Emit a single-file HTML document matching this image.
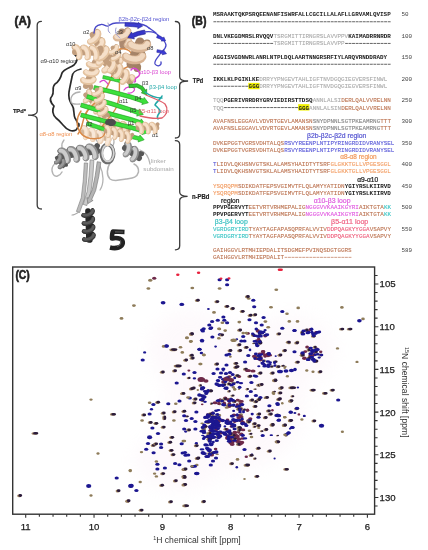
<!DOCTYPE html><html><head><meta charset="utf-8"><style>html,body{margin:0;padding:0;background:#fff;width:428px;height:550px;overflow:hidden}body{position:relative;font-family:"Liberation Sans",sans-serif}</style></head><body><svg width="428" height="550" viewBox="0 0 428 550" style="position:absolute;left:0;top:0;filter:blur(0.3px)"><defs><filter id="bt" x="-2%" y="-10%" width="104%" height="120%"><feGaussianBlur stdDeviation="0.3"/></filter></defs><g font-family="Liberation Mono" font-size="5.933" font-weight="normal" stroke-width="0.1" filter="url(#bt)"><text x="213.00" y="16.40" fill="#222222" stroke="#222222" font-weight="bold" stroke-width="0">MSRAAKTQKPSRQEENANFISWRFALLCGCILLALAFLLGRVAMLQVISP</text><line x1="213.45" y1="21.75" x2="391.00" y2="21.75" stroke="#222222" stroke-width="0.7" stroke-dasharray="2.9 0.66" stroke-dashoffset="0.2"/><text x="401.5" y="16.40" fill="#444">50</text><text x="213.00" y="38.10" fill="#222222" stroke="#222222" font-weight="bold" stroke-width="0">DNLVKEGDMRSLRVQQV</text><text x="273.52" y="38.10" fill="#ababab" stroke="#ababab">TSRGMITTIRNGRSLAVVPPV</text><text x="348.28" y="38.10" fill="#222222" stroke="#222222" font-weight="bold" stroke-width="0">KAIMADRRNRDR</text><line x1="213.45" y1="43.45" x2="273.52" y2="43.45" stroke="#222222" stroke-width="0.7" stroke-dasharray="2.9 0.66" stroke-dashoffset="0.2"/><text x="273.52" y="45.45" fill="#ababab" stroke="#ababab">TSRGMITTIRNGRSLAVVPP</text><line x1="345.17" y1="43.45" x2="391.00" y2="43.45" stroke="#222222" stroke-width="0.7" stroke-dasharray="2.9 0.66" stroke-dashoffset="0.2"/><text x="401.5" y="38.10" fill="#444">100</text><text x="213.00" y="58.90" fill="#222222" stroke="#222222" font-weight="bold" stroke-width="0">AGGISVGDNWRLANRLNTPLDQLAARTNNGRSRFIYLARQVRNDDRADY</text><line x1="213.45" y1="64.25" x2="391.00" y2="64.25" stroke="#222222" stroke-width="0.7" stroke-dasharray="2.9 0.66" stroke-dashoffset="0.2"/><text x="401.5" y="58.90" fill="#444">150</text><text x="213.00" y="80.90" fill="#222222" stroke="#222222" font-weight="bold" stroke-width="0">IKKLKLPGIKLKE</text><text x="259.28" y="80.90" fill="#ababab" stroke="#ababab">DRRYYPNGEVTAHLIGFTNVDGQGIEGVERSFINWL</text><line x1="213.45" y1="86.25" x2="248.60" y2="86.25" stroke="#222222" stroke-width="0.7" stroke-dasharray="2.9 0.66" stroke-dashoffset="0.2"/><rect x="248.30" y="82.85" width="11.28" height="6.4" fill="#f2f200"/><text x="248.60" y="88.25" fill="#222222" stroke="#222222" font-weight="bold" stroke-width="0">GGG</text><text x="259.28" y="88.25" fill="#ababab" stroke="#ababab">DRRYYPNGEVTAHLIGFTNVDGQGIEGVERSFINWL</text><text x="401.5" y="80.90" fill="#444">200</text><text x="213.00" y="102.20" fill="#ababab" stroke="#ababab">TQQ</text><text x="223.68" y="102.20" fill="#222222" stroke="#222222" font-weight="bold" stroke-width="0">PGERIVRRDRYGRVIEDIRSTTDSQ</text><text x="312.68" y="102.20" fill="#ababab" stroke="#ababab">ANNLALSI</text><text x="341.16" y="102.20" fill="#bc7452" stroke="#bc7452">DERLQALVVRELNN</text><text x="213.00" y="109.55" fill="#ababab" stroke="#ababab">TQQ</text><line x1="224.13" y1="107.55" x2="298.44" y2="107.55" stroke="#222222" stroke-width="0.7" stroke-dasharray="2.9 0.66" stroke-dashoffset="0.2"/><rect x="298.14" y="104.15" width="11.28" height="6.4" fill="#f2f200"/><text x="298.44" y="109.55" fill="#222222" stroke="#222222" font-weight="bold" stroke-width="0">GGG</text><text x="309.12" y="109.55" fill="#ababab" stroke="#ababab">ANNLALSIN</text><text x="341.16" y="109.55" fill="#bc7452" stroke="#bc7452">DERLQALVVRELNN</text><text x="401.5" y="102.20" fill="#444">250</text><text x="213.00" y="122.80" fill="#bc7452" stroke="#bc7452">AVAFNSLEGGAVLVDVRTGEVLAMANSN</text><text x="312.68" y="122.80" fill="#858585" stroke="#858585">SNYDPNNLSGTPKEAMRNG</text><text x="380.32" y="122.80" fill="#bc7452" stroke="#bc7452">TTT</text><text x="213.00" y="130.15" fill="#bc7452" stroke="#bc7452">AVAFNSLEGGAVLVDVRTGEVLAMANSN</text><text x="312.68" y="130.15" fill="#858585" stroke="#858585">SNYDPNNLSGTPKEAMRNG</text><text x="380.32" y="130.15" fill="#bc7452" stroke="#bc7452">TTT</text><text x="401.5" y="122.80" fill="#444">300</text><text x="213.00" y="144.80" fill="#bc7452" stroke="#bc7452">DVKEPGGTVGRSVDHTALQS</text><text x="284.20" y="144.80" fill="#5a5ad8" stroke="#5a5ad8">RSVYREENPLNTIPYRINGRDIDVRANYSEL</text><text x="213.00" y="152.15" fill="#bc7452" stroke="#bc7452">DVKEPGGTVGRSVDHTALQS</text><text x="284.20" y="152.15" fill="#5a5ad8" stroke="#5a5ad8">RSVYREENPLNTIPYRINGRDIDVRANYSEL</text><text x="401.5" y="144.80" fill="#444">350</text><text x="213.00" y="165.60" fill="#5a5ad8" stroke="#5a5ad8">T</text><text x="216.56" y="165.60" fill="#bc7452" stroke="#bc7452">LIDVLQKHSNVGTSKLALAMSYHAIDTYTSRF</text><text x="330.48" y="165.60" fill="#f29c62" stroke="#f29c62">GLGKKTGLLVPGESGGL</text><text x="213.00" y="172.95" fill="#5a5ad8" stroke="#5a5ad8">T</text><text x="216.56" y="172.95" fill="#bc7452" stroke="#bc7452">LIDVLQKHSNVGTSKLALAMSYHAIDTYTSRF</text><text x="330.48" y="172.95" fill="#f29c62" stroke="#f29c62">GLGKKTGLLVPGESGGL</text><text x="401.5" y="165.60" fill="#444">400</text><text x="213.00" y="187.80" fill="#f29c62" stroke="#f29c62">YSQRQPM</text><text x="237.92" y="187.80" fill="#bc7452" stroke="#bc7452">SDIKDATFEPSVGIMVTFLQLAMYYATIDN</text><text x="344.72" y="187.80" fill="#222222" stroke="#222222" font-weight="bold" stroke-width="0">YGIYRSLKIIRVD</text><text x="213.00" y="195.15" fill="#f29c62" stroke="#f29c62">YSQRQPM</text><text x="237.92" y="195.15" fill="#bc7452" stroke="#bc7452">SDIKDATFEPSVGIMVTFLQLAMYYATIDN</text><text x="344.72" y="195.15" fill="#222222" stroke="#222222" font-weight="bold" stroke-width="0">YGIYRSLKIIRVD</text><text x="401.5" y="187.80" fill="#444">450</text><text x="213.00" y="208.90" fill="#222222" stroke="#222222" font-weight="bold" stroke-width="0">PPVPGERVYT</text><text x="248.60" y="208.90" fill="#bc7452" stroke="#bc7452">EETVRTVRHMEPALIG</text><text x="305.56" y="208.90" fill="#e058e0" stroke="#e058e0">NGGGVVKAAIKGYRI</text><text x="358.96" y="208.90" fill="#bc7452" stroke="#bc7452">AIKTGTA</text><text x="383.88" y="208.90" fill="#38c4c4" stroke="#38c4c4">KK</text><text x="213.00" y="216.25" fill="#222222" stroke="#222222" font-weight="bold" stroke-width="0">PPVPGERVYT</text><text x="248.60" y="216.25" fill="#bc7452" stroke="#bc7452">EETVRTVRHMEPALIG</text><text x="305.56" y="216.25" fill="#e058e0" stroke="#e058e0">NGGGVVKAAIKGYRI</text><text x="358.96" y="216.25" fill="#bc7452" stroke="#bc7452">AIKTGTA</text><text x="383.88" y="216.25" fill="#38c4c4" stroke="#38c4c4">KK</text><text x="401.5" y="208.90" fill="#444">500</text><text x="213.00" y="230.50" fill="#38c4c4" stroke="#38c4c4">VGRDGRYIRD</text><text x="248.60" y="230.50" fill="#bc7452" stroke="#bc7452">TYAYTAGFAPASQPRFALVVIV</text><text x="326.92" y="230.50" fill="#ee5c7a" stroke="#ee5c7a">DDPQAGKYYGGA</text><text x="369.64" y="230.50" fill="#bc7452" stroke="#bc7452">VSAPVY</text><text x="213.00" y="237.85" fill="#38c4c4" stroke="#38c4c4">VGRDGRYIRD</text><text x="248.60" y="237.85" fill="#bc7452" stroke="#bc7452">TYAYTAGFAPASQPRFALVVIV</text><text x="326.92" y="237.85" fill="#ee5c7a" stroke="#ee5c7a">DDPQAGKYYGGA</text><text x="369.64" y="237.85" fill="#bc7452" stroke="#bc7452">VSAPVY</text><text x="401.5" y="230.50" fill="#444">550</text><text x="213.00" y="252.00" fill="#bc7452" stroke="#bc7452">GAIHGGVLRTMHIEPDALITSDGMEFPVINQSDGTGGRS</text><text x="213.00" y="259.35" fill="#bc7452" stroke="#bc7452">GAIHGGVLRTMHIEPDALIT</text><line x1="284.65" y1="257.35" x2="351.84" y2="257.35" stroke="#bc7452" stroke-width="0.7" stroke-dasharray="2.9 0.66" stroke-dashoffset="0.2"/><text x="401.5" y="252.00" fill="#444">589</text></g><g font-family="Liberation Sans"><text x="307.1" y="137.9" fill="#5a5ad2" stroke="#5a5ad2" stroke-width="0.22" font-size="6.8" textLength="59.3" lengthAdjust="spacingAndGlyphs">β2b-β2c-β2d region</text><text x="340.2" y="159.0" fill="#f29a5c" stroke="#f29a5c" stroke-width="0.22" font-size="7.0" textLength="36.4" lengthAdjust="spacingAndGlyphs">α8-α8 region</text><text x="357.2" y="181.8" fill="#222" stroke="#222" stroke-width="0.22" font-size="6.6" textLength="21.0" lengthAdjust="spacingAndGlyphs">α9-α10</text><text x="221.1" y="203.0" fill="#222" stroke="#222" stroke-width="0.22" font-size="6.8" textLength="18.4" lengthAdjust="spacingAndGlyphs">region</text><text x="313.7" y="203.4" fill="#e060e0" stroke="#e060e0" stroke-width="0.22" font-size="6.8" textLength="36.8" lengthAdjust="spacingAndGlyphs">α10-β3 loop</text><text x="214.8" y="223.9" fill="#40c4c4" stroke="#40c4c4" stroke-width="0.22" font-size="6.8" textLength="33.0" lengthAdjust="spacingAndGlyphs">β3-β4 loop</text><text x="331.1" y="223.8" fill="#f06888" stroke="#f06888" stroke-width="0.22" font-size="6.8" textLength="37.2" lengthAdjust="spacingAndGlyphs">β5-α11 loop</text></g><g fill="none" stroke="#3a3a3a" stroke-width="1.3" stroke-linecap="round"><path d="M 41.4 21.3 Q 37.2 21.3 37.2 25.3 L 37.2 111.2 Q 37.2 115.2 28 115.2 Q 37.2 115.2 37.2 119.2 L 37.2 205 Q 37.2 209 41.4 209"/><path d="M 175.4 21.5 Q 179.7 21.5 179.7 25.5 L 179.7 77 Q 179.7 81 188.1 81 Q 179.7 81 179.7 85 L 179.7 134 Q 179.7 138 175.4 138"/><path d="M 175.4 140.7 Q 179.7 140.7 179.7 144.7 L 179.7 192.3 Q 179.7 196.3 187.6 196.3 Q 179.7 196.3 179.7 200.3 L 179.7 245.8 Q 179.7 249.8 175.4 249.8"/></g><g font-family="Liberation Sans" font-weight="bold" fill="#222"><text x="14.6" y="24.6" font-size="12" textLength="16.2" lengthAdjust="spacingAndGlyphs" stroke="#222" stroke-width="0.55">(A)</text><text x="191.8" y="25.3" font-size="12" textLength="14.6" lengthAdjust="spacingAndGlyphs" stroke="#222" stroke-width="0.55">(B)</text><text x="15.4" y="279.4" font-size="12" textLength="14.4" lengthAdjust="spacingAndGlyphs" stroke="#222" stroke-width="0.55">(C)</text><text x="12.9" y="112.6" font-size="6.2" textLength="13.0" lengthAdjust="spacingAndGlyphs" stroke="#222" stroke-width="0.2">TPd*</text><text x="192.8" y="83.4" font-size="6.4" textLength="10.4" lengthAdjust="spacingAndGlyphs" stroke="#222" stroke-width="0.2">TPd</text><text x="192.0" y="198.6" font-size="6.4" textLength="17.4" lengthAdjust="spacingAndGlyphs" stroke="#222" stroke-width="0.2">n-PBd</text></g><defs><filter id="ba" x="-5%" y="-5%" width="110%" height="110%"><feGaussianBlur stdDeviation="0.45"/></filter></defs><g filter="url(#ba)"><path d="M64 140 C 60 145, 62 150, 66 153 M96 139 C 100 145, 98 150, 94 153" fill="none" stroke="#b4b4b4" stroke-width="1.3" stroke-linecap="round" stroke-linejoin="round"/><path d="M113 138 C 116 143, 112 146, 112 148" fill="none" stroke="#b4b4b4" stroke-width="1.3" stroke-linecap="round" stroke-linejoin="round"/><path d="M110 163 C 107 168, 106 175, 110 179 C 114 182, 120 180, 126 179 C 132 178, 137 178, 138.5 172 C 139 167, 136 165, 134 164" fill="none" stroke="#b4b4b4" stroke-width="1.5" stroke-linecap="round" stroke-linejoin="round"/><path d="M60 160 C 54 163, 50 168, 53 174 C 55 178, 60 176, 62 172" fill="none" stroke="#b4b4b4" stroke-width="1.4" stroke-linecap="round" stroke-linejoin="round"/><path d="M100 166 C 104 174, 104 184, 100 190" fill="none" stroke="#b4b4b4" stroke-width="1.3" stroke-linecap="round" stroke-linejoin="round"/><path d="M140 150 C 146 152, 149 158, 150 164" fill="none" stroke="#b4b4b4" stroke-width="1.3" stroke-linecap="round" stroke-linejoin="round"/><path d="M84.3 162.9 L83.3 179.9 L81.3 197.6 L76.4 211.4 L79.6 212.6 L84.7 198.4 L86.7 180.1 L87.7 163.1Z" fill="#bdbdbd" stroke="#7a7a7a" stroke-width="0.6" stroke-linejoin="round"/><path d="M90.1 159.9 L89.1 175.8 L87.1 191.6 L83.2 204.4 L86.8 205.6 L90.9 192.4 L92.9 176.2 L93.9 160.1Z" fill="#cacaca" stroke="#7a7a7a" stroke-width="0.6" stroke-linejoin="round"/><path d="M97.2 161.7 L95.2 175.7 L92.3 189.5 L88.4 198.3 L86.9 197.6 L88.0 203.6 L93.1 200.4 L91.6 199.7 L95.7 190.5 L98.8 176.3 L100.8 162.3Z" fill="#b4b4b4" stroke="#707070" stroke-width="0.6" stroke-linejoin="round"/><path d="M79 212 C 76 214, 74 215, 72 215" fill="none" stroke="#aaaaaa" stroke-width="1.2" stroke-linecap="round" stroke-linejoin="round"/><g><line x1="62.0" y1="156.0" x2="97.0" y2="151.0" stroke="#5a5a5a" stroke-width="6.6" stroke-linecap="round"/><path d="M60.1 151.1 L61.2 150.6" fill="none" stroke="#565656" stroke-width="5.40" stroke-linecap="round"/><path d="M67.4 160.8 L67.4 160.4 L67.3 159.2 L67.3 157.4 L67.5 155.2 L67.9 153.0 L68.5 151.1 L69.4 149.8 L70.5 149.2" fill="none" stroke="#565656" stroke-width="5.40" stroke-linecap="round"/><path d="M76.7 159.5 L76.6 159.0 L76.6 157.8 L76.6 156.0 L76.7 153.9 L77.1 151.7 L77.8 149.8 L78.7 148.5 L79.7 147.9" fill="none" stroke="#565656" stroke-width="5.40" stroke-linecap="round"/><path d="M85.9 158.1 L85.9 157.7 L85.8 156.5 L85.8 154.7 L86.0 152.6 L86.4 150.4 L87.0 148.5 L87.9 147.2 L89.0 146.6" fill="none" stroke="#565656" stroke-width="5.40" stroke-linecap="round"/><path d="M95.2 156.8 L95.1 156.4 L95.1 155.2 L95.1 153.4 L95.2 151.3 L95.6 149.1 L96.3 147.2 L97.2 145.8" fill="none" stroke="#565656" stroke-width="5.40" stroke-linecap="round"/><path d="M61.2 150.6 L62.8 150.8 L64.3 151.7 L65.7 153.3 L66.8 155.3 L67.5 157.3 L67.8 159.1 L67.7 160.3 L67.4 160.8" fill="none" stroke="#8e8e8e" stroke-width="6.36" stroke-linecap="round"/><path d="M61.2 150.6 L62.8 150.8 L64.3 151.7 L65.7 153.3 L66.8 155.3 L67.5 157.3 L67.8 159.1 L67.7 160.3 L67.4 160.8" fill="none" stroke="#cccccc" stroke-width="3.81" stroke-linecap="round" transform="translate(-0.76 0.11)"/><path d="M70.5 149.2 L72.1 149.4 L73.6 150.4 L75.0 152.0 L76.0 154.0 L76.7 156.0 L77.0 157.8 L77.0 159.0 L76.7 159.5" fill="none" stroke="#8e8e8e" stroke-width="6.36" stroke-linecap="round"/><path d="M70.5 149.2 L72.1 149.4 L73.6 150.4 L75.0 152.0 L76.0 154.0 L76.7 156.0 L77.0 157.8 L77.0 159.0 L76.7 159.5" fill="none" stroke="#cccccc" stroke-width="3.81" stroke-linecap="round" transform="translate(-0.76 0.11)"/><path d="M79.7 147.9 L81.3 148.1 L82.9 149.1 L84.2 150.7 L85.3 152.7 L86.0 154.7 L86.3 156.5 L86.2 157.7 L85.9 158.1" fill="none" stroke="#8e8e8e" stroke-width="6.36" stroke-linecap="round"/><path d="M79.7 147.9 L81.3 148.1 L82.9 149.1 L84.2 150.7 L85.3 152.7 L86.0 154.7 L86.3 156.5 L86.2 157.7 L85.9 158.1" fill="none" stroke="#cccccc" stroke-width="3.81" stroke-linecap="round" transform="translate(-0.76 0.11)"/><path d="M89.0 146.6 L90.6 146.8 L92.1 147.8 L93.5 149.4 L94.5 151.4 L95.2 153.4 L95.5 155.1 L95.5 156.4 L95.2 156.8" fill="none" stroke="#8e8e8e" stroke-width="6.36" stroke-linecap="round"/><path d="M89.0 146.6 L90.6 146.8 L92.1 147.8 L93.5 149.4 L94.5 151.4 L95.2 153.4 L95.5 155.1 L95.5 156.4 L95.2 156.8" fill="none" stroke="#cccccc" stroke-width="3.81" stroke-linecap="round" transform="translate(-0.76 0.11)"/></g><g><line x1="125.0" y1="148.0" x2="139.0" y2="158.0" stroke="#5a5a5a" stroke-width="6.0" stroke-linecap="round"/><path d="M126.8 143.6 L127.9 143.9" fill="none" stroke="#565656" stroke-width="4.91" stroke-linecap="round"/><path d="M125.6 154.5 L125.8 154.2 L126.5 153.4 L127.6 152.2 L129.1 150.9 L130.7 149.7 L132.3 148.9 L133.7 148.6 L134.8 148.9" fill="none" stroke="#565656" stroke-width="4.91" stroke-linecap="round"/><path d="M132.5 159.5 L132.7 159.2 L133.4 158.4 L134.5 157.2 L136.0 155.9 L137.6 154.7 L139.2 153.8 L140.7 153.5 L141.7 153.8" fill="none" stroke="#565656" stroke-width="4.91" stroke-linecap="round"/><path d="M127.9 143.9 L128.8 145.1 L129.2 146.7 L129.1 148.6 L128.6 150.5 L127.7 152.3 L126.8 153.7 L126.0 154.4 L125.6 154.5" fill="none" stroke="#8e8e8e" stroke-width="5.78" stroke-linecap="round"/><path d="M127.9 143.9 L128.8 145.1 L129.2 146.7 L129.1 148.6 L128.6 150.5 L127.7 152.3 L126.8 153.7 L126.0 154.4 L125.6 154.5" fill="none" stroke="#cccccc" stroke-width="3.47" stroke-linecap="round" transform="translate(-0.56 -0.40)"/><path d="M134.8 148.9 L135.7 150.0 L136.1 151.6 L136.0 153.5 L135.5 155.5 L134.7 157.2 L133.8 158.6 L133.0 159.4 L132.5 159.5" fill="none" stroke="#8e8e8e" stroke-width="5.78" stroke-linecap="round"/><path d="M134.8 148.9 L135.7 150.0 L136.1 151.6 L136.0 153.5 L135.5 155.5 L134.7 157.2 L133.8 158.6 L133.0 159.4 L132.5 159.5" fill="none" stroke="#cccccc" stroke-width="3.47" stroke-linecap="round" transform="translate(-0.56 -0.40)"/></g><ellipse cx="107.5" cy="153.5" rx="6.2" ry="9" fill="none" stroke="#6e6e6e" stroke-width="3.6"/><ellipse cx="108" cy="153" rx="5.8" ry="8.4" fill="none" stroke="#d4d4d4" stroke-width="1.8"/><g><line x1="57.0" y1="158.0" x2="63.0" y2="166.0" stroke="#555555" stroke-width="4.2" stroke-linecap="round"/><path d="M59.1 155.5 L59.8 155.9" fill="none" stroke="#535353" stroke-width="3.44" stroke-linecap="round"/><path d="M56.0 162.5 L56.2 162.3 L56.9 161.9 L57.9 161.4 L59.1 160.8 L60.4 160.4 L61.7 160.1 L62.7 160.2 L63.4 160.7" fill="none" stroke="#535353" stroke-width="3.44" stroke-linecap="round"/><path d="M59.6 167.2 L59.8 167.1 L60.4 166.7 L61.4 166.1 L62.7 165.6 L64.0 165.1 L65.3 164.9 L66.3 165.0" fill="none" stroke="#535353" stroke-width="3.44" stroke-linecap="round"/><path d="M59.8 155.9 L60.2 156.8 L60.1 158.0 L59.6 159.3 L58.8 160.4 L57.9 161.5 L57.0 162.2 L56.3 162.5 L56.0 162.5" fill="none" stroke="#777777" stroke-width="4.05" stroke-linecap="round"/><path d="M59.8 155.9 L60.2 156.8 L60.1 158.0 L59.6 159.3 L58.8 160.4 L57.9 161.5 L57.0 162.2 L56.3 162.5 L56.0 162.5" fill="none" stroke="#9a9a9a" stroke-width="2.43" stroke-linecap="round" transform="translate(-0.29 -0.39)"/><path d="M63.4 160.7 L63.7 161.6 L63.7 162.8 L63.2 164.0 L62.4 165.2 L61.5 166.2 L60.6 166.9 L59.9 167.3 L59.6 167.2" fill="none" stroke="#777777" stroke-width="4.05" stroke-linecap="round"/><path d="M63.4 160.7 L63.7 161.6 L63.7 162.8 L63.2 164.0 L62.4 165.2 L61.5 166.2 L60.6 166.9 L59.9 167.3 L59.6 167.2" fill="none" stroke="#9a9a9a" stroke-width="2.43" stroke-linecap="round" transform="translate(-0.29 -0.39)"/></g><path d="M75 55 C 79 57, 77 62, 74 65 C 70 68, 64 69, 62 73 C 61 77, 60 81, 55 84 C 51 88, 55 92, 52 96 C 48 100, 52 104, 54 106 C 52 110, 52 114, 56 118 C 60 121, 62 124, 64 126 C 67 130, 72 132, 76 130 C 78 128, 78 126, 79 124" fill="none" stroke="#2c2c2c" stroke-width="1.7" stroke-linecap="round" stroke-linejoin="round"/><path d="M81 69 C 76 70, 72 73, 72 77 C 71 82, 70 86, 69 92 C 68 98, 70 102, 72 105 C 75 109, 73 114, 75 118 C 77 121, 78 124, 79 126" fill="none" stroke="#2c2c2c" stroke-width="1.7" stroke-linecap="round" stroke-linejoin="round"/><path d="M80 92 C 74 92, 70 96, 71 102 C 72 105, 77 104, 80 104" fill="none" stroke="#b0b0b0" stroke-width="1.3" stroke-linecap="round" stroke-linejoin="round"/><g><line x1="86.0" y1="95.0" x2="104.0" y2="114.0" stroke="#c29e7e" stroke-width="5.4" stroke-linecap="round"/><path d="M88.4 91.5 L89.3 91.9" fill="none" stroke="#bf9b7b" stroke-width="4.42" stroke-linecap="round"/><path d="M85.4 100.9 L85.6 100.6 L86.4 100.0 L87.6 99.2 L89.1 98.3 L90.8 97.5 L92.3 97.0 L93.6 97.0 L94.5 97.5" fill="none" stroke="#bf9b7b" stroke-width="4.42" stroke-linecap="round"/><path d="M90.6 106.4 L90.9 106.2 L91.6 105.6 L92.9 104.7 L94.4 103.8 L96.0 103.1 L97.6 102.6 L98.9 102.6 L99.8 103.0" fill="none" stroke="#bf9b7b" stroke-width="4.42" stroke-linecap="round"/><path d="M95.9 112.0 L96.1 111.8 L96.9 111.1 L98.1 110.3 L99.6 109.4 L101.3 108.6 L102.8 108.2 L104.2 108.1 L105.1 108.6" fill="none" stroke="#bf9b7b" stroke-width="4.42" stroke-linecap="round"/><path d="M101.1 117.5 L101.4 117.3 L102.2 116.7 L103.4 115.8 L104.9 114.9" fill="none" stroke="#bf9b7b" stroke-width="4.42" stroke-linecap="round"/><path d="M89.3 91.9 L89.9 93.1 L90.0 94.5 L89.5 96.2 L88.7 97.9 L87.7 99.3 L86.6 100.3 L85.8 100.9 L85.4 100.9" fill="none" stroke="#e4c3a0" stroke-width="5.20" stroke-linecap="round"/><path d="M89.3 91.9 L89.9 93.1 L90.0 94.5 L89.5 96.2 L88.7 97.9 L87.7 99.3 L86.6 100.3 L85.8 100.9 L85.4 100.9" fill="none" stroke="#f6e0ca" stroke-width="3.12" stroke-linecap="round" transform="translate(-0.43 -0.45)"/><path d="M94.5 97.5 L95.1 98.6 L95.2 100.1 L94.8 101.8 L94.0 103.4 L92.9 104.8 L91.9 105.9 L91.1 106.4 L90.6 106.4" fill="none" stroke="#e4c3a0" stroke-width="5.20" stroke-linecap="round"/><path d="M94.5 97.5 L95.1 98.6 L95.2 100.1 L94.8 101.8 L94.0 103.4 L92.9 104.8 L91.9 105.9 L91.1 106.4 L90.6 106.4" fill="none" stroke="#f6e0ca" stroke-width="3.12" stroke-linecap="round" transform="translate(-0.43 -0.45)"/><path d="M99.8 103.0 L100.4 104.2 L100.5 105.7 L100.0 107.3 L99.2 109.0 L98.2 110.4 L97.2 111.4 L96.3 112.0 L95.9 112.0" fill="none" stroke="#e4c3a0" stroke-width="5.20" stroke-linecap="round"/><path d="M99.8 103.0 L100.4 104.2 L100.5 105.7 L100.0 107.3 L99.2 109.0 L98.2 110.4 L97.2 111.4 L96.3 112.0 L95.9 112.0" fill="none" stroke="#f6e0ca" stroke-width="3.12" stroke-linecap="round" transform="translate(-0.43 -0.45)"/><path d="M105.1 108.6 L105.7 109.7 L105.7 111.2 L105.3 112.9 L104.5 114.5 L103.5 115.9 L101.6 117.5 L101.1 117.5" fill="none" stroke="#e4c3a0" stroke-width="5.20" stroke-linecap="round"/><path d="M105.1 108.6 L105.7 109.7 L105.7 111.2 L105.3 112.9 L104.5 114.5 L103.5 115.9 L101.6 117.5 L101.1 117.5" fill="none" stroke="#f6e0ca" stroke-width="3.12" stroke-linecap="round" transform="translate(-0.43 -0.45)"/></g><g><line x1="83.0" y1="132.0" x2="108.0" y2="139.0" stroke="#d4b69a" stroke-width="5.4" stroke-linecap="round"/><path d="M83.2 127.7 L84.2 127.7" fill="none" stroke="#d2b497" stroke-width="4.42" stroke-linecap="round"/><path d="M85.5 137.4 L85.6 137.0 L85.9 136.1 L86.5 134.8 L87.4 133.2 L88.4 131.7 L89.5 130.5 L90.6 129.8 L91.6 129.7" fill="none" stroke="#d2b497" stroke-width="4.42" stroke-linecap="round"/><path d="M92.8 139.4 L92.9 139.1 L93.3 138.2 L93.9 136.8 L94.7 135.3 L95.7 133.8 L96.8 132.6 L97.9 131.9 L98.9 131.8" fill="none" stroke="#d2b497" stroke-width="4.42" stroke-linecap="round"/><path d="M100.2 141.5 L100.3 141.2 L100.7 140.2 L101.3 138.9 L102.1 137.3 L103.1 135.8 L104.2 134.6 L105.3 133.9 L106.3 133.9" fill="none" stroke="#d2b497" stroke-width="4.42" stroke-linecap="round"/><path d="M107.6 143.6 L107.7 143.2 L108.0 142.3 L108.6 141.0 L109.5 139.4" fill="none" stroke="#d2b497" stroke-width="4.42" stroke-linecap="round"/><path d="M84.2 127.7 L85.3 128.3 L86.2 129.6 L86.6 131.2 L86.8 133.1 L86.6 134.8 L86.3 136.2 L85.8 137.1 L85.5 137.4" fill="none" stroke="#ecd2b8" stroke-width="5.20" stroke-linecap="round"/><path d="M84.2 127.7 L85.3 128.3 L86.2 129.6 L86.6 131.2 L86.8 133.1 L86.6 134.8 L86.3 136.2 L85.8 137.1 L85.5 137.4" fill="none" stroke="#f8e8d8" stroke-width="3.12" stroke-linecap="round" transform="translate(-0.60 -0.17)"/><path d="M91.6 129.7 L92.7 130.4 L93.5 131.6 L94.0 133.3 L94.2 135.1 L94.0 136.9 L93.7 138.3 L93.2 139.2 L92.8 139.4" fill="none" stroke="#ecd2b8" stroke-width="5.20" stroke-linecap="round"/><path d="M91.6 129.7 L92.7 130.4 L93.5 131.6 L94.0 133.3 L94.2 135.1 L94.0 136.9 L93.7 138.3 L93.2 139.2 L92.8 139.4" fill="none" stroke="#f8e8d8" stroke-width="3.12" stroke-linecap="round" transform="translate(-0.60 -0.17)"/><path d="M98.9 131.8 L100.1 132.5 L100.9 133.7 L101.4 135.4 L101.5 137.2 L101.4 138.9 L101.0 140.3 L100.6 141.2 L100.2 141.5" fill="none" stroke="#ecd2b8" stroke-width="5.20" stroke-linecap="round"/><path d="M98.9 131.8 L100.1 132.5 L100.9 133.7 L101.4 135.4 L101.5 137.2 L101.4 138.9 L101.0 140.3 L100.6 141.2 L100.2 141.5" fill="none" stroke="#f8e8d8" stroke-width="3.12" stroke-linecap="round" transform="translate(-0.60 -0.17)"/><path d="M106.3 133.9 L107.4 134.5 L108.3 135.8 L108.7 137.4 L108.9 139.2 L107.6 143.6" fill="none" stroke="#ecd2b8" stroke-width="5.20" stroke-linecap="round"/><path d="M106.3 133.9 L107.4 134.5 L108.3 135.8 L108.7 137.4 L108.9 139.2 L107.6 143.6" fill="none" stroke="#f8e8d8" stroke-width="3.12" stroke-linecap="round" transform="translate(-0.60 -0.17)"/></g><g><line x1="100.0" y1="120.0" x2="128.0" y2="130.0" stroke="#c29e7e" stroke-width="5.4" stroke-linecap="round"/><path d="M100.5 115.8 L101.5 115.8" fill="none" stroke="#bf9b7b" stroke-width="4.42" stroke-linecap="round"/><path d="M102.1 125.5 L102.2 125.2 L102.6 124.3 L103.3 123.0 L104.3 121.5 L105.4 120.1 L106.6 119.0 L107.7 118.3 L108.7 118.3" fill="none" stroke="#bf9b7b" stroke-width="4.42" stroke-linecap="round"/><path d="M109.3 128.1 L109.4 127.8 L109.8 126.9 L110.5 125.6 L111.5 124.1 L112.6 122.7 L113.8 121.5 L114.9 120.9 L115.9 120.9" fill="none" stroke="#bf9b7b" stroke-width="4.42" stroke-linecap="round"/><path d="M116.5 130.7 L116.6 130.4 L117.0 129.5 L117.7 128.2 L118.7 126.7 L119.8 125.2 L121.0 124.1 L122.1 123.5 L123.1 123.5" fill="none" stroke="#bf9b7b" stroke-width="4.42" stroke-linecap="round"/><path d="M123.7 133.2 L123.8 132.9 L124.2 132.0 L124.9 130.7 L125.9 129.2 L127.0 127.8 L128.2 126.7 L129.3 126.1 L130.3 126.1" fill="none" stroke="#bf9b7b" stroke-width="4.42" stroke-linecap="round"/><path d="M101.5 115.8 L102.6 116.5 L103.3 117.8 L103.7 119.5 L103.7 121.3 L103.4 123.1 L103.0 124.4 L102.5 125.3 L102.1 125.5" fill="none" stroke="#e4c3a0" stroke-width="5.20" stroke-linecap="round"/><path d="M101.5 115.8 L102.6 116.5 L103.3 117.8 L103.7 119.5 L103.7 121.3 L103.4 123.1 L103.0 124.4 L102.5 125.3 L102.1 125.5" fill="none" stroke="#f6e0ca" stroke-width="3.12" stroke-linecap="round" transform="translate(-0.59 -0.21)"/><path d="M108.7 118.3 L109.8 119.1 L110.5 120.4 L110.9 122.1 L110.9 123.9 L110.6 125.6 L110.2 127.0 L109.7 127.9 L109.3 128.1" fill="none" stroke="#e4c3a0" stroke-width="5.20" stroke-linecap="round"/><path d="M108.7 118.3 L109.8 119.1 L110.5 120.4 L110.9 122.1 L110.9 123.9 L110.6 125.6 L110.2 127.0 L109.7 127.9 L109.3 128.1" fill="none" stroke="#f6e0ca" stroke-width="3.12" stroke-linecap="round" transform="translate(-0.59 -0.21)"/><path d="M115.9 120.9 L117.0 121.7 L117.7 123.0 L118.1 124.6 L118.1 126.5 L117.8 128.2 L117.4 129.6 L116.9 130.4 L116.5 130.7" fill="none" stroke="#e4c3a0" stroke-width="5.20" stroke-linecap="round"/><path d="M115.9 120.9 L117.0 121.7 L117.7 123.0 L118.1 124.6 L118.1 126.5 L117.8 128.2 L117.4 129.6 L116.9 130.4 L116.5 130.7" fill="none" stroke="#f6e0ca" stroke-width="3.12" stroke-linecap="round" transform="translate(-0.59 -0.21)"/><path d="M123.1 123.5 L124.2 124.2 L124.9 125.5 L125.3 127.2 L125.3 129.0 L125.0 130.8 L124.6 132.2 L124.1 133.0 L123.7 133.2" fill="none" stroke="#e4c3a0" stroke-width="5.20" stroke-linecap="round"/><path d="M123.1 123.5 L124.2 124.2 L124.9 125.5 L125.3 127.2 L125.3 129.0 L125.0 130.8 L124.6 132.2 L124.1 133.0 L123.7 133.2" fill="none" stroke="#f6e0ca" stroke-width="3.12" stroke-linecap="round" transform="translate(-0.59 -0.21)"/></g><path d="M118 50 C 126 46, 134 52, 132 60 C 130 68, 120 72, 116 66 C 112 60, 114 54, 118 50 M116 66 C 112 74, 110 84, 104 92 C 100 98, 94 104, 88 110 C 82 116, 84 126, 78 134" fill="none" stroke="#d98a48" stroke-width="1.5" stroke-linecap="round" stroke-linejoin="round"/><path d="M120 72 C 118 84, 122 96, 116 108 C 112 116, 104 122, 100 130" fill="none" stroke="#d98a48" stroke-width="1.4" stroke-linecap="round" stroke-linejoin="round"/><path d="M81 111 C 76 118, 76 126, 80 132 C 84 138, 92 140, 100 138 C 106 136, 106 130, 103 126 M88 110 C 84 116, 86 122, 92 124" fill="none" stroke="#d98a48" stroke-width="1.4" stroke-linecap="round" stroke-linejoin="round"/><path d="M102.7 78.5 L113.7 81.0 L123.6 83.5 L124.4 80.5 L114.3 78.0 L103.3 75.5Z" fill="#3ce03c" stroke="#1c9a1c" stroke-width="0.6" stroke-linejoin="round"/><path d="M93.5 89.4 L111.9 93.9 L130.4 98.9 L142.4 102.9 L141.8 104.6 L148.3 102.8 L144.2 97.4 L143.6 99.1 L131.6 95.1 L112.9 90.1 L94.5 85.6Z" fill="#3ce03c" stroke="#1c9a1c" stroke-width="0.6" stroke-linejoin="round"/><path d="M86.4 98.4 L111.8 105.9 L130.4 111.9 L137.3 114.4 L136.7 116.1 L143.3 114.4 L139.3 108.9 L138.7 110.6 L131.6 108.1 L113.0 102.1 L87.6 94.6Z" fill="#3ce03c" stroke="#1c9a1c" stroke-width="0.6" stroke-linejoin="round"/><path d="M80.4 106.9 L111.8 116.4 L130.4 121.4 L139.4 124.4 L138.8 126.1 L145.3 124.3 L141.2 118.9 L140.6 120.6 L131.6 117.6 L113.0 112.6 L81.6 103.1Z" fill="#3ce03c" stroke="#1c9a1c" stroke-width="0.6" stroke-linejoin="round"/><path d="M80.5 116.9 L111.9 124.9 L130.5 129.4 L142.4 132.9 L141.9 134.6 L148.4 132.6 L144.1 127.4 L143.6 129.1 L131.5 125.6 L112.9 121.1 L81.5 113.1Z" fill="#3ce03c" stroke="#1c9a1c" stroke-width="0.6" stroke-linejoin="round"/><path d="M86.4 125.3 L111.9 133.8 L130.5 138.3 L138.5 140.3 L138.1 142.0 L144.2 139.8 L139.9 135.0 L139.5 136.7 L131.5 134.7 L112.9 130.2 L87.6 121.7Z" fill="#3ce03c" stroke="#1c9a1c" stroke-width="0.6" stroke-linejoin="round"/><ellipse cx="110.5" cy="122.5" rx="5.5" ry="3.8" fill="#4e4e4e"/><g><line x1="95.0" y1="62.0" x2="86.0" y2="86.0" stroke="#c29e7e" stroke-width="6.0" stroke-linecap="round"/><path d="M99.7 62.6 L99.7 63.8" fill="none" stroke="#bf9b7b" stroke-width="4.91" stroke-linecap="round"/><path d="M88.8 64.2 L89.2 64.4 L90.2 64.8 L91.6 65.6 L93.2 66.7 L94.8 68.0 L96.0 69.3 L96.7 70.6 L96.7 71.7" fill="none" stroke="#bf9b7b" stroke-width="4.91" stroke-linecap="round"/><path d="M85.8 72.2 L86.2 72.3 L87.2 72.8 L88.6 73.6 L90.3 74.7 L91.8 75.9 L93.0 77.3 L93.7 78.6 L93.7 79.7" fill="none" stroke="#bf9b7b" stroke-width="4.91" stroke-linecap="round"/><path d="M82.9 80.1 L83.2 80.3 L84.2 80.8 L85.6 81.5 L87.3 82.6 L88.8 83.9 L90.1 85.2 L90.7 86.5 L90.7 87.6" fill="none" stroke="#bf9b7b" stroke-width="4.91" stroke-linecap="round"/><path d="M99.7 63.8 L98.8 64.9 L97.4 65.7 L95.5 66.1 L93.5 66.1 L91.5 65.8 L90.0 65.2 L89.1 64.7 L88.8 64.2" fill="none" stroke="#e4c3a0" stroke-width="5.78" stroke-linecap="round"/><path d="M99.7 63.8 L98.8 64.9 L97.4 65.7 L95.5 66.1 L93.5 66.1 L91.5 65.8 L90.0 65.2 L89.1 64.7 L88.8 64.2" fill="none" stroke="#f6e0ca" stroke-width="3.47" stroke-linecap="round" transform="translate(0.24 -0.65)"/><path d="M96.7 71.7 L95.9 72.9 L94.4 73.7 L92.5 74.1 L90.5 74.1 L88.6 73.7 L87.0 73.2 L86.1 72.6 L85.8 72.2" fill="none" stroke="#e4c3a0" stroke-width="5.78" stroke-linecap="round"/><path d="M96.7 71.7 L95.9 72.9 L94.4 73.7 L92.5 74.1 L90.5 74.1 L88.6 73.7 L87.0 73.2 L86.1 72.6 L85.8 72.2" fill="none" stroke="#f6e0ca" stroke-width="3.47" stroke-linecap="round" transform="translate(0.24 -0.65)"/><path d="M93.7 79.7 L92.9 80.8 L91.4 81.6 L89.5 82.0 L87.5 82.0 L85.6 81.7 L84.0 81.2 L83.1 80.6 L82.9 80.1" fill="none" stroke="#e4c3a0" stroke-width="5.78" stroke-linecap="round"/><path d="M93.7 79.7 L92.9 80.8 L91.4 81.6 L89.5 82.0 L87.5 82.0 L85.6 81.7 L84.0 81.2 L83.1 80.6 L82.9 80.1" fill="none" stroke="#f6e0ca" stroke-width="3.47" stroke-linecap="round" transform="translate(0.24 -0.65)"/></g><g><line x1="100.0" y1="56.0" x2="113.0" y2="72.0" stroke="#c29e7e" stroke-width="6.6" stroke-linecap="round"/><path d="M103.2 51.9 L104.3 52.5" fill="none" stroke="#bf9b7b" stroke-width="5.40" stroke-linecap="round"/><path d="M98.7 63.1 L99.0 62.8 L100.0 62.2 L101.6 61.3 L103.5 60.3 L105.6 59.5 L107.5 59.1 L109.1 59.2 L110.2 59.8" fill="none" stroke="#bf9b7b" stroke-width="5.40" stroke-linecap="round"/><path d="M104.6 70.4 L104.9 70.1 L105.9 69.4 L107.5 68.5 L109.4 67.5 L111.5 66.8 L113.4 66.3 L115.0 66.4 L116.1 67.0" fill="none" stroke="#bf9b7b" stroke-width="5.40" stroke-linecap="round"/><path d="M104.3 52.5 L104.9 54.0 L104.9 55.8 L104.2 57.8 L103.0 59.7 L101.7 61.4 L100.3 62.5 L99.2 63.1 L98.7 63.1" fill="none" stroke="#e4c3a0" stroke-width="6.36" stroke-linecap="round"/><path d="M104.3 52.5 L104.9 54.0 L104.9 55.8 L104.2 57.8 L103.0 59.7 L101.7 61.4 L100.3 62.5 L99.2 63.1 L98.7 63.1" fill="none" stroke="#f6e0ca" stroke-width="3.81" stroke-linecap="round" transform="translate(-0.48 -0.59)"/><path d="M110.2 59.8 L110.8 61.2 L110.8 63.1 L110.1 65.1 L108.9 67.0 L107.5 68.6 L106.2 69.8 L105.1 70.4 L104.6 70.4" fill="none" stroke="#e4c3a0" stroke-width="6.36" stroke-linecap="round"/><path d="M110.2 59.8 L110.8 61.2 L110.8 63.1 L110.1 65.1 L108.9 67.0 L107.5 68.6 L106.2 69.8 L105.1 70.4 L104.6 70.4" fill="none" stroke="#f6e0ca" stroke-width="3.81" stroke-linecap="round" transform="translate(-0.48 -0.59)"/><path d="M116.1 67.0 L116.7 68.5 L116.7 70.3" fill="none" stroke="#e4c3a0" stroke-width="6.36" stroke-linecap="round"/><path d="M116.1 67.0 L116.7 68.5 L116.7 70.3" fill="none" stroke="#f6e0ca" stroke-width="3.81" stroke-linecap="round" transform="translate(-0.48 -0.59)"/></g><g><line x1="110.0" y1="64.0" x2="130.0" y2="82.0" stroke="#c29e7e" stroke-width="6.0" stroke-linecap="round"/><path d="M112.3 59.9 L113.3 60.3" fill="none" stroke="#bf9b7b" stroke-width="4.91" stroke-linecap="round"/><path d="M109.8 70.6 L110.1 70.3 L110.9 69.5 L112.1 68.5 L113.7 67.4 L115.5 66.4 L117.2 65.7 L118.6 65.6 L119.7 66.0" fill="none" stroke="#bf9b7b" stroke-width="4.91" stroke-linecap="round"/><path d="M116.1 76.2 L116.4 76.0 L117.2 75.2 L118.5 74.2 L120.1 73.0 L121.8 72.0 L123.5 71.4 L124.9 71.2 L126.0 71.7" fill="none" stroke="#bf9b7b" stroke-width="4.91" stroke-linecap="round"/><path d="M122.5 81.9 L122.7 81.7 L123.5 80.9 L124.8 79.9 L126.4 78.7 L128.1 77.7 L129.8 77.1 L131.3 76.9 L132.3 77.3" fill="none" stroke="#bf9b7b" stroke-width="4.91" stroke-linecap="round"/><path d="M113.3 60.3 L114.1 61.5 L114.3 63.1 L114.0 65.0 L113.3 66.9 L112.2 68.6 L111.2 69.8 L110.3 70.5 L109.8 70.6" fill="none" stroke="#e4c3a0" stroke-width="5.78" stroke-linecap="round"/><path d="M113.3 60.3 L114.1 61.5 L114.3 63.1 L114.0 65.0 L113.3 66.9 L112.2 68.6 L111.2 69.8 L110.3 70.5 L109.8 70.6" fill="none" stroke="#f6e0ca" stroke-width="3.47" stroke-linecap="round" transform="translate(-0.52 -0.46)"/><path d="M119.7 66.0 L120.4 67.2 L120.7 68.8 L120.3 70.7 L119.6 72.6 L118.6 74.3 L117.5 75.5 L116.6 76.2 L116.1 76.2" fill="none" stroke="#e4c3a0" stroke-width="5.78" stroke-linecap="round"/><path d="M119.7 66.0 L120.4 67.2 L120.7 68.8 L120.3 70.7 L119.6 72.6 L118.6 74.3 L117.5 75.5 L116.6 76.2 L116.1 76.2" fill="none" stroke="#f6e0ca" stroke-width="3.47" stroke-linecap="round" transform="translate(-0.52 -0.46)"/><path d="M126.0 71.7 L126.8 72.9 L127.0 74.5 L126.6 76.4 L125.9 78.3 L124.9 80.0 L123.8 81.2 L122.9 81.9 L122.5 81.9" fill="none" stroke="#e4c3a0" stroke-width="5.78" stroke-linecap="round"/><path d="M126.0 71.7 L126.8 72.9 L127.0 74.5 L126.6 76.4 L125.9 78.3 L124.9 80.0 L123.8 81.2 L122.9 81.9 L122.5 81.9" fill="none" stroke="#f6e0ca" stroke-width="3.47" stroke-linecap="round" transform="translate(-0.52 -0.46)"/><path d="M132.3 77.3 L133.1 78.6" fill="none" stroke="#e4c3a0" stroke-width="5.78" stroke-linecap="round"/><path d="M132.3 77.3 L133.1 78.6" fill="none" stroke="#f6e0ca" stroke-width="3.47" stroke-linecap="round" transform="translate(-0.52 -0.46)"/></g><g><line x1="93.0" y1="35.0" x2="106.0" y2="60.0" stroke="#c29e7e" stroke-width="6.6" stroke-linecap="round"/><path d="M97.0 31.6 L97.9 32.5" fill="none" stroke="#bf9b7b" stroke-width="5.40" stroke-linecap="round"/><path d="M90.3 41.7 L90.7 41.5 L91.8 41.0 L93.5 40.5 L95.6 39.9 L97.7 39.6 L99.7 39.5 L101.3 39.9 L102.2 40.8" fill="none" stroke="#bf9b7b" stroke-width="5.40" stroke-linecap="round"/><path d="M94.6 50.0 L95.0 49.8 L96.1 49.3 L97.8 48.8 L99.9 48.2 L102.1 47.8 L104.1 47.8 L105.6 48.2 L106.5 49.1" fill="none" stroke="#bf9b7b" stroke-width="5.40" stroke-linecap="round"/><path d="M98.9 58.3 L99.3 58.1 L100.4 57.6 L102.1 57.0 L104.2 56.5 L106.4 56.1 L108.4 56.1 L109.9 56.5 L110.8 57.3" fill="none" stroke="#bf9b7b" stroke-width="5.40" stroke-linecap="round"/><path d="M97.9 32.5 L98.2 34.0 L97.8 35.8 L96.7 37.6 L95.2 39.3 L93.5 40.6 L92.0 41.5 L90.8 41.8 L90.3 41.7" fill="none" stroke="#e4c3a0" stroke-width="6.36" stroke-linecap="round"/><path d="M97.9 32.5 L98.2 34.0 L97.8 35.8 L96.7 37.6 L95.2 39.3 L93.5 40.6 L92.0 41.5 L90.8 41.8 L90.3 41.7" fill="none" stroke="#f6e0ca" stroke-width="3.81" stroke-linecap="round" transform="translate(-0.35 -0.68)"/><path d="M102.2 40.8 L102.5 42.3 L102.1 44.1 L101.0 45.9 L99.5 47.6 L97.8 48.9 L96.3 49.8 L95.1 50.1 L94.6 50.0" fill="none" stroke="#e4c3a0" stroke-width="6.36" stroke-linecap="round"/><path d="M102.2 40.8 L102.5 42.3 L102.1 44.1 L101.0 45.9 L99.5 47.6 L97.8 48.9 L96.3 49.8 L95.1 50.1 L94.6 50.0" fill="none" stroke="#f6e0ca" stroke-width="3.81" stroke-linecap="round" transform="translate(-0.35 -0.68)"/><path d="M106.5 49.1 L106.8 50.6 L106.4 52.4 L105.4 54.2 L103.8 55.9 L102.2 57.2 L100.6 58.0 L99.4 58.4 L98.9 58.3" fill="none" stroke="#e4c3a0" stroke-width="6.36" stroke-linecap="round"/><path d="M106.5 49.1 L106.8 50.6 L106.4 52.4 L105.4 54.2 L103.8 55.9 L102.2 57.2 L100.6 58.0 L99.4 58.4 L98.9 58.3" fill="none" stroke="#f6e0ca" stroke-width="3.81" stroke-linecap="round" transform="translate(-0.35 -0.68)"/></g><g><line x1="75.0" y1="52.0" x2="99.0" y2="53.0" stroke="#c29e7e" stroke-width="6.0" stroke-linecap="round"/><path d="M74.1 47.3 L75.2 47.0" fill="none" stroke="#bf9b7b" stroke-width="4.91" stroke-linecap="round"/><path d="M79.0 57.2 L79.1 56.8 L79.2 55.7 L79.5 54.1 L80.0 52.2 L80.7 50.3 L81.6 48.7 L82.6 47.7 L83.7 47.4" fill="none" stroke="#bf9b7b" stroke-width="4.91" stroke-linecap="round"/><path d="M87.5 57.5 L87.6 57.1 L87.7 56.1 L88.0 54.5 L88.5 52.6 L89.2 50.7 L90.1 49.1 L91.1 48.0 L92.2 47.7" fill="none" stroke="#bf9b7b" stroke-width="4.91" stroke-linecap="round"/><path d="M96.0 57.9 L96.1 57.5 L96.2 56.4 L96.5 54.8 L97.0 52.9 L97.7 51.0 L98.6 49.4 L99.6 48.4 L100.7 48.1" fill="none" stroke="#bf9b7b" stroke-width="4.91" stroke-linecap="round"/><path d="M75.2 47.0 L76.6 47.4 L77.8 48.6 L78.7 50.2 L79.4 52.2 L79.7 54.1 L79.6 55.7 L79.4 56.8 L79.0 57.2" fill="none" stroke="#e4c3a0" stroke-width="5.78" stroke-linecap="round"/><path d="M75.2 47.0 L76.6 47.4 L77.8 48.6 L78.7 50.2 L79.4 52.2 L79.7 54.1 L79.6 55.7 L79.4 56.8 L79.0 57.2" fill="none" stroke="#f6e0ca" stroke-width="3.47" stroke-linecap="round" transform="translate(-0.69 -0.03)"/><path d="M83.7 47.4 L85.1 47.8 L86.3 48.9 L87.2 50.6 L87.9 52.5 L88.1 54.5 L88.1 56.1 L87.9 57.2 L87.5 57.5" fill="none" stroke="#e4c3a0" stroke-width="5.78" stroke-linecap="round"/><path d="M83.7 47.4 L85.1 47.8 L86.3 48.9 L87.2 50.6 L87.9 52.5 L88.1 54.5 L88.1 56.1 L87.9 57.2 L87.5 57.5" fill="none" stroke="#f6e0ca" stroke-width="3.47" stroke-linecap="round" transform="translate(-0.69 -0.03)"/><path d="M92.2 47.7 L93.6 48.2 L94.8 49.3 L95.7 50.9 L96.4 52.9 L96.6 54.8 L96.6 56.4 L96.4 57.5 L96.0 57.9" fill="none" stroke="#e4c3a0" stroke-width="5.78" stroke-linecap="round"/><path d="M92.2 47.7 L93.6 48.2 L94.8 49.3 L95.7 50.9 L96.4 52.9 L96.6 54.8 L96.6 56.4 L96.4 57.5 L96.0 57.9" fill="none" stroke="#f6e0ca" stroke-width="3.47" stroke-linecap="round" transform="translate(-0.69 -0.03)"/></g><g><line x1="113.0" y1="48.0" x2="118.0" y2="62.0" stroke="#c29e7e" stroke-width="4.8" stroke-linecap="round"/><path d="M116.2 46.0 L116.8 46.7" fill="none" stroke="#bf9b7b" stroke-width="3.93" stroke-linecap="round"/><path d="M110.4 52.5 L110.7 52.5 L111.5 52.2 L112.8 52.0 L114.4 51.8 L116.0 51.7 L117.4 51.9 L118.5 52.4 L119.1 53.1" fill="none" stroke="#bf9b7b" stroke-width="3.93" stroke-linecap="round"/><path d="M112.7 59.0 L113.0 58.9 L113.8 58.6 L115.1 58.4 L116.6 58.2 L118.3 58.2 L119.7 58.3 L120.8 58.8 L121.3 59.5" fill="none" stroke="#bf9b7b" stroke-width="3.93" stroke-linecap="round"/><path d="M116.8 46.7 L116.9 47.8 L116.4 49.0 L115.4 50.3 L114.2 51.3 L112.8 52.1 L111.6 52.6 L110.8 52.7 L110.4 52.5" fill="none" stroke="#e4c3a0" stroke-width="4.62" stroke-linecap="round"/><path d="M116.8 46.7 L116.9 47.8 L116.4 49.0 L115.4 50.3 L114.2 51.3 L112.8 52.1 L111.6 52.6 L110.8 52.7 L110.4 52.5" fill="none" stroke="#f6e0ca" stroke-width="2.77" stroke-linecap="round" transform="translate(-0.19 -0.52)"/><path d="M119.1 53.1 L119.1 54.2 L118.7 55.5 L117.7 56.7 L116.5 57.7 L115.1 58.5 L113.9 59.0 L113.0 59.1 L112.7 59.0" fill="none" stroke="#e4c3a0" stroke-width="4.62" stroke-linecap="round"/><path d="M119.1 53.1 L119.1 54.2 L118.7 55.5 L117.7 56.7 L116.5 57.7 L115.1 58.5 L113.9 59.0 L113.0 59.1 L112.7 59.0" fill="none" stroke="#f6e0ca" stroke-width="2.77" stroke-linecap="round" transform="translate(-0.19 -0.52)"/><path d="M121.3 59.5 L121.4 60.6 L121.0 61.9" fill="none" stroke="#e4c3a0" stroke-width="4.62" stroke-linecap="round"/><path d="M121.3 59.5 L121.4 60.6 L121.0 61.9" fill="none" stroke="#f6e0ca" stroke-width="2.77" stroke-linecap="round" transform="translate(-0.19 -0.52)"/></g><g><line x1="122.0" y1="32.0" x2="123.0" y2="45.0" stroke="#ad8a6f" stroke-width="7.2" stroke-linecap="round"/><path d="M127.4 30.3 L128.0 31.5" fill="none" stroke="#a9876c" stroke-width="5.90" stroke-linecap="round"/><path d="M116.4 37.5 L116.9 37.5 L118.2 37.5 L120.1 37.7 L122.5 38.0 L124.8 38.6 L126.8 39.4 L128.2 40.5 L128.8 41.7" fill="none" stroke="#a9876c" stroke-width="5.90" stroke-linecap="round"/><path d="M128.0 31.5 L127.7 33.2 L126.5 34.8 L124.6 36.2 L122.4 37.2 L120.1 37.8 L118.2 38.0 L116.9 37.9 L116.4 37.5" fill="none" stroke="#dcb898" stroke-width="6.94" stroke-linecap="round"/><path d="M128.0 31.5 L127.7 33.2 L126.5 34.8 L124.6 36.2 L122.4 37.2 L120.1 37.8 L118.2 38.0 L116.9 37.9 L116.4 37.5" fill="none" stroke="#f2dcc6" stroke-width="4.16" stroke-linecap="round" transform="translate(-0.06 -0.83)"/><path d="M128.8 41.7 L128.4 43.4 L127.3 45.0" fill="none" stroke="#dcb898" stroke-width="6.94" stroke-linecap="round"/><path d="M128.8 41.7 L128.4 43.4 L127.3 45.0" fill="none" stroke="#f2dcc6" stroke-width="4.16" stroke-linecap="round" transform="translate(-0.06 -0.83)"/></g><g><line x1="140.0" y1="42.0" x2="131.0" y2="64.0" stroke="#a58367" stroke-width="9.0" stroke-linecap="round"/><path d="M147.0 43.2 L146.9 44.8" fill="none" stroke="#a18064" stroke-width="7.37" stroke-linecap="round"/><path d="M130.6 45.1 L131.2 45.3 L132.6 46.0 L134.7 47.3 L137.1 49.0 L139.4 50.9 L141.2 53.0 L142.2 55.0 L142.1 56.6" fill="none" stroke="#a18064" stroke-width="7.37" stroke-linecap="round"/><path d="M125.8 56.9 L126.3 57.1 L127.8 57.8 L129.9 59.1 L132.3 60.8 L134.6 62.7 L136.4 64.8 L137.4 66.8 L137.3 68.4" fill="none" stroke="#a18064" stroke-width="7.37" stroke-linecap="round"/><path d="M146.9 44.8 L145.6 46.6 L143.4 47.7 L140.6 48.2 L137.5 48.1 L134.7 47.5 L132.4 46.6 L131.0 45.7 L130.6 45.1" fill="none" stroke="#d8b494" stroke-width="8.67" stroke-linecap="round"/><path d="M146.9 44.8 L145.6 46.6 L143.4 47.7 L140.6 48.2 L137.5 48.1 L134.7 47.5 L132.4 46.6 L131.0 45.7 L130.6 45.1" fill="none" stroke="#f0d8c0" stroke-width="5.20" stroke-linecap="round" transform="translate(0.39 -0.96)"/><path d="M142.1 56.6 L140.8 58.4 L138.6 59.5 L135.7 60.0 L132.7 59.9 L129.8 59.3 L127.6 58.4 L126.2 57.5 L125.8 56.9" fill="none" stroke="#d8b494" stroke-width="8.67" stroke-linecap="round"/><path d="M142.1 56.6 L140.8 58.4 L138.6 59.5 L135.7 60.0 L132.7 59.9 L129.8 59.3 L127.6 58.4 L126.2 57.5 L125.8 56.9" fill="none" stroke="#f0d8c0" stroke-width="5.20" stroke-linecap="round" transform="translate(0.39 -0.96)"/></g><g><line x1="138.0" y1="128.0" x2="157.0" y2="128.0" stroke="#c29e7e" stroke-width="4.8" stroke-linecap="round"/><path d="M137.2 124.3 L138.0 124.0" fill="none" stroke="#bf9b7b" stroke-width="3.93" stroke-linecap="round"/><path d="M141.4 132.0 L141.4 131.7 L141.5 130.8 L141.7 129.5 L142.0 128.0 L142.5 126.5 L143.2 125.2 L144.0 124.3 L144.8 124.0" fill="none" stroke="#bf9b7b" stroke-width="3.93" stroke-linecap="round"/><path d="M148.2 132.0 L148.2 131.7 L148.3 130.8 L148.5 129.5 L148.8 128.0 L149.3 126.5 L150.0 125.2 L150.8 124.3 L151.6 124.0" fill="none" stroke="#bf9b7b" stroke-width="3.93" stroke-linecap="round"/><path d="M155.0 132.0 L155.0 131.7 L155.1 130.8 L155.3 129.5 L155.6 128.0 L156.1 126.5 L156.8 125.2 L157.6 124.3" fill="none" stroke="#bf9b7b" stroke-width="3.93" stroke-linecap="round"/><path d="M138.0 124.0 L139.1 124.3 L140.1 125.2 L140.9 126.5 L141.5 128.0 L141.8 129.5 L141.8 130.8 L141.7 131.7 L141.4 132.0" fill="none" stroke="#e4c3a0" stroke-width="4.62" stroke-linecap="round"/><path d="M138.0 124.0 L139.1 124.3 L140.1 125.2 L140.9 126.5 L141.5 128.0 L141.8 129.5 L141.8 130.8 L141.7 131.7 L141.4 132.0" fill="none" stroke="#f6e0ca" stroke-width="2.77" stroke-linecap="round" transform="translate(-0.55 -0.00)"/><path d="M144.8 124.0 L145.9 124.3 L146.9 125.2 L147.7 126.5 L148.3 128.0 L148.6 129.5 L148.6 130.8 L148.5 131.7 L148.2 132.0" fill="none" stroke="#e4c3a0" stroke-width="4.62" stroke-linecap="round"/><path d="M144.8 124.0 L145.9 124.3 L146.9 125.2 L147.7 126.5 L148.3 128.0 L148.6 129.5 L148.6 130.8 L148.5 131.7 L148.2 132.0" fill="none" stroke="#f6e0ca" stroke-width="2.77" stroke-linecap="round" transform="translate(-0.55 -0.00)"/><path d="M151.6 124.0 L152.7 124.3 L153.7 125.2 L154.5 126.5 L155.1 128.0 L155.4 129.5 L155.4 130.8 L155.3 131.7 L155.0 132.0" fill="none" stroke="#e4c3a0" stroke-width="4.62" stroke-linecap="round"/><path d="M151.6 124.0 L152.7 124.3 L153.7 125.2 L154.5 126.5 L155.1 128.0 L155.4 129.5 L155.4 130.8 L155.3 131.7 L155.0 132.0" fill="none" stroke="#f6e0ca" stroke-width="2.77" stroke-linecap="round" transform="translate(-0.55 -0.00)"/></g><g><line x1="97.0" y1="90.0" x2="104.0" y2="116.0" stroke="#c29e7e" stroke-width="4.8" stroke-linecap="round"/><path d="M100.4 88.2 L100.9 89.0" fill="none" stroke="#bf9b7b" stroke-width="3.93" stroke-linecap="round"/><path d="M94.0 94.3 L94.3 94.3 L95.2 94.1 L96.5 93.9 L98.0 93.9 L99.7 94.0 L101.1 94.3 L102.1 94.8 L102.6 95.5" fill="none" stroke="#bf9b7b" stroke-width="3.93" stroke-linecap="round"/><path d="M95.8 100.9 L96.1 100.8 L96.9 100.7 L98.2 100.5 L99.8 100.4 L101.4 100.5 L102.8 100.8 L103.9 101.4 L104.4 102.1" fill="none" stroke="#bf9b7b" stroke-width="3.93" stroke-linecap="round"/><path d="M97.6 107.5 L97.9 107.4 L98.7 107.2 L100.0 107.1 L101.6 107.0 L103.2 107.1 L104.6 107.4 L105.7 107.9 L106.2 108.7" fill="none" stroke="#bf9b7b" stroke-width="3.93" stroke-linecap="round"/><path d="M99.3 114.0 L99.6 114.0 L100.5 113.8 L101.8 113.6 L103.3 113.6 L105.0 113.7 L106.4 114.0 L107.4 114.5 L107.9 115.2" fill="none" stroke="#bf9b7b" stroke-width="3.93" stroke-linecap="round"/><path d="M100.9 89.0 L100.9 90.1 L100.3 91.3 L99.2 92.4 L97.9 93.4 L96.5 94.1 L95.3 94.4 L94.4 94.5 L94.0 94.3" fill="none" stroke="#e4c3a0" stroke-width="4.62" stroke-linecap="round"/><path d="M100.9 89.0 L100.9 90.1 L100.3 91.3 L99.2 92.4 L97.9 93.4 L96.5 94.1 L95.3 94.4 L94.4 94.5 L94.0 94.3" fill="none" stroke="#f6e0ca" stroke-width="2.77" stroke-linecap="round" transform="translate(-0.14 -0.54)"/><path d="M102.6 95.5 L102.6 96.7 L102.1 97.9 L101.0 99.0 L99.7 99.9 L98.3 100.6 L97.0 101.0 L96.2 101.1 L95.8 100.9" fill="none" stroke="#e4c3a0" stroke-width="4.62" stroke-linecap="round"/><path d="M102.6 95.5 L102.6 96.7 L102.1 97.9 L101.0 99.0 L99.7 99.9 L98.3 100.6 L97.0 101.0 L96.2 101.1 L95.8 100.9" fill="none" stroke="#f6e0ca" stroke-width="2.77" stroke-linecap="round" transform="translate(-0.14 -0.54)"/><path d="M104.4 102.1 L104.4 103.2 L103.8 104.4 L102.8 105.6 L101.4 106.5 L100.0 107.2 L98.8 107.6 L97.9 107.6 L97.6 107.5" fill="none" stroke="#e4c3a0" stroke-width="4.62" stroke-linecap="round"/><path d="M104.4 102.1 L104.4 103.2 L103.8 104.4 L102.8 105.6 L101.4 106.5 L100.0 107.2 L98.8 107.6 L97.9 107.6 L97.6 107.5" fill="none" stroke="#f6e0ca" stroke-width="2.77" stroke-linecap="round" transform="translate(-0.14 -0.54)"/><path d="M106.2 108.7 L106.2 109.8 L105.6 111.0 L104.5 112.1 L103.2 113.1 L101.8 113.8 L100.6 114.1 L99.7 114.2 L99.3 114.0" fill="none" stroke="#e4c3a0" stroke-width="4.62" stroke-linecap="round"/><path d="M106.2 108.7 L106.2 109.8 L105.6 111.0 L104.5 112.1 L103.2 113.1 L101.8 113.8 L100.6 114.1 L99.7 114.2 L99.3 114.0" fill="none" stroke="#f6e0ca" stroke-width="2.77" stroke-linecap="round" transform="translate(-0.14 -0.54)"/></g><g><line x1="106.0" y1="131.0" x2="130.0" y2="138.0" stroke="#c29e7e" stroke-width="4.8" stroke-linecap="round"/><path d="M106.2 127.2 L107.1 127.2" fill="none" stroke="#bf9b7b" stroke-width="3.93" stroke-linecap="round"/><path d="M108.1 135.8 L108.2 135.5 L108.6 134.7 L109.1 133.5 L109.9 132.1 L110.8 130.8 L111.8 129.7 L112.8 129.1 L113.6 129.1" fill="none" stroke="#bf9b7b" stroke-width="3.93" stroke-linecap="round"/><path d="M114.7 137.7 L114.8 137.4 L115.1 136.6 L115.6 135.4 L116.4 134.0 L117.3 132.7 L118.3 131.6 L119.3 131.0 L120.2 131.0" fill="none" stroke="#bf9b7b" stroke-width="3.93" stroke-linecap="round"/><path d="M121.2 139.6 L121.3 139.3 L121.6 138.5 L122.2 137.3 L122.9 135.9 L123.8 134.6 L124.8 133.5 L125.8 132.9 L126.7 132.9" fill="none" stroke="#bf9b7b" stroke-width="3.93" stroke-linecap="round"/><path d="M127.7 141.5 L127.8 141.2 L128.1 140.4 L128.7 139.2 L129.4 137.8 L130.4 136.5 L131.4 135.4 L132.3 134.8" fill="none" stroke="#bf9b7b" stroke-width="3.93" stroke-linecap="round"/><path d="M107.1 127.2 L108.1 127.8 L108.8 128.9 L109.2 130.4 L109.4 132.0 L109.2 133.5 L108.9 134.8 L108.5 135.6 L108.1 135.8" fill="none" stroke="#e4c3a0" stroke-width="4.62" stroke-linecap="round"/><path d="M107.1 127.2 L108.1 127.8 L108.8 128.9 L109.2 130.4 L109.4 132.0 L109.2 133.5 L108.9 134.8 L108.5 135.6 L108.1 135.8" fill="none" stroke="#f6e0ca" stroke-width="2.77" stroke-linecap="round" transform="translate(-0.53 -0.16)"/><path d="M113.6 129.1 L114.6 129.7 L115.4 130.8 L115.8 132.3 L115.9 133.9 L115.7 135.4 L115.4 136.7 L115.0 137.5 L114.7 137.7" fill="none" stroke="#e4c3a0" stroke-width="4.62" stroke-linecap="round"/><path d="M113.6 129.1 L114.6 129.7 L115.4 130.8 L115.8 132.3 L115.9 133.9 L115.7 135.4 L115.4 136.7 L115.0 137.5 L114.7 137.7" fill="none" stroke="#f6e0ca" stroke-width="2.77" stroke-linecap="round" transform="translate(-0.53 -0.16)"/><path d="M120.2 131.0 L121.2 131.6 L121.9 132.7 L122.3 134.2 L122.4 135.8 L122.3 137.3 L121.9 138.6 L121.5 139.4 L121.2 139.6" fill="none" stroke="#e4c3a0" stroke-width="4.62" stroke-linecap="round"/><path d="M120.2 131.0 L121.2 131.6 L121.9 132.7 L122.3 134.2 L122.4 135.8 L122.3 137.3 L121.9 138.6 L121.5 139.4 L121.2 139.6" fill="none" stroke="#f6e0ca" stroke-width="2.77" stroke-linecap="round" transform="translate(-0.53 -0.16)"/><path d="M126.7 132.9 L127.7 133.5 L128.4 134.6 L128.8 136.1 L128.9 137.7 L128.8 139.2 L128.5 140.5 L128.1 141.3 L127.7 141.5" fill="none" stroke="#e4c3a0" stroke-width="4.62" stroke-linecap="round"/><path d="M126.7 132.9 L127.7 133.5 L128.4 134.6 L128.8 136.1 L128.9 137.7 L128.8 139.2 L128.5 140.5 L128.1 141.3 L127.7 141.5" fill="none" stroke="#f6e0ca" stroke-width="2.77" stroke-linecap="round" transform="translate(-0.53 -0.16)"/></g><path d="M94 33 C 94 28, 97 25, 101 24.5 C 104 24, 106 27, 108 26 C 110 25, 112 23, 116 23 C 122 23, 128 22.5, 134 23 C 140 23.5, 146 25, 149 28" fill="none" stroke="#4848c8" stroke-width="1.3" stroke-linecap="round" stroke-linejoin="round"/><path d="M108 23 C 110 28, 106 30, 110 33 M 116 28 C 114 34, 118 36, 120 38" fill="none" stroke="#9a9ad0" stroke-width="1.0" stroke-linecap="round" stroke-linejoin="round"/><path d="M124.9 26.2 L132.9 26.7 L137.8 27.2 L137.7 28.7 L142.7 26.0 L138.3 22.3 L138.2 23.8 L133.1 23.3 L125.1 22.8Z" fill="#3c3cd0" stroke="#2a2a9a" stroke-width="0.6" stroke-linejoin="round"/><path d="M144.6 30.0 L137.4 31.6 L132.3 33.6 L131.6 32.0 L127.8 37.6 L134.4 39.0 L133.7 37.4 L138.6 35.4 L145.4 34.0Z" fill="#3434c8" stroke="#24248a" stroke-width="0.6" stroke-linejoin="round"/><path d="M144 32 C 150 31, 155 32, 158 35 C 161 38, 165 40, 166 45 C 166 50, 161 51, 160 54 C 158 58, 154 60, 155 64 C 157 67, 162 66, 161 62 M149 28 C 152 30, 154 31, 156 33" fill="none" stroke="#4848c8" stroke-width="1.3" stroke-linecap="round" stroke-linejoin="round"/><path d="M156.6 37.7 L159.5 38.7 L161.8 40.1 L161.2 41.1 L165.6 40.9 L163.8 36.9 L163.2 37.9 L160.5 36.3 L157.4 35.3Z" fill="#3a3ad8" stroke="#2a2a9a" stroke-width="0.6" stroke-linejoin="round"/><path d="M156.8 52.3 L159.7 52.8 L162.6 53.7 L162.2 54.8 L166.5 53.7 L163.8 50.2 L163.4 51.3 L160.3 50.2 L157.2 49.7Z" fill="#3a3ad8" stroke="#2a2a9a" stroke-width="0.6" stroke-linejoin="round"/><path d="M131 70 C 134 66, 138 70, 139 72 C 141 75, 138 77, 136 78 C 134 80, 137 82, 134 82" fill="none" stroke="#d844d0" stroke-width="1.4" stroke-linecap="round" stroke-linejoin="round"/><path d="M124 90 C 126 87, 130 86, 134 88 C 136 90, 132 94, 128 93" fill="none" stroke="#d844d0" stroke-width="1.2" stroke-linecap="round" stroke-linejoin="round"/><path d="M100 82 C 104 78, 106 82, 108 84" fill="none" stroke="#d844d0" stroke-width="1.3" stroke-linecap="round" stroke-linejoin="round"/><path d="M129.1 87.7 L136.7 87.2 L140.9 89.3 L142.6 91.9 L141.3 92.8 L146.6 95.0 L146.7 89.2 L145.4 90.1 L143.1 86.7 L137.3 83.8 L128.9 84.3Z" fill="#30c830" stroke="#187a18" stroke-width="0.6" stroke-linejoin="round"/><path d="M145 92 C 150 96, 156 98, 162 98 M162 96 C 160 100, 156 102, 155 105 C 158 108, 161 110, 160 112 C 158 115, 156 117, 158 119" fill="none" stroke="#22a8a8" stroke-width="1.6" stroke-linecap="round" stroke-linejoin="round"/><path d="M146 95 C 152 98, 160 100, 165 104 C 168 108, 168 114, 162 118 C 156 119, 148 118, 140 116" fill="none" stroke="#e0606c" stroke-width="1.3" stroke-linecap="round" stroke-linejoin="round"/><g><line x1="88.0" y1="211.0" x2="89.0" y2="240.0" stroke="#252525" stroke-width="5.7" stroke-linecap="round"/><path d="M92.4 209.9 L92.7 210.8" fill="none" stroke="#232323" stroke-width="3.73" stroke-linecap="round"/><path d="M83.4 215.2 L83.8 215.2 L84.8 215.3 L86.3 215.4 L88.2 215.8 L90.0 216.3 L91.6 217.0 L92.6 217.9 L93.0 218.9" fill="none" stroke="#232323" stroke-width="3.73" stroke-linecap="round"/><path d="M83.7 223.3 L84.0 223.3 L85.1 223.3 L86.6 223.5 L88.4 223.8 L90.3 224.4 L91.8 225.1 L92.9 226.0 L93.3 227.0" fill="none" stroke="#232323" stroke-width="3.73" stroke-linecap="round"/><path d="M83.9 231.3 L84.3 231.3 L85.3 231.4 L86.9 231.6 L88.7 231.9 L90.6 232.5 L92.1 233.2 L93.2 234.1 L93.6 235.0" fill="none" stroke="#232323" stroke-width="3.73" stroke-linecap="round"/><path d="M84.2 239.4 L84.6 239.4 L85.6 239.5 L87.2 239.6 L89.0 240.0 L90.8 240.5" fill="none" stroke="#232323" stroke-width="3.73" stroke-linecap="round"/><path d="M92.7 210.8 L92.4 212.2 L91.4 213.4 L89.9 214.4 L88.1 215.2 L86.3 215.6 L84.8 215.7 L83.8 215.5 L83.4 215.2" fill="none" stroke="#3a3a3a" stroke-width="4.39" stroke-linecap="round"/><path d="M92.7 210.8 L92.4 212.2 L91.4 213.4 L89.9 214.4 L88.1 215.2 L86.3 215.6 L84.8 215.7 L83.8 215.5 L83.4 215.2" fill="none" stroke="#5c5c5c" stroke-width="2.64" stroke-linecap="round" transform="translate(-0.02 -0.53)"/><path d="M93.0 218.9 L92.7 220.2 L91.7 221.5 L90.2 222.5 L88.4 223.2 L86.6 223.6 L85.1 223.7 L84.0 223.6 L83.7 223.3" fill="none" stroke="#3a3a3a" stroke-width="4.39" stroke-linecap="round"/><path d="M93.0 218.9 L92.7 220.2 L91.7 221.5 L90.2 222.5 L88.4 223.2 L86.6 223.6 L85.1 223.7 L84.0 223.6 L83.7 223.3" fill="none" stroke="#5c5c5c" stroke-width="2.64" stroke-linecap="round" transform="translate(-0.02 -0.53)"/><path d="M93.3 227.0 L93.0 228.3 L92.0 229.5 L90.5 230.6 L88.7 231.3 L86.9 231.7 L85.4 231.8 L84.3 231.6 L83.9 231.3" fill="none" stroke="#3a3a3a" stroke-width="4.39" stroke-linecap="round"/><path d="M93.3 227.0 L93.0 228.3 L92.0 229.5 L90.5 230.6 L88.7 231.3 L86.9 231.7 L85.4 231.8 L84.3 231.6 L83.9 231.3" fill="none" stroke="#5c5c5c" stroke-width="2.64" stroke-linecap="round" transform="translate(-0.02 -0.53)"/><path d="M93.6 235.0 L93.3 236.4 L92.3 237.6 L90.8 238.6 L89.0 239.4 L87.2 239.8 L85.6 239.9 L84.6 239.7 L84.2 239.4" fill="none" stroke="#3a3a3a" stroke-width="4.39" stroke-linecap="round"/><path d="M93.6 235.0 L93.3 236.4 L92.3 237.6 L90.8 238.6 L89.0 239.4 L87.2 239.8 L85.6 239.9 L84.6 239.7 L84.2 239.4" fill="none" stroke="#5c5c5c" stroke-width="2.64" stroke-linecap="round" transform="translate(-0.02 -0.53)"/></g><path d="M124.5 232 L113 231.5 C 112 233, 112 236, 112 238.5 C 118 237, 123 239, 122.8 243 C 122.5 247.5, 116 249, 110 247.5" fill="none" stroke="#202020" stroke-width="4.6" stroke-linecap="butt" stroke-linejoin="round"/><path d="M123 232 L115 231.8 M120 240 C 121.5 242, 121 245, 117 246.5" fill="none" stroke="#5a5a5a" stroke-width="1.2"/></g><g font-family="Liberation Sans" filter="url(#bt)"><text x="118.6" y="20.5" fill="#5050d0" font-size="5.8">β2b-β2c-β2d region</text><text x="83" y="34" fill="#333" font-size="5.6">α2</text><text x="116.5" y="34" fill="#333" font-size="5.6">α3</text><text x="147" y="50" fill="#333" font-size="5.6">α8</text><text x="115" y="54" fill="#333" font-size="5.6">α4</text><text x="66" y="46" fill="#333" font-size="5.6">α10</text><text x="40.5" y="62.5" fill="#333" font-size="5.8">α9-α10 region</text><text x="140" y="74" fill="#d844d0" font-size="5.8">α10-β3 loop</text><text x="142" y="85" fill="#333" font-size="5.6">β3</text><text x="149.3" y="88.6" fill="#22a8a8" font-size="5.8">β3-β4 loop</text><text x="135" y="100" fill="#333" font-size="5.6">β4</text><text x="119" y="102.7" fill="#333" font-size="5.6">α11</text><text x="130" y="111.7" fill="#333" font-size="5.6">β5</text><text x="138.6" y="113.3" fill="#e0606c" font-size="5.8">β5-α11 loop</text><text x="128" y="125" fill="#333" font-size="5.6">β1</text><text x="86" y="126" fill="#333" font-size="5.6">β2</text><text x="75" y="89.5" fill="#333" font-size="5.6">α9</text><text x="152" y="137" fill="#333" font-size="5.6">α1</text><text x="39.5" y="136" fill="#f09050" font-size="5.8">α8-α8 region</text><text x="158.4" y="163.2" fill="#a8a8a8" font-size="6.2" text-anchor="middle">linker</text><text x="158.5" y="171.3" fill="#a8a8a8" font-size="6.2" text-anchor="middle">subdomain</text></g><defs><filter id="bl" x="-50%" y="-50%" width="200%" height="200%"><feGaussianBlur stdDeviation="9"/></filter></defs><g filter="url(#bl)" fill="#f8e2ef" opacity="0.2"><ellipse cx="235" cy="400" rx="70" ry="70"/><ellipse cx="290" cy="350" rx="45" ry="35"/><ellipse cx="190" cy="350" rx="40" ry="40"/><ellipse cx="180" cy="460" rx="45" ry="30"/></g><rect x="12.7" y="267.0" width="361.90000000000003" height="247.20000000000005" fill="none" stroke="#333" stroke-width="1.4"/><path d="M25.70 514.2 v3.6 M39.37 514.2 v2.6 M53.04 514.2 v2.6 M66.70 514.2 v2.6 M80.37 514.2 v2.6 M94.04 514.2 v3.6 M107.71 514.2 v2.6 M121.38 514.2 v2.6 M135.04 514.2 v2.6 M148.71 514.2 v2.6 M162.38 514.2 v3.6 M176.05 514.2 v2.6 M189.72 514.2 v2.6 M203.38 514.2 v2.6 M217.05 514.2 v2.6 M230.72 514.2 v3.6 M244.39 514.2 v2.6 M258.06 514.2 v2.6 M271.72 514.2 v2.6 M285.39 514.2 v2.6 M299.06 514.2 v3.6 M312.73 514.2 v2.6 M326.40 514.2 v2.6 M340.06 514.2 v2.6 M353.73 514.2 v2.6 M367.40 514.2 v3.6 M374.6 275.46 h3.0 M374.6 284.00 h3.8 M374.6 292.54 h3.0 M374.6 301.08 h3.0 M374.6 309.62 h3.0 M374.6 318.16 h3.0 M374.6 326.70 h3.8 M374.6 335.24 h3.0 M374.6 343.78 h3.0 M374.6 352.32 h3.0 M374.6 360.86 h3.0 M374.6 369.40 h3.8 M374.6 377.94 h3.0 M374.6 386.48 h3.0 M374.6 395.02 h3.0 M374.6 403.56 h3.0 M374.6 412.10 h3.8 M374.6 420.64 h3.0 M374.6 429.18 h3.0 M374.6 437.72 h3.0 M374.6 446.26 h3.0 M374.6 454.80 h3.8 M374.6 463.34 h3.0 M374.6 471.88 h3.0 M374.6 480.42 h3.0 M374.6 488.96 h3.0 M374.6 497.50 h3.8 M374.6 506.04 h3.0" stroke="#333" stroke-width="1.1" fill="none"/><g font-family="Liberation Sans" font-size="9.6" fill="#222" stroke="#222" stroke-width="0.25"><text x="25.70" y="530.0" text-anchor="middle">11</text><text x="94.04" y="530.0" text-anchor="middle">10</text><text x="162.38" y="530.0" text-anchor="middle">9</text><text x="230.72" y="530.0" text-anchor="middle">8</text><text x="299.06" y="530.0" text-anchor="middle">7</text><text x="367.40" y="530.0" text-anchor="middle">6</text><text x="379.6" y="287.40">105</text><text x="379.6" y="330.10">110</text><text x="379.6" y="372.80">115</text><text x="379.6" y="415.50">120</text><text x="379.6" y="458.20">125</text><text x="379.6" y="500.90">130</text><text x="197" y="542.6" text-anchor="middle" font-size="8.6" stroke="none" fill="#333"><tspan font-size="5.4" dy="-3">1</tspan><tspan dy="3">H chemical shift [ppm]</tspan></text><text transform="translate(401.6 392.3) rotate(90)" text-anchor="middle" font-size="8.6" stroke="none" fill="#333"><tspan font-size="5.4" dy="-3">15</tspan><tspan dy="3">N chemical shift [ppm]</tspan></text></g><defs><filter id="bp" x="-5%" y="-5%" width="110%" height="110%"><feGaussianBlur stdDeviation="0.4"/></filter></defs><g filter="url(#bp)"><ellipse cx="203.6" cy="428.7" rx="2.5" ry="1.6" fill="#8e7c5a"/><ellipse cx="208.5" cy="433.7" rx="2.3" ry="1.8" fill="#8e7c5a"/><ellipse cx="219.0" cy="425.0" rx="2.5" ry="1.5" fill="#8e7c5a"/><ellipse cx="218.0" cy="434.7" rx="1.7" ry="1.6" fill="#8e7c5a"/><ellipse cx="219.1" cy="415.2" rx="2.2" ry="1.1" fill="#8e7c5a"/><ellipse cx="207.4" cy="456.1" rx="1.7" ry="1.4" fill="#8e7c5a"/><ellipse cx="203.8" cy="453.6" rx="1.8" ry="1.1" fill="#8e7c5a"/><ellipse cx="229.1" cy="399.5" rx="1.5" ry="1.7" fill="#8e7c5a"/><ellipse cx="239.4" cy="401.0" rx="1.9" ry="1.7" fill="#8e7c5a"/><ellipse cx="226.8" cy="407.7" rx="2.2" ry="1.1" fill="#8e7c5a"/><ellipse cx="232.7" cy="405.7" rx="1.9" ry="1.3" fill="#8e7c5a"/><ellipse cx="228.5" cy="405.2" rx="1.7" ry="1.8" fill="#8e7c5a"/><ellipse cx="231.2" cy="399.2" rx="1.8" ry="1.7" fill="#8e7c5a"/><ellipse cx="219.7" cy="403.7" rx="1.7" ry="1.5" fill="#8e7c5a"/><ellipse cx="224.2" cy="403.9" rx="1.5" ry="1.2" fill="#8e7c5a"/><ellipse cx="233.2" cy="425.0" rx="1.9" ry="1.6" fill="#8e7c5a"/><ellipse cx="234.7" cy="389.3" rx="1.7" ry="1.5" fill="#8e7c5a"/><ellipse cx="233.5" cy="383.0" rx="2.5" ry="1.3" fill="#8e7c5a"/><ellipse cx="229.5" cy="376.6" rx="2.4" ry="1.1" fill="#8e7c5a"/><ellipse cx="233.4" cy="387.3" rx="1.6" ry="1.4" fill="#8e7c5a"/><ellipse cx="263.9" cy="360.7" rx="2.1" ry="1.5" fill="#8e7c5a"/><ellipse cx="241.1" cy="414.6" rx="1.8" ry="1.3" fill="#8e7c5a"/><ellipse cx="241.6" cy="416.9" rx="2.0" ry="1.7" fill="#8e7c5a"/><ellipse cx="240.1" cy="407.7" rx="2.4" ry="1.6" fill="#8e7c5a"/><ellipse cx="204.4" cy="396.6" rx="2.0" ry="1.2" fill="#8e7c5a"/><ellipse cx="230.9" cy="442.7" rx="2.5" ry="1.7" fill="#8e7c5a"/><ellipse cx="282.3" cy="403.2" rx="1.3" ry="1.3" fill="#8e7c5a"/><ellipse cx="265.0" cy="398.0" rx="1.4" ry="1.0" fill="#8e7c5a"/><ellipse cx="217.9" cy="421.8" rx="1.3" ry="1.2" fill="#8e7c5a"/><ellipse cx="258.7" cy="428.0" rx="1.6" ry="0.9" fill="#8e7c5a"/><ellipse cx="210.2" cy="432.9" rx="1.5" ry="1.3" fill="#8e7c5a"/><ellipse cx="212.9" cy="414.1" rx="1.4" ry="0.9" fill="#8e7c5a"/><ellipse cx="230.4" cy="356.7" rx="1.4" ry="1.1" fill="#8e7c5a"/><ellipse cx="225.6" cy="374.2" rx="1.5" ry="0.8" fill="#8e7c5a"/><ellipse cx="285.4" cy="366.7" rx="1.3" ry="1.0" fill="#8e7c5a"/><ellipse cx="277.5" cy="414.5" rx="1.8" ry="0.9" fill="#8e7c5a"/><ellipse cx="284.7" cy="367.8" rx="1.3" ry="1.2" fill="#8e7c5a"/><ellipse cx="226.8" cy="405.6" rx="1.5" ry="1.1" fill="#8e7c5a"/><ellipse cx="217.2" cy="454.2" rx="1.8" ry="0.8" fill="#8e7c5a"/><ellipse cx="197.8" cy="390.0" rx="1.2" ry="1.1" fill="#8e7c5a"/><ellipse cx="202.1" cy="423.4" rx="1.8" ry="0.8" fill="#8e7c5a"/><ellipse cx="239.0" cy="389.2" rx="1.1" ry="0.8" fill="#8e7c5a"/><ellipse cx="210.3" cy="430.6" rx="2.0" ry="1.5" fill="#6e2a4a"/><ellipse cx="216.3" cy="429.6" rx="1.9" ry="1.8" fill="#6e2a4a"/><ellipse cx="205.3" cy="426.2" rx="1.8" ry="1.3" fill="#6e2a4a"/><ellipse cx="215.1" cy="426.2" rx="2.1" ry="1.3" fill="#6e2a4a"/><ellipse cx="210.9" cy="427.6" rx="2.5" ry="1.4" fill="#6e2a4a"/><ellipse cx="220.5" cy="432.9" rx="1.8" ry="1.7" fill="#6e2a4a"/><ellipse cx="211.3" cy="429.6" rx="2.1" ry="1.4" fill="#6e2a4a"/><ellipse cx="207.6" cy="416.3" rx="1.9" ry="1.2" fill="#6e2a4a"/><ellipse cx="214.1" cy="424.7" rx="1.8" ry="1.7" fill="#6e2a4a"/><ellipse cx="218.9" cy="421.4" rx="1.9" ry="1.7" fill="#6e2a4a"/><ellipse cx="221.6" cy="420.1" rx="2.3" ry="1.4" fill="#6e2a4a"/><ellipse cx="216.8" cy="420.2" rx="2.5" ry="1.1" fill="#6e2a4a"/><ellipse cx="208.2" cy="414.5" rx="2.3" ry="1.2" fill="#6e2a4a"/><ellipse cx="212.5" cy="413.1" rx="1.9" ry="1.6" fill="#6e2a4a"/><ellipse cx="215.6" cy="449.1" rx="1.8" ry="1.3" fill="#6e2a4a"/><ellipse cx="211.7" cy="454.9" rx="2.3" ry="1.7" fill="#6e2a4a"/><ellipse cx="219.0" cy="400.4" rx="2.1" ry="1.3" fill="#6e2a4a"/><ellipse cx="229.5" cy="406.2" rx="1.8" ry="1.7" fill="#6e2a4a"/><ellipse cx="241.3" cy="401.4" rx="2.5" ry="1.4" fill="#6e2a4a"/><ellipse cx="224.3" cy="403.3" rx="1.8" ry="1.8" fill="#6e2a4a"/><ellipse cx="237.5" cy="405.1" rx="1.7" ry="1.2" fill="#6e2a4a"/><ellipse cx="215.1" cy="402.8" rx="2.5" ry="1.5" fill="#6e2a4a"/><ellipse cx="218.7" cy="403.4" rx="1.7" ry="1.7" fill="#6e2a4a"/><ellipse cx="234.9" cy="401.6" rx="1.6" ry="1.4" fill="#6e2a4a"/><ellipse cx="237.6" cy="400.1" rx="1.8" ry="1.4" fill="#6e2a4a"/><ellipse cx="220.2" cy="400.0" rx="1.8" ry="1.8" fill="#6e2a4a"/><ellipse cx="225.2" cy="398.2" rx="2.2" ry="1.8" fill="#6e2a4a"/><ellipse cx="237.3" cy="404.6" rx="1.5" ry="1.3" fill="#6e2a4a"/><ellipse cx="237.2" cy="406.3" rx="1.7" ry="1.6" fill="#6e2a4a"/><ellipse cx="240.9" cy="403.5" rx="2.0" ry="1.2" fill="#6e2a4a"/><ellipse cx="229.4" cy="403.6" rx="1.8" ry="1.7" fill="#6e2a4a"/><ellipse cx="227.0" cy="399.4" rx="2.1" ry="1.2" fill="#6e2a4a"/><ellipse cx="228.6" cy="400.6" rx="1.8" ry="1.5" fill="#6e2a4a"/><ellipse cx="233.3" cy="425.5" rx="2.2" ry="1.6" fill="#6e2a4a"/><ellipse cx="232.0" cy="426.2" rx="2.4" ry="1.5" fill="#6e2a4a"/><ellipse cx="239.0" cy="439.2" rx="2.1" ry="1.6" fill="#6e2a4a"/><ellipse cx="228.3" cy="422.6" rx="1.7" ry="1.1" fill="#6e2a4a"/><ellipse cx="237.6" cy="438.3" rx="2.3" ry="1.3" fill="#6e2a4a"/><ellipse cx="231.7" cy="424.0" rx="1.5" ry="1.1" fill="#6e2a4a"/><ellipse cx="242.8" cy="422.6" rx="2.4" ry="1.8" fill="#6e2a4a"/><ellipse cx="227.3" cy="437.5" rx="2.0" ry="1.2" fill="#6e2a4a"/><ellipse cx="238.7" cy="417.8" rx="2.4" ry="1.4" fill="#6e2a4a"/><ellipse cx="237.6" cy="436.1" rx="2.2" ry="1.7" fill="#6e2a4a"/><ellipse cx="228.4" cy="421.8" rx="1.7" ry="1.7" fill="#6e2a4a"/><ellipse cx="233.2" cy="435.0" rx="2.4" ry="1.4" fill="#6e2a4a"/><ellipse cx="227.0" cy="429.6" rx="1.9" ry="1.6" fill="#6e2a4a"/><ellipse cx="240.2" cy="428.5" rx="2.3" ry="1.6" fill="#6e2a4a"/><ellipse cx="236.4" cy="420.6" rx="2.3" ry="1.7" fill="#6e2a4a"/><ellipse cx="240.4" cy="420.6" rx="1.7" ry="1.5" fill="#6e2a4a"/><ellipse cx="234.0" cy="415.0" rx="2.2" ry="1.5" fill="#6e2a4a"/><ellipse cx="243.0" cy="429.9" rx="2.3" ry="1.3" fill="#6e2a4a"/><ellipse cx="234.6" cy="421.4" rx="1.6" ry="1.7" fill="#6e2a4a"/><ellipse cx="233.2" cy="440.1" rx="1.8" ry="1.8" fill="#6e2a4a"/><ellipse cx="236.4" cy="415.1" rx="2.1" ry="1.1" fill="#6e2a4a"/><ellipse cx="227.5" cy="420.0" rx="1.8" ry="1.4" fill="#6e2a4a"/><ellipse cx="242.0" cy="419.7" rx="1.6" ry="1.6" fill="#6e2a4a"/><ellipse cx="231.6" cy="439.9" rx="1.8" ry="1.4" fill="#6e2a4a"/><ellipse cx="230.9" cy="435.4" rx="2.4" ry="1.1" fill="#6e2a4a"/><ellipse cx="229.3" cy="376.7" rx="1.7" ry="1.2" fill="#6e2a4a"/><ellipse cx="239.1" cy="376.6" rx="2.0" ry="1.5" fill="#6e2a4a"/><ellipse cx="226.3" cy="378.6" rx="2.0" ry="1.3" fill="#6e2a4a"/><ellipse cx="223.1" cy="382.1" rx="1.9" ry="1.6" fill="#6e2a4a"/><ellipse cx="256.1" cy="358.3" rx="2.1" ry="1.4" fill="#6e2a4a"/><ellipse cx="260.0" cy="353.7" rx="2.3" ry="1.3" fill="#6e2a4a"/><ellipse cx="260.3" cy="357.4" rx="2.5" ry="1.4" fill="#6e2a4a"/><ellipse cx="265.1" cy="356.6" rx="1.6" ry="1.2" fill="#6e2a4a"/><ellipse cx="263.1" cy="351.7" rx="1.8" ry="1.3" fill="#6e2a4a"/><ellipse cx="267.9" cy="355.8" rx="2.3" ry="1.4" fill="#6e2a4a"/><ellipse cx="254.9" cy="356.6" rx="2.1" ry="1.3" fill="#6e2a4a"/><ellipse cx="269.9" cy="355.3" rx="2.2" ry="1.2" fill="#6e2a4a"/><ellipse cx="254.2" cy="356.3" rx="2.3" ry="1.6" fill="#6e2a4a"/><ellipse cx="260.4" cy="359.6" rx="2.3" ry="1.8" fill="#6e2a4a"/><ellipse cx="263.2" cy="352.7" rx="1.9" ry="1.6" fill="#6e2a4a"/><ellipse cx="267.0" cy="354.4" rx="1.9" ry="1.3" fill="#6e2a4a"/><ellipse cx="257.4" cy="358.9" rx="2.2" ry="1.2" fill="#6e2a4a"/><ellipse cx="256.4" cy="357.6" rx="2.1" ry="1.2" fill="#6e2a4a"/><ellipse cx="263.1" cy="351.4" rx="2.2" ry="1.4" fill="#6e2a4a"/><ellipse cx="264.6" cy="355.0" rx="1.7" ry="1.5" fill="#6e2a4a"/><ellipse cx="257.8" cy="330.9" rx="2.1" ry="1.8" fill="#6e2a4a"/><ellipse cx="247.8" cy="333.4" rx="2.0" ry="1.3" fill="#6e2a4a"/><ellipse cx="265.2" cy="335.8" rx="2.0" ry="1.7" fill="#6e2a4a"/><ellipse cx="254.3" cy="335.9" rx="1.6" ry="1.2" fill="#6e2a4a"/><ellipse cx="261.1" cy="332.4" rx="1.9" ry="1.4" fill="#6e2a4a"/><ellipse cx="259.0" cy="340.3" rx="1.8" ry="1.7" fill="#6e2a4a"/><ellipse cx="257.0" cy="340.7" rx="2.4" ry="1.5" fill="#6e2a4a"/><ellipse cx="258.6" cy="338.8" rx="1.6" ry="1.4" fill="#6e2a4a"/><ellipse cx="310.1" cy="329.4" rx="1.6" ry="1.5" fill="#6e2a4a"/><ellipse cx="307.9" cy="331.5" rx="2.3" ry="1.5" fill="#6e2a4a"/><ellipse cx="316.1" cy="332.5" rx="1.9" ry="1.4" fill="#6e2a4a"/><ellipse cx="316.8" cy="348.7" rx="1.7" ry="1.3" fill="#6e2a4a"/><ellipse cx="305.3" cy="351.6" rx="2.0" ry="1.4" fill="#6e2a4a"/><ellipse cx="307.1" cy="347.0" rx="1.9" ry="1.6" fill="#6e2a4a"/><ellipse cx="310.7" cy="355.9" rx="2.5" ry="1.7" fill="#6e2a4a"/><ellipse cx="304.4" cy="358.2" rx="2.4" ry="1.7" fill="#6e2a4a"/><ellipse cx="314.2" cy="354.7" rx="2.0" ry="1.6" fill="#6e2a4a"/><ellipse cx="320.7" cy="351.8" rx="1.7" ry="1.4" fill="#6e2a4a"/><ellipse cx="312.5" cy="351.7" rx="1.7" ry="1.6" fill="#6e2a4a"/><ellipse cx="302.4" cy="353.8" rx="2.2" ry="1.5" fill="#6e2a4a"/><ellipse cx="250.3" cy="418.8" rx="2.1" ry="1.6" fill="#6e2a4a"/><ellipse cx="241.2" cy="416.7" rx="1.8" ry="1.6" fill="#6e2a4a"/><ellipse cx="247.5" cy="410.2" rx="1.8" ry="1.7" fill="#6e2a4a"/><ellipse cx="247.8" cy="420.8" rx="1.6" ry="1.6" fill="#6e2a4a"/><ellipse cx="240.9" cy="409.4" rx="2.5" ry="1.4" fill="#6e2a4a"/><ellipse cx="239.0" cy="415.5" rx="2.1" ry="1.6" fill="#6e2a4a"/><ellipse cx="202.0" cy="388.6" rx="1.8" ry="1.5" fill="#6e2a4a"/><ellipse cx="241.9" cy="442.2" rx="2.4" ry="1.5" fill="#6e2a4a"/><ellipse cx="232.2" cy="442.8" rx="1.8" ry="1.2" fill="#6e2a4a"/><ellipse cx="239.3" cy="442.2" rx="2.3" ry="1.7" fill="#6e2a4a"/><ellipse cx="230.2" cy="442.4" rx="1.7" ry="1.7" fill="#6e2a4a"/><ellipse cx="227.4" cy="438.2" rx="2.3" ry="1.5" fill="#6e2a4a"/><ellipse cx="238.6" cy="431.9" rx="1.6" ry="1.8" fill="#6e2a4a"/><ellipse cx="241.1" cy="443.2" rx="2.4" ry="1.5" fill="#6e2a4a"/><ellipse cx="235.9" cy="436.4" rx="1.5" ry="1.2" fill="#6e2a4a"/><ellipse cx="241.3" cy="434.2" rx="2.3" ry="1.6" fill="#6e2a4a"/><ellipse cx="236.3" cy="435.4" rx="1.7" ry="1.6" fill="#6e2a4a"/><ellipse cx="239.4" cy="444.2" rx="2.4" ry="1.7" fill="#6e2a4a"/><ellipse cx="232.2" cy="444.3" rx="2.5" ry="1.6" fill="#6e2a4a"/><ellipse cx="233.0" cy="434.9" rx="2.0" ry="1.1" fill="#6e2a4a"/><ellipse cx="242.5" cy="438.5" rx="2.2" ry="1.3" fill="#6e2a4a"/><ellipse cx="230.6" cy="439.1" rx="1.8" ry="1.1" fill="#6e2a4a"/><ellipse cx="227.9" cy="436.0" rx="2.4" ry="1.5" fill="#6e2a4a"/><ellipse cx="234.5" cy="436.7" rx="2.0" ry="1.8" fill="#6e2a4a"/><ellipse cx="229.2" cy="437.1" rx="2.3" ry="1.5" fill="#6e2a4a"/><ellipse cx="229.7" cy="438.7" rx="2.2" ry="1.6" fill="#6e2a4a"/><ellipse cx="232.7" cy="441.7" rx="2.2" ry="1.4" fill="#6e2a4a"/><ellipse cx="234.8" cy="432.5" rx="2.5" ry="1.7" fill="#6e2a4a"/><ellipse cx="231.8" cy="440.7" rx="1.6" ry="1.4" fill="#6e2a4a"/><ellipse cx="237.3" cy="441.4" rx="2.1" ry="1.6" fill="#6e2a4a"/><ellipse cx="272.4" cy="410.3" rx="1.3" ry="1.2" fill="#6e2a4a"/><ellipse cx="206.5" cy="391.2" rx="1.2" ry="1.3" fill="#6e2a4a"/><ellipse cx="298.9" cy="414.4" rx="1.3" ry="1.2" fill="#6e2a4a"/><ellipse cx="246.3" cy="456.7" rx="1.7" ry="1.2" fill="#6e2a4a"/><ellipse cx="188.9" cy="370.6" rx="1.5" ry="1.1" fill="#6e2a4a"/><ellipse cx="200.8" cy="400.1" rx="1.6" ry="0.9" fill="#6e2a4a"/><ellipse cx="202.2" cy="404.3" rx="1.3" ry="0.9" fill="#6e2a4a"/><ellipse cx="209.3" cy="433.6" rx="2.0" ry="1.5" fill="#9a8060"/><ellipse cx="210.3" cy="433.4" rx="1.7" ry="1.3" fill="#2a1a3a"/><ellipse cx="204.6" cy="426.7" rx="2.3" ry="1.3" fill="#9a8060"/><ellipse cx="205.6" cy="426.5" rx="2.0" ry="1.2" fill="#2a1a3a"/><ellipse cx="218.5" cy="437.0" rx="1.5" ry="1.5" fill="#9a8060"/><ellipse cx="219.5" cy="436.8" rx="1.3" ry="1.4" fill="#2a1a3a"/><ellipse cx="211.2" cy="437.9" rx="2.2" ry="1.6" fill="#9a8060"/><ellipse cx="212.2" cy="437.7" rx="1.9" ry="1.4" fill="#2a1a3a"/><ellipse cx="207.3" cy="436.6" rx="2.4" ry="1.4" fill="#9a8060"/><ellipse cx="208.3" cy="436.4" rx="2.0" ry="1.3" fill="#2a1a3a"/><ellipse cx="208.9" cy="439.5" rx="2.4" ry="1.4" fill="#9a8060"/><ellipse cx="209.9" cy="439.3" rx="2.0" ry="1.2" fill="#2a1a3a"/><ellipse cx="217.3" cy="437.3" rx="1.8" ry="1.2" fill="#9a8060"/><ellipse cx="218.3" cy="437.1" rx="1.5" ry="1.1" fill="#2a1a3a"/><ellipse cx="208.2" cy="439.2" rx="1.6" ry="1.8" fill="#9a8060"/><ellipse cx="209.2" cy="439.0" rx="1.3" ry="1.6" fill="#2a1a3a"/><ellipse cx="219.2" cy="432.0" rx="1.6" ry="1.3" fill="#9a8060"/><ellipse cx="220.2" cy="431.8" rx="1.3" ry="1.1" fill="#2a1a3a"/><ellipse cx="209.6" cy="414.2" rx="1.7" ry="1.8" fill="#9a8060"/><ellipse cx="210.6" cy="414.0" rx="1.5" ry="1.6" fill="#2a1a3a"/><ellipse cx="216.9" cy="423.8" rx="1.6" ry="1.5" fill="#9a8060"/><ellipse cx="217.9" cy="423.6" rx="1.4" ry="1.3" fill="#2a1a3a"/><ellipse cx="207.4" cy="422.6" rx="2.4" ry="1.2" fill="#9a8060"/><ellipse cx="208.4" cy="422.4" rx="2.1" ry="1.1" fill="#2a1a3a"/><ellipse cx="214.3" cy="417.3" rx="2.1" ry="1.8" fill="#9a8060"/><ellipse cx="215.3" cy="417.1" rx="1.8" ry="1.6" fill="#2a1a3a"/><ellipse cx="211.9" cy="416.8" rx="1.7" ry="1.5" fill="#9a8060"/><ellipse cx="212.9" cy="416.6" rx="1.5" ry="1.3" fill="#2a1a3a"/><ellipse cx="213.9" cy="425.2" rx="2.2" ry="1.3" fill="#9a8060"/><ellipse cx="214.9" cy="425.0" rx="1.9" ry="1.1" fill="#2a1a3a"/><ellipse cx="209.1" cy="453.6" rx="1.9" ry="1.4" fill="#9a8060"/><ellipse cx="210.1" cy="453.4" rx="1.6" ry="1.2" fill="#2a1a3a"/><ellipse cx="211.8" cy="453.1" rx="1.9" ry="1.7" fill="#9a8060"/><ellipse cx="212.8" cy="452.9" rx="1.6" ry="1.5" fill="#2a1a3a"/><ellipse cx="221.6" cy="400.8" rx="2.0" ry="1.5" fill="#9a8060"/><ellipse cx="222.6" cy="400.6" rx="1.7" ry="1.4" fill="#2a1a3a"/><ellipse cx="224.3" cy="398.9" rx="1.9" ry="1.5" fill="#9a8060"/><ellipse cx="225.3" cy="398.7" rx="1.6" ry="1.3" fill="#2a1a3a"/><ellipse cx="233.6" cy="401.5" rx="1.9" ry="1.4" fill="#9a8060"/><ellipse cx="234.6" cy="401.3" rx="1.6" ry="1.3" fill="#2a1a3a"/><ellipse cx="238.8" cy="427.8" rx="2.3" ry="1.7" fill="#9a8060"/><ellipse cx="239.8" cy="427.6" rx="2.0" ry="1.5" fill="#2a1a3a"/><ellipse cx="233.9" cy="426.3" rx="1.8" ry="1.1" fill="#9a8060"/><ellipse cx="234.9" cy="426.1" rx="1.5" ry="1.0" fill="#2a1a3a"/><ellipse cx="238.7" cy="430.1" rx="1.6" ry="1.7" fill="#9a8060"/><ellipse cx="239.7" cy="429.9" rx="1.4" ry="1.5" fill="#2a1a3a"/><ellipse cx="225.0" cy="429.3" rx="1.5" ry="1.3" fill="#9a8060"/><ellipse cx="226.0" cy="429.1" rx="1.3" ry="1.1" fill="#2a1a3a"/><ellipse cx="233.1" cy="435.5" rx="1.6" ry="1.4" fill="#9a8060"/><ellipse cx="234.1" cy="435.3" rx="1.4" ry="1.3" fill="#2a1a3a"/><ellipse cx="229.9" cy="433.7" rx="2.1" ry="1.7" fill="#9a8060"/><ellipse cx="230.9" cy="433.5" rx="1.8" ry="1.5" fill="#2a1a3a"/><ellipse cx="223.6" cy="384.9" rx="1.7" ry="1.6" fill="#9a8060"/><ellipse cx="224.6" cy="384.7" rx="1.5" ry="1.4" fill="#2a1a3a"/><ellipse cx="228.4" cy="384.0" rx="1.9" ry="1.5" fill="#9a8060"/><ellipse cx="229.4" cy="383.8" rx="1.6" ry="1.4" fill="#2a1a3a"/><ellipse cx="223.9" cy="380.0" rx="1.6" ry="1.2" fill="#9a8060"/><ellipse cx="224.9" cy="379.8" rx="1.4" ry="1.1" fill="#2a1a3a"/><ellipse cx="258.4" cy="356.6" rx="1.7" ry="1.7" fill="#9a8060"/><ellipse cx="259.4" cy="356.4" rx="1.4" ry="1.5" fill="#2a1a3a"/><ellipse cx="259.5" cy="334.0" rx="1.7" ry="1.4" fill="#9a8060"/><ellipse cx="260.5" cy="333.8" rx="1.4" ry="1.3" fill="#2a1a3a"/><ellipse cx="252.8" cy="335.1" rx="1.9" ry="1.7" fill="#9a8060"/><ellipse cx="253.8" cy="334.9" rx="1.6" ry="1.5" fill="#2a1a3a"/><ellipse cx="259.4" cy="341.8" rx="1.9" ry="1.6" fill="#9a8060"/><ellipse cx="260.4" cy="341.6" rx="1.6" ry="1.5" fill="#2a1a3a"/><ellipse cx="259.4" cy="343.0" rx="2.5" ry="1.8" fill="#9a8060"/><ellipse cx="260.4" cy="342.8" rx="2.1" ry="1.6" fill="#2a1a3a"/><ellipse cx="274.9" cy="361.8" rx="2.0" ry="1.4" fill="#9a8060"/><ellipse cx="275.9" cy="361.6" rx="1.7" ry="1.2" fill="#2a1a3a"/><ellipse cx="271.1" cy="366.7" rx="1.9" ry="1.1" fill="#9a8060"/><ellipse cx="272.1" cy="366.5" rx="1.6" ry="1.0" fill="#2a1a3a"/><ellipse cx="306.0" cy="330.1" rx="1.8" ry="1.4" fill="#9a8060"/><ellipse cx="307.0" cy="329.9" rx="1.6" ry="1.3" fill="#2a1a3a"/><ellipse cx="313.1" cy="336.3" rx="2.1" ry="1.5" fill="#9a8060"/><ellipse cx="314.1" cy="336.1" rx="1.8" ry="1.3" fill="#2a1a3a"/><ellipse cx="301.5" cy="332.5" rx="1.5" ry="1.5" fill="#9a8060"/><ellipse cx="302.5" cy="332.3" rx="1.3" ry="1.4" fill="#2a1a3a"/><ellipse cx="320.4" cy="355.2" rx="1.7" ry="1.4" fill="#9a8060"/><ellipse cx="321.4" cy="355.0" rx="1.5" ry="1.3" fill="#2a1a3a"/><ellipse cx="315.1" cy="352.0" rx="2.2" ry="1.3" fill="#9a8060"/><ellipse cx="316.1" cy="351.8" rx="1.9" ry="1.2" fill="#2a1a3a"/><ellipse cx="308.7" cy="357.9" rx="2.0" ry="1.5" fill="#9a8060"/><ellipse cx="309.7" cy="357.7" rx="1.7" ry="1.3" fill="#2a1a3a"/><ellipse cx="308.3" cy="349.9" rx="1.6" ry="1.8" fill="#9a8060"/><ellipse cx="309.3" cy="349.7" rx="1.4" ry="1.6" fill="#2a1a3a"/><ellipse cx="314.4" cy="347.3" rx="1.6" ry="1.5" fill="#9a8060"/><ellipse cx="315.4" cy="347.1" rx="1.4" ry="1.3" fill="#2a1a3a"/><ellipse cx="301.9" cy="355.3" rx="2.2" ry="1.7" fill="#9a8060"/><ellipse cx="302.9" cy="355.1" rx="1.9" ry="1.5" fill="#2a1a3a"/><ellipse cx="315.3" cy="361.2" rx="2.4" ry="1.7" fill="#9a8060"/><ellipse cx="316.3" cy="361.0" rx="2.1" ry="1.6" fill="#2a1a3a"/><ellipse cx="243.6" cy="409.9" rx="1.7" ry="1.2" fill="#9a8060"/><ellipse cx="244.6" cy="409.7" rx="1.4" ry="1.1" fill="#2a1a3a"/><ellipse cx="242.0" cy="423.4" rx="1.9" ry="1.2" fill="#9a8060"/><ellipse cx="243.0" cy="423.2" rx="1.6" ry="1.1" fill="#2a1a3a"/><ellipse cx="238.6" cy="409.3" rx="2.5" ry="1.8" fill="#9a8060"/><ellipse cx="239.6" cy="409.1" rx="2.1" ry="1.6" fill="#2a1a3a"/><ellipse cx="201.6" cy="399.4" rx="2.0" ry="1.2" fill="#9a8060"/><ellipse cx="202.6" cy="399.2" rx="1.7" ry="1.1" fill="#2a1a3a"/><ellipse cx="210.1" cy="390.9" rx="2.4" ry="1.7" fill="#9a8060"/><ellipse cx="211.1" cy="390.7" rx="2.0" ry="1.5" fill="#2a1a3a"/><ellipse cx="199.6" cy="395.3" rx="1.8" ry="1.2" fill="#9a8060"/><ellipse cx="200.6" cy="395.1" rx="1.5" ry="1.1" fill="#2a1a3a"/><ellipse cx="234.0" cy="439.0" rx="2.0" ry="1.4" fill="#9a8060"/><ellipse cx="235.0" cy="438.8" rx="1.7" ry="1.3" fill="#2a1a3a"/><ellipse cx="237.8" cy="444.3" rx="1.8" ry="1.5" fill="#9a8060"/><ellipse cx="238.8" cy="444.1" rx="1.5" ry="1.3" fill="#2a1a3a"/><ellipse cx="253.2" cy="343.5" rx="1.2" ry="0.8" fill="#9a8060"/><ellipse cx="254.2" cy="343.3" rx="1.0" ry="0.7" fill="#2a1a3a"/><ellipse cx="228.6" cy="391.4" rx="1.3" ry="1.2" fill="#9a8060"/><ellipse cx="229.6" cy="391.2" rx="1.1" ry="1.1" fill="#2a1a3a"/><ellipse cx="233.9" cy="401.6" rx="1.4" ry="1.0" fill="#9a8060"/><ellipse cx="234.9" cy="401.4" rx="1.2" ry="0.9" fill="#2a1a3a"/><ellipse cx="273.6" cy="391.8" rx="1.6" ry="0.9" fill="#9a8060"/><ellipse cx="274.6" cy="391.6" rx="1.4" ry="0.9" fill="#2a1a3a"/><ellipse cx="181.3" cy="393.8" rx="1.3" ry="1.1" fill="#9a8060"/><ellipse cx="182.3" cy="393.6" rx="1.1" ry="1.0" fill="#2a1a3a"/><ellipse cx="186.5" cy="416.5" rx="1.7" ry="1.0" fill="#9a8060"/><ellipse cx="187.5" cy="416.3" rx="1.4" ry="0.9" fill="#2a1a3a"/><ellipse cx="250.1" cy="434.0" rx="1.6" ry="1.1" fill="#9a8060"/><ellipse cx="251.1" cy="433.8" rx="1.4" ry="1.0" fill="#2a1a3a"/><ellipse cx="254.4" cy="458.7" rx="1.3" ry="1.2" fill="#9a8060"/><ellipse cx="255.4" cy="458.5" rx="1.1" ry="1.1" fill="#2a1a3a"/><ellipse cx="188.3" cy="378.1" rx="1.6" ry="1.2" fill="#9a8060"/><ellipse cx="189.3" cy="377.9" rx="1.3" ry="1.1" fill="#2a1a3a"/><ellipse cx="211.0" cy="403.7" rx="1.1" ry="1.2" fill="#9a8060"/><ellipse cx="212.0" cy="403.5" rx="1.0" ry="1.1" fill="#2a1a3a"/><ellipse cx="282.4" cy="365.9" rx="1.6" ry="1.0" fill="#9a8060"/><ellipse cx="283.4" cy="365.7" rx="1.4" ry="0.9" fill="#2a1a3a"/><ellipse cx="232.1" cy="395.8" rx="1.7" ry="1.1" fill="#9a8060"/><ellipse cx="233.1" cy="395.6" rx="1.5" ry="1.0" fill="#2a1a3a"/><ellipse cx="199.9" cy="385.5" rx="1.3" ry="1.2" fill="#9a8060"/><ellipse cx="200.9" cy="385.3" rx="1.1" ry="1.1" fill="#2a1a3a"/><ellipse cx="254.0" cy="426.9" rx="1.5" ry="1.0" fill="#9a8060"/><ellipse cx="255.0" cy="426.7" rx="1.2" ry="0.9" fill="#2a1a3a"/><ellipse cx="261.3" cy="431.3" rx="1.4" ry="1.0" fill="#9a8060"/><ellipse cx="262.3" cy="431.1" rx="1.2" ry="0.9" fill="#2a1a3a"/><ellipse cx="292.0" cy="396.4" rx="1.5" ry="1.1" fill="#9a8060"/><ellipse cx="293.0" cy="396.2" rx="1.3" ry="1.0" fill="#2a1a3a"/><ellipse cx="277.0" cy="435.7" rx="1.1" ry="0.8" fill="#9a8060"/><ellipse cx="278.0" cy="435.5" rx="1.0" ry="0.7" fill="#2a1a3a"/><ellipse cx="246.9" cy="389.3" rx="1.3" ry="1.2" fill="#9a8060"/><ellipse cx="247.9" cy="389.1" rx="1.1" ry="1.0" fill="#2a1a3a"/><ellipse cx="214.1" cy="452.1" rx="1.8" ry="1.1" fill="#9a8060"/><ellipse cx="215.1" cy="451.9" rx="1.5" ry="1.0" fill="#2a1a3a"/><ellipse cx="254.6" cy="389.3" rx="1.4" ry="0.8" fill="#9a8060"/><ellipse cx="255.6" cy="389.1" rx="1.2" ry="0.7" fill="#2a1a3a"/><ellipse cx="239.3" cy="405.2" rx="1.5" ry="0.9" fill="#9a8060"/><ellipse cx="240.3" cy="405.0" rx="1.3" ry="0.8" fill="#2a1a3a"/><ellipse cx="202.0" cy="400.8" rx="1.5" ry="1.2" fill="#9a8060"/><ellipse cx="203.0" cy="400.6" rx="1.3" ry="1.1" fill="#2a1a3a"/><ellipse cx="212.7" cy="424.4" rx="2.1" ry="1.7" fill="#1c1890"/><ellipse cx="202.9" cy="427.3" rx="2.3" ry="1.6" fill="#1c1890"/><ellipse cx="220.3" cy="435.7" rx="1.7" ry="1.1" fill="#1c1890"/><ellipse cx="211.6" cy="421.4" rx="1.7" ry="1.1" fill="#1c1890"/><ellipse cx="211.0" cy="435.9" rx="1.8" ry="1.8" fill="#1c1890"/><ellipse cx="215.2" cy="427.6" rx="1.8" ry="1.1" fill="#1c1890"/><ellipse cx="210.4" cy="443.5" rx="1.6" ry="1.5" fill="#1c1890"/><ellipse cx="216.6" cy="426.5" rx="1.8" ry="1.8" fill="#1c1890"/><ellipse cx="216.2" cy="422.8" rx="1.6" ry="1.1" fill="#1c1890"/><ellipse cx="216.9" cy="424.3" rx="1.9" ry="1.2" fill="#1c1890"/><ellipse cx="215.6" cy="423.1" rx="1.6" ry="1.4" fill="#1c1890"/><ellipse cx="218.7" cy="425.1" rx="2.4" ry="1.5" fill="#1c1890"/><ellipse cx="212.7" cy="425.8" rx="1.9" ry="1.4" fill="#1c1890"/><ellipse cx="220.2" cy="431.6" rx="2.4" ry="1.2" fill="#1c1890"/><ellipse cx="217.4" cy="426.0" rx="2.2" ry="1.8" fill="#1c1890"/><ellipse cx="218.6" cy="434.5" rx="1.6" ry="1.1" fill="#1c1890"/><ellipse cx="204.5" cy="437.3" rx="1.7" ry="1.5" fill="#1c1890"/><ellipse cx="218.0" cy="434.7" rx="2.4" ry="1.2" fill="#1c1890"/><ellipse cx="209.9" cy="421.5" rx="1.9" ry="1.5" fill="#1c1890"/><ellipse cx="214.8" cy="434.0" rx="1.5" ry="1.1" fill="#1c1890"/><ellipse cx="210.6" cy="437.5" rx="2.5" ry="1.2" fill="#1c1890"/><ellipse cx="216.8" cy="440.7" rx="2.1" ry="1.4" fill="#1c1890"/><ellipse cx="212.7" cy="434.6" rx="2.1" ry="1.8" fill="#1c1890"/><ellipse cx="218.6" cy="437.5" rx="2.2" ry="1.5" fill="#1c1890"/><ellipse cx="209.8" cy="440.1" rx="2.3" ry="1.1" fill="#1c1890"/><ellipse cx="213.0" cy="431.5" rx="2.2" ry="1.4" fill="#1c1890"/><ellipse cx="213.3" cy="442.1" rx="1.5" ry="1.3" fill="#1c1890"/><ellipse cx="214.6" cy="424.9" rx="2.4" ry="1.6" fill="#1c1890"/><ellipse cx="209.8" cy="441.4" rx="2.2" ry="1.2" fill="#1c1890"/><ellipse cx="212.7" cy="427.6" rx="2.0" ry="1.7" fill="#1c1890"/><ellipse cx="210.0" cy="426.6" rx="1.9" ry="1.5" fill="#1c1890"/><ellipse cx="215.2" cy="433.7" rx="2.3" ry="1.1" fill="#1c1890"/><ellipse cx="203.7" cy="430.9" rx="2.3" ry="1.3" fill="#1c1890"/><ellipse cx="213.6" cy="430.7" rx="2.2" ry="1.7" fill="#1c1890"/><ellipse cx="220.2" cy="436.4" rx="2.0" ry="1.2" fill="#1c1890"/><ellipse cx="201.2" cy="431.3" rx="1.7" ry="1.3" fill="#1c1890"/><ellipse cx="207.9" cy="436.7" rx="2.1" ry="1.6" fill="#1c1890"/><ellipse cx="215.4" cy="423.1" rx="2.1" ry="1.7" fill="#1c1890"/><ellipse cx="210.3" cy="435.6" rx="2.2" ry="1.7" fill="#1c1890"/><ellipse cx="213.8" cy="437.2" rx="2.4" ry="1.8" fill="#1c1890"/><ellipse cx="218.1" cy="428.4" rx="1.9" ry="1.5" fill="#1c1890"/><ellipse cx="216.4" cy="431.7" rx="2.3" ry="1.1" fill="#1c1890"/><ellipse cx="217.0" cy="424.1" rx="2.3" ry="1.2" fill="#1c1890"/><ellipse cx="204.0" cy="432.4" rx="2.3" ry="1.6" fill="#1c1890"/><ellipse cx="211.5" cy="427.0" rx="2.1" ry="1.5" fill="#1c1890"/><ellipse cx="217.9" cy="433.4" rx="1.9" ry="1.7" fill="#1c1890"/><ellipse cx="212.5" cy="424.8" rx="2.0" ry="1.5" fill="#1c1890"/><ellipse cx="214.8" cy="421.6" rx="1.9" ry="1.8" fill="#1c1890"/><ellipse cx="219.5" cy="426.5" rx="1.6" ry="1.4" fill="#1c1890"/><ellipse cx="210.5" cy="427.6" rx="2.1" ry="1.7" fill="#1c1890"/><ellipse cx="203.6" cy="438.7" rx="1.7" ry="1.3" fill="#1c1890"/><ellipse cx="214.7" cy="427.7" rx="2.1" ry="1.2" fill="#1c1890"/><ellipse cx="215.6" cy="422.9" rx="1.8" ry="1.2" fill="#1c1890"/><ellipse cx="211.6" cy="430.5" rx="1.9" ry="1.5" fill="#1c1890"/><ellipse cx="204.2" cy="424.9" rx="2.1" ry="1.5" fill="#1c1890"/><ellipse cx="208.8" cy="420.6" rx="1.6" ry="1.7" fill="#1c1890"/><ellipse cx="212.4" cy="421.6" rx="1.9" ry="1.6" fill="#1c1890"/><ellipse cx="219.2" cy="417.0" rx="1.7" ry="1.1" fill="#1c1890"/><ellipse cx="215.0" cy="417.2" rx="1.6" ry="1.2" fill="#1c1890"/><ellipse cx="213.2" cy="421.2" rx="2.0" ry="1.5" fill="#1c1890"/><ellipse cx="212.6" cy="418.6" rx="2.2" ry="1.7" fill="#1c1890"/><ellipse cx="207.3" cy="417.2" rx="2.4" ry="1.7" fill="#1c1890"/><ellipse cx="218.1" cy="422.8" rx="1.9" ry="1.5" fill="#1c1890"/><ellipse cx="218.5" cy="410.1" rx="2.0" ry="1.1" fill="#1c1890"/><ellipse cx="211.1" cy="419.2" rx="1.7" ry="1.8" fill="#1c1890"/><ellipse cx="217.3" cy="414.4" rx="2.1" ry="1.5" fill="#1c1890"/><ellipse cx="216.3" cy="420.8" rx="1.9" ry="1.1" fill="#1c1890"/><ellipse cx="207.9" cy="415.0" rx="1.8" ry="1.7" fill="#1c1890"/><ellipse cx="216.8" cy="422.0" rx="2.1" ry="1.6" fill="#1c1890"/><ellipse cx="207.2" cy="416.5" rx="2.0" ry="1.5" fill="#1c1890"/><ellipse cx="212.4" cy="417.4" rx="1.9" ry="1.3" fill="#1c1890"/><ellipse cx="217.1" cy="418.0" rx="2.2" ry="1.3" fill="#1c1890"/><ellipse cx="222.7" cy="420.6" rx="2.5" ry="1.7" fill="#1c1890"/><ellipse cx="216.1" cy="410.8" rx="2.0" ry="1.2" fill="#1c1890"/><ellipse cx="205.0" cy="417.4" rx="1.9" ry="1.6" fill="#1c1890"/><ellipse cx="213.1" cy="413.2" rx="1.9" ry="1.6" fill="#1c1890"/><ellipse cx="219.7" cy="419.0" rx="1.8" ry="1.6" fill="#1c1890"/><ellipse cx="215.3" cy="418.5" rx="2.3" ry="1.2" fill="#1c1890"/><ellipse cx="209.4" cy="415.8" rx="1.6" ry="1.5" fill="#1c1890"/><ellipse cx="217.5" cy="417.8" rx="1.9" ry="1.4" fill="#1c1890"/><ellipse cx="206.4" cy="421.9" rx="2.3" ry="1.2" fill="#1c1890"/><ellipse cx="210.0" cy="449.8" rx="1.8" ry="1.6" fill="#1c1890"/><ellipse cx="211.6" cy="444.1" rx="2.2" ry="1.6" fill="#1c1890"/><ellipse cx="205.5" cy="445.0" rx="2.2" ry="1.4" fill="#1c1890"/><ellipse cx="202.9" cy="452.9" rx="2.4" ry="1.8" fill="#1c1890"/><ellipse cx="206.8" cy="448.1" rx="1.9" ry="1.2" fill="#1c1890"/><ellipse cx="210.0" cy="454.2" rx="2.3" ry="1.5" fill="#1c1890"/><ellipse cx="209.3" cy="450.6" rx="2.5" ry="1.6" fill="#1c1890"/><ellipse cx="209.7" cy="454.0" rx="1.6" ry="1.6" fill="#1c1890"/><ellipse cx="211.1" cy="445.0" rx="2.1" ry="1.3" fill="#1c1890"/><ellipse cx="204.5" cy="453.7" rx="2.3" ry="1.4" fill="#1c1890"/><ellipse cx="206.4" cy="456.6" rx="2.0" ry="1.5" fill="#1c1890"/><ellipse cx="216.3" cy="452.0" rx="2.2" ry="1.7" fill="#1c1890"/><ellipse cx="207.7" cy="448.9" rx="2.2" ry="1.8" fill="#1c1890"/><ellipse cx="207.0" cy="445.3" rx="1.9" ry="1.3" fill="#1c1890"/><ellipse cx="205.9" cy="444.6" rx="2.3" ry="1.2" fill="#1c1890"/><ellipse cx="202.0" cy="449.4" rx="2.4" ry="1.1" fill="#1c1890"/><ellipse cx="217.9" cy="400.8" rx="2.3" ry="1.3" fill="#1c1890"/><ellipse cx="233.0" cy="400.4" rx="2.0" ry="1.4" fill="#1c1890"/><ellipse cx="239.1" cy="406.2" rx="1.8" ry="1.6" fill="#1c1890"/><ellipse cx="222.0" cy="401.1" rx="1.8" ry="1.4" fill="#1c1890"/><ellipse cx="224.1" cy="405.1" rx="2.1" ry="1.4" fill="#1c1890"/><ellipse cx="229.3" cy="401.0" rx="1.9" ry="1.6" fill="#1c1890"/><ellipse cx="230.0" cy="405.2" rx="2.3" ry="1.2" fill="#1c1890"/><ellipse cx="233.7" cy="405.1" rx="1.9" ry="1.7" fill="#1c1890"/><ellipse cx="231.0" cy="398.9" rx="1.7" ry="1.2" fill="#1c1890"/><ellipse cx="223.0" cy="404.5" rx="1.9" ry="1.5" fill="#1c1890"/><ellipse cx="232.1" cy="400.0" rx="1.7" ry="1.5" fill="#1c1890"/><ellipse cx="242.1" cy="404.6" rx="2.2" ry="1.6" fill="#1c1890"/><ellipse cx="223.8" cy="432.8" rx="2.5" ry="1.5" fill="#1c1890"/><ellipse cx="229.7" cy="430.6" rx="1.6" ry="1.4" fill="#1c1890"/><ellipse cx="234.1" cy="425.1" rx="2.2" ry="1.5" fill="#1c1890"/><ellipse cx="229.6" cy="423.1" rx="2.4" ry="1.7" fill="#1c1890"/><ellipse cx="233.4" cy="419.8" rx="2.4" ry="1.7" fill="#1c1890"/><ellipse cx="227.4" cy="431.7" rx="2.4" ry="1.1" fill="#1c1890"/><ellipse cx="225.3" cy="434.3" rx="2.4" ry="1.7" fill="#1c1890"/><ellipse cx="229.8" cy="433.9" rx="1.7" ry="1.3" fill="#1c1890"/><ellipse cx="236.0" cy="420.4" rx="2.4" ry="1.6" fill="#1c1890"/><ellipse cx="229.1" cy="431.9" rx="2.5" ry="1.4" fill="#1c1890"/><ellipse cx="234.6" cy="428.9" rx="2.1" ry="1.3" fill="#1c1890"/><ellipse cx="228.5" cy="436.5" rx="1.8" ry="1.6" fill="#1c1890"/><ellipse cx="234.5" cy="440.6" rx="2.3" ry="1.2" fill="#1c1890"/><ellipse cx="242.2" cy="419.0" rx="1.5" ry="1.4" fill="#1c1890"/><ellipse cx="232.6" cy="426.4" rx="2.3" ry="1.2" fill="#1c1890"/><ellipse cx="226.2" cy="422.7" rx="1.8" ry="1.5" fill="#1c1890"/><ellipse cx="226.8" cy="421.1" rx="2.2" ry="1.7" fill="#1c1890"/><ellipse cx="232.0" cy="424.2" rx="2.5" ry="1.1" fill="#1c1890"/><ellipse cx="228.3" cy="438.9" rx="1.9" ry="1.3" fill="#1c1890"/><ellipse cx="232.3" cy="416.1" rx="2.5" ry="1.6" fill="#1c1890"/><ellipse cx="239.1" cy="420.4" rx="2.1" ry="1.3" fill="#1c1890"/><ellipse cx="227.7" cy="423.7" rx="2.0" ry="1.2" fill="#1c1890"/><ellipse cx="231.0" cy="421.7" rx="1.7" ry="1.3" fill="#1c1890"/><ellipse cx="225.0" cy="380.2" rx="2.4" ry="1.3" fill="#1c1890"/><ellipse cx="237.6" cy="382.3" rx="1.9" ry="1.3" fill="#1c1890"/><ellipse cx="232.7" cy="374.5" rx="1.9" ry="1.5" fill="#1c1890"/><ellipse cx="219.8" cy="385.3" rx="2.2" ry="1.6" fill="#1c1890"/><ellipse cx="220.1" cy="377.3" rx="2.2" ry="1.4" fill="#1c1890"/><ellipse cx="226.8" cy="387.9" rx="1.8" ry="1.3" fill="#1c1890"/><ellipse cx="216.7" cy="384.1" rx="2.3" ry="1.8" fill="#1c1890"/><ellipse cx="218.5" cy="380.8" rx="1.6" ry="1.4" fill="#1c1890"/><ellipse cx="225.2" cy="382.0" rx="1.7" ry="1.4" fill="#1c1890"/><ellipse cx="225.6" cy="380.8" rx="2.1" ry="1.6" fill="#1c1890"/><ellipse cx="231.5" cy="385.2" rx="1.9" ry="1.4" fill="#1c1890"/><ellipse cx="217.8" cy="380.5" rx="2.0" ry="1.5" fill="#1c1890"/><ellipse cx="229.1" cy="379.2" rx="1.5" ry="1.3" fill="#1c1890"/><ellipse cx="241.0" cy="383.1" rx="2.2" ry="1.2" fill="#1c1890"/><ellipse cx="233.6" cy="383.9" rx="1.9" ry="1.3" fill="#1c1890"/><ellipse cx="226.7" cy="388.6" rx="1.6" ry="1.5" fill="#1c1890"/><ellipse cx="222.4" cy="384.9" rx="1.5" ry="1.5" fill="#1c1890"/><ellipse cx="227.0" cy="377.8" rx="2.2" ry="1.5" fill="#1c1890"/><ellipse cx="225.7" cy="388.2" rx="2.2" ry="1.6" fill="#1c1890"/><ellipse cx="223.0" cy="379.2" rx="2.0" ry="1.2" fill="#1c1890"/><ellipse cx="218.9" cy="385.3" rx="2.0" ry="1.6" fill="#1c1890"/><ellipse cx="223.1" cy="385.5" rx="1.8" ry="1.6" fill="#1c1890"/><ellipse cx="239.6" cy="387.3" rx="1.9" ry="1.6" fill="#1c1890"/><ellipse cx="234.7" cy="377.7" rx="1.5" ry="1.5" fill="#1c1890"/><ellipse cx="254.8" cy="358.6" rx="1.5" ry="1.3" fill="#1c1890"/><ellipse cx="255.9" cy="354.0" rx="2.0" ry="1.4" fill="#1c1890"/><ellipse cx="258.0" cy="355.9" rx="1.8" ry="1.1" fill="#1c1890"/><ellipse cx="261.7" cy="354.4" rx="1.6" ry="1.1" fill="#1c1890"/><ellipse cx="268.3" cy="353.7" rx="1.7" ry="1.4" fill="#1c1890"/><ellipse cx="259.7" cy="359.0" rx="2.0" ry="1.1" fill="#1c1890"/><ellipse cx="260.4" cy="358.5" rx="2.4" ry="1.1" fill="#1c1890"/><ellipse cx="268.5" cy="353.9" rx="1.8" ry="1.6" fill="#1c1890"/><ellipse cx="259.6" cy="355.2" rx="2.0" ry="1.4" fill="#1c1890"/><ellipse cx="259.1" cy="359.0" rx="2.5" ry="1.4" fill="#1c1890"/><ellipse cx="260.5" cy="358.5" rx="1.8" ry="1.6" fill="#1c1890"/><ellipse cx="269.2" cy="353.9" rx="1.9" ry="1.8" fill="#1c1890"/><ellipse cx="259.7" cy="333.1" rx="2.1" ry="1.4" fill="#1c1890"/><ellipse cx="265.9" cy="335.4" rx="2.5" ry="1.1" fill="#1c1890"/><ellipse cx="266.9" cy="334.7" rx="2.3" ry="1.4" fill="#1c1890"/><ellipse cx="258.9" cy="335.9" rx="1.8" ry="1.6" fill="#1c1890"/><ellipse cx="265.1" cy="330.2" rx="1.6" ry="1.1" fill="#1c1890"/><ellipse cx="255.3" cy="335.8" rx="2.4" ry="1.2" fill="#1c1890"/><ellipse cx="261.1" cy="336.0" rx="1.7" ry="1.6" fill="#1c1890"/><ellipse cx="256.3" cy="329.1" rx="1.8" ry="1.5" fill="#1c1890"/><ellipse cx="252.7" cy="333.8" rx="1.7" ry="1.2" fill="#1c1890"/><ellipse cx="262.7" cy="332.7" rx="1.6" ry="1.8" fill="#1c1890"/><ellipse cx="260.6" cy="331.9" rx="2.5" ry="1.6" fill="#1c1890"/><ellipse cx="263.7" cy="331.9" rx="1.9" ry="1.2" fill="#1c1890"/><ellipse cx="258.2" cy="336.5" rx="2.2" ry="1.3" fill="#1c1890"/><ellipse cx="259.2" cy="341.6" rx="1.9" ry="1.3" fill="#1c1890"/><ellipse cx="257.3" cy="345.6" rx="2.2" ry="1.6" fill="#1c1890"/><ellipse cx="254.9" cy="341.3" rx="2.4" ry="1.3" fill="#1c1890"/><ellipse cx="256.5" cy="343.8" rx="1.8" ry="1.7" fill="#1c1890"/><ellipse cx="259.6" cy="341.8" rx="2.0" ry="1.3" fill="#1c1890"/><ellipse cx="268.3" cy="366.3" rx="2.2" ry="1.8" fill="#1c1890"/><ellipse cx="263.1" cy="363.7" rx="2.2" ry="1.3" fill="#1c1890"/><ellipse cx="267.9" cy="361.5" rx="2.2" ry="1.2" fill="#1c1890"/><ellipse cx="264.7" cy="365.0" rx="2.2" ry="1.3" fill="#1c1890"/><ellipse cx="275.0" cy="365.6" rx="1.6" ry="1.4" fill="#1c1890"/><ellipse cx="262.4" cy="363.0" rx="2.0" ry="1.2" fill="#1c1890"/><ellipse cx="274.6" cy="362.6" rx="1.6" ry="1.5" fill="#1c1890"/><ellipse cx="270.2" cy="362.6" rx="1.7" ry="1.4" fill="#1c1890"/><ellipse cx="269.2" cy="364.4" rx="2.4" ry="1.2" fill="#1c1890"/><ellipse cx="264.5" cy="366.2" rx="2.2" ry="1.2" fill="#1c1890"/><ellipse cx="311.6" cy="329.2" rx="1.8" ry="1.8" fill="#1c1890"/><ellipse cx="313.6" cy="335.8" rx="1.9" ry="1.2" fill="#1c1890"/><ellipse cx="318.3" cy="332.2" rx="2.2" ry="1.3" fill="#1c1890"/><ellipse cx="308.6" cy="332.4" rx="1.9" ry="1.4" fill="#1c1890"/><ellipse cx="311.9" cy="332.2" rx="1.6" ry="1.4" fill="#1c1890"/><ellipse cx="307.7" cy="332.9" rx="2.2" ry="1.4" fill="#1c1890"/><ellipse cx="319.3" cy="331.9" rx="1.9" ry="1.3" fill="#1c1890"/><ellipse cx="313.0" cy="333.7" rx="2.0" ry="1.5" fill="#1c1890"/><ellipse cx="303.7" cy="331.0" rx="2.3" ry="1.4" fill="#1c1890"/><ellipse cx="317.5" cy="332.2" rx="2.2" ry="1.2" fill="#1c1890"/><ellipse cx="302.9" cy="334.0" rx="2.4" ry="1.5" fill="#1c1890"/><ellipse cx="315.5" cy="333.6" rx="2.2" ry="1.4" fill="#1c1890"/><ellipse cx="310.7" cy="347.9" rx="2.2" ry="1.2" fill="#1c1890"/><ellipse cx="315.3" cy="354.8" rx="1.6" ry="1.3" fill="#1c1890"/><ellipse cx="312.7" cy="359.4" rx="2.4" ry="1.4" fill="#1c1890"/><ellipse cx="302.6" cy="352.9" rx="2.2" ry="1.7" fill="#1c1890"/><ellipse cx="311.9" cy="357.0" rx="2.3" ry="1.2" fill="#1c1890"/><ellipse cx="313.5" cy="359.5" rx="2.1" ry="1.4" fill="#1c1890"/><ellipse cx="315.9" cy="349.7" rx="2.2" ry="1.5" fill="#1c1890"/><ellipse cx="311.1" cy="353.8" rx="2.3" ry="1.2" fill="#1c1890"/><ellipse cx="308.1" cy="359.6" rx="2.2" ry="1.5" fill="#1c1890"/><ellipse cx="313.0" cy="351.3" rx="2.5" ry="1.6" fill="#1c1890"/><ellipse cx="317.7" cy="349.5" rx="2.0" ry="1.5" fill="#1c1890"/><ellipse cx="319.2" cy="357.6" rx="1.7" ry="1.1" fill="#1c1890"/><ellipse cx="312.7" cy="350.1" rx="1.8" ry="1.2" fill="#1c1890"/><ellipse cx="311.7" cy="350.4" rx="1.8" ry="1.5" fill="#1c1890"/><ellipse cx="308.2" cy="360.0" rx="2.2" ry="1.1" fill="#1c1890"/><ellipse cx="317.7" cy="354.3" rx="2.0" ry="1.2" fill="#1c1890"/><ellipse cx="310.3" cy="353.8" rx="2.0" ry="1.5" fill="#1c1890"/><ellipse cx="321.5" cy="355.0" rx="1.8" ry="1.3" fill="#1c1890"/><ellipse cx="314.3" cy="360.9" rx="2.0" ry="1.8" fill="#1c1890"/><ellipse cx="243.5" cy="411.7" rx="1.5" ry="1.6" fill="#1c1890"/><ellipse cx="240.0" cy="409.6" rx="1.8" ry="1.6" fill="#1c1890"/><ellipse cx="249.6" cy="420.6" rx="2.3" ry="1.4" fill="#1c1890"/><ellipse cx="237.2" cy="415.0" rx="1.6" ry="1.7" fill="#1c1890"/><ellipse cx="242.5" cy="423.6" rx="2.2" ry="1.8" fill="#1c1890"/><ellipse cx="252.2" cy="414.1" rx="1.6" ry="1.3" fill="#1c1890"/><ellipse cx="240.0" cy="412.0" rx="1.8" ry="1.2" fill="#1c1890"/><ellipse cx="245.4" cy="423.9" rx="1.7" ry="1.2" fill="#1c1890"/><ellipse cx="202.6" cy="396.1" rx="2.3" ry="1.8" fill="#1c1890"/><ellipse cx="203.6" cy="387.8" rx="1.7" ry="1.6" fill="#1c1890"/><ellipse cx="201.1" cy="399.8" rx="2.2" ry="1.4" fill="#1c1890"/><ellipse cx="202.3" cy="387.7" rx="2.1" ry="1.4" fill="#1c1890"/><ellipse cx="204.6" cy="397.0" rx="1.9" ry="1.7" fill="#1c1890"/><ellipse cx="206.1" cy="393.7" rx="2.0" ry="1.3" fill="#1c1890"/><ellipse cx="208.1" cy="390.8" rx="1.7" ry="1.8" fill="#1c1890"/><ellipse cx="205.0" cy="401.8" rx="1.9" ry="1.1" fill="#1c1890"/><ellipse cx="205.0" cy="391.3" rx="2.1" ry="1.4" fill="#1c1890"/><ellipse cx="199.3" cy="395.0" rx="2.1" ry="1.8" fill="#1c1890"/><ellipse cx="232.0" cy="437.2" rx="2.3" ry="1.3" fill="#1c1890"/><ellipse cx="242.7" cy="435.3" rx="2.2" ry="1.6" fill="#1c1890"/><ellipse cx="229.3" cy="441.2" rx="2.4" ry="1.6" fill="#1c1890"/><ellipse cx="245.0" cy="438.4" rx="2.3" ry="1.1" fill="#1c1890"/><ellipse cx="236.8" cy="339.3" rx="1.4" ry="1.0" fill="#1c1890"/><ellipse cx="194.4" cy="378.4" rx="1.7" ry="1.1" fill="#1c1890"/><ellipse cx="196.4" cy="443.2" rx="1.6" ry="1.3" fill="#1c1890"/><ellipse cx="224.9" cy="426.4" rx="1.3" ry="1.2" fill="#1c1890"/><ellipse cx="201.4" cy="353.0" rx="1.7" ry="1.2" fill="#1c1890"/><ellipse cx="206.7" cy="421.3" rx="1.8" ry="1.0" fill="#1c1890"/><ellipse cx="185.7" cy="431.6" rx="1.7" ry="1.1" fill="#1c1890"/><ellipse cx="250.0" cy="349.9" rx="1.3" ry="1.3" fill="#1c1890"/><ellipse cx="252.0" cy="454.3" rx="1.2" ry="0.8" fill="#1c1890"/><ellipse cx="263.6" cy="361.0" rx="1.6" ry="1.1" fill="#1c1890"/><ellipse cx="218.7" cy="400.6" rx="1.5" ry="1.0" fill="#1c1890"/><ellipse cx="223.2" cy="370.8" rx="1.3" ry="0.8" fill="#1c1890"/><ellipse cx="217.2" cy="417.5" rx="1.2" ry="1.2" fill="#1c1890"/><ellipse cx="236.3" cy="406.6" rx="1.7" ry="1.2" fill="#1c1890"/><ellipse cx="274.6" cy="458.4" rx="1.1" ry="1.0" fill="#1c1890"/><ellipse cx="254.4" cy="375.8" rx="1.7" ry="1.2" fill="#1c1890"/><ellipse cx="233.6" cy="410.9" rx="1.5" ry="1.1" fill="#1c1890"/><ellipse cx="258.8" cy="366.2" rx="1.6" ry="1.0" fill="#1c1890"/><ellipse cx="294.9" cy="413.0" rx="1.5" ry="0.9" fill="#1c1890"/><ellipse cx="275.7" cy="356.1" rx="1.1" ry="0.9" fill="#1c1890"/><ellipse cx="236.8" cy="467.3" rx="1.3" ry="1.2" fill="#1c1890"/><ellipse cx="290.1" cy="428.7" rx="1.2" ry="0.9" fill="#1c1890"/><ellipse cx="297.9" cy="387.5" rx="1.2" ry="1.1" fill="#1c1890"/><ellipse cx="202.8" cy="435.5" rx="1.7" ry="0.8" fill="#1c1890"/><ellipse cx="271.3" cy="435.2" rx="1.7" ry="0.9" fill="#1c1890"/><ellipse cx="154.2" cy="278.2" rx="2.1" ry="1.5" fill="#6e2a4a"/><ellipse cx="150.2" cy="280.3" rx="2.1" ry="1.5" fill="#8e7c5a"/><ellipse cx="177.8" cy="274.7" rx="1.7" ry="1.3" fill="#e8203c"/><ellipse cx="198.6" cy="272.8" rx="1.7" ry="1.3" fill="#e8203c"/><ellipse cx="279.4" cy="269.8" rx="1.7" ry="1.3" fill="#e8203c"/><ellipse cx="281.2" cy="269.8" rx="1.7" ry="1.3" fill="#e8203c"/><ellipse cx="148.4" cy="288.5" rx="1.9" ry="1.3" fill="#8e7c5a"/><ellipse cx="192.3" cy="288.0" rx="1.9" ry="1.3" fill="#8e7c5a"/><ellipse cx="133.9" cy="305.6" rx="1.9" ry="1.3" fill="#8e7c5a"/><ellipse cx="121.5" cy="318.4" rx="1.9" ry="1.3" fill="#8e7c5a"/><ellipse cx="186.9" cy="337.8" rx="1.9" ry="1.3" fill="#8e7c5a"/><ellipse cx="191.0" cy="341.3" rx="1.9" ry="1.3" fill="#8e7c5a"/><ellipse cx="163.1" cy="302.7" rx="2.4" ry="1.7" fill="#1c1890"/><ellipse cx="181.8" cy="304.4" rx="2.4" ry="1.7" fill="#1c1890"/><ellipse cx="166.6" cy="346.0" rx="2.4" ry="1.7" fill="#1c1890"/><ellipse cx="197.0" cy="300.4" rx="2.1" ry="1.5" fill="#9a8060"/><ellipse cx="198.0" cy="300.2" rx="1.8" ry="1.4" fill="#2a1a3a"/><ellipse cx="191.1" cy="334.2" rx="2.1" ry="1.5" fill="#9a8060"/><ellipse cx="192.1" cy="334.0" rx="1.8" ry="1.4" fill="#2a1a3a"/><ellipse cx="91.0" cy="399.6" rx="1.6" ry="1.2" fill="#8e7c5a"/><ellipse cx="98.0" cy="453.5" rx="1.6" ry="1.2" fill="#8e7c5a"/><ellipse cx="130.2" cy="471.1" rx="1.6" ry="1.2" fill="#8e7c5a"/><ellipse cx="91.0" cy="495.5" rx="1.6" ry="1.2" fill="#8e7c5a"/><ellipse cx="112.7" cy="414.4" rx="2.8" ry="1.4" fill="#9a8060"/><ellipse cx="113.7" cy="414.2" rx="2.4" ry="1.3" fill="#2a1a3a"/><ellipse cx="34.7" cy="433.5" rx="3.2" ry="1.3" fill="#9a8060"/><ellipse cx="35.7" cy="433.3" rx="2.7" ry="1.2" fill="#2a1a3a"/><ellipse cx="117.7" cy="490.9" rx="2.1" ry="1.5" fill="#9a8060"/><ellipse cx="118.7" cy="490.7" rx="1.8" ry="1.4" fill="#2a1a3a"/><ellipse cx="19.3" cy="495.7" rx="2.1" ry="1.5" fill="#9a8060"/><ellipse cx="20.3" cy="495.5" rx="1.8" ry="1.4" fill="#2a1a3a"/><ellipse cx="127.3" cy="501.3" rx="2.1" ry="1.5" fill="#9a8060"/><ellipse cx="128.3" cy="501.1" rx="1.8" ry="1.4" fill="#2a1a3a"/><ellipse cx="116.7" cy="478.1" rx="2.1" ry="1.5" fill="#1c1890"/><ellipse cx="88.7" cy="486.0" rx="2.6" ry="2.0" fill="#1c1890"/><ellipse cx="130.7" cy="486.0" rx="2.6" ry="1.9" fill="#1c1890"/><ellipse cx="191.0" cy="333.9" rx="2.1" ry="1.5" fill="#9a8060"/><ellipse cx="192.0" cy="333.7" rx="1.8" ry="1.4" fill="#2a1a3a"/><ellipse cx="173.2" cy="349.8" rx="3.8" ry="1.5" fill="#9a8060"/><ellipse cx="174.2" cy="349.6" rx="3.2" ry="1.4" fill="#2a1a3a"/><ellipse cx="191.0" cy="355.4" rx="2.1" ry="1.5" fill="#9a8060"/><ellipse cx="192.0" cy="355.2" rx="1.8" ry="1.4" fill="#2a1a3a"/><ellipse cx="191.9" cy="358.2" rx="2.1" ry="1.5" fill="#9a8060"/><ellipse cx="192.9" cy="358.0" rx="1.8" ry="1.4" fill="#2a1a3a"/><ellipse cx="185.3" cy="360.2" rx="2.1" ry="1.5" fill="#9a8060"/><ellipse cx="186.3" cy="360.0" rx="1.8" ry="1.4" fill="#2a1a3a"/><ellipse cx="177.5" cy="366.1" rx="3.8" ry="1.5" fill="#9a8060"/><ellipse cx="178.5" cy="365.9" rx="3.2" ry="1.4" fill="#2a1a3a"/><ellipse cx="174.2" cy="370.9" rx="2.1" ry="1.5" fill="#9a8060"/><ellipse cx="175.2" cy="370.7" rx="1.8" ry="1.4" fill="#2a1a3a"/><ellipse cx="162.0" cy="372.2" rx="2.1" ry="1.5" fill="#9a8060"/><ellipse cx="163.0" cy="372.0" rx="1.8" ry="1.4" fill="#2a1a3a"/><ellipse cx="192.9" cy="388.2" rx="2.1" ry="1.5" fill="#9a8060"/><ellipse cx="193.9" cy="388.0" rx="1.8" ry="1.4" fill="#2a1a3a"/><ellipse cx="187.0" cy="337.9" rx="1.8" ry="1.3" fill="#8e7c5a"/><ellipse cx="190.7" cy="341.6" rx="1.8" ry="1.3" fill="#8e7c5a"/><ellipse cx="163.6" cy="346.4" rx="1.8" ry="1.3" fill="#8e7c5a"/><ellipse cx="180.5" cy="347.2" rx="1.8" ry="1.3" fill="#8e7c5a"/><ellipse cx="182.3" cy="352.4" rx="1.8" ry="1.3" fill="#8e7c5a"/><ellipse cx="203.8" cy="354.9" rx="1.8" ry="1.3" fill="#8e7c5a"/><ellipse cx="200.7" cy="364.0" rx="1.8" ry="1.3" fill="#8e7c5a"/><ellipse cx="202.0" cy="340.3" rx="2.1" ry="1.5" fill="#1c1890"/><ellipse cx="202.9" cy="331.0" rx="2.1" ry="1.5" fill="#1c1890"/><ellipse cx="166.4" cy="345.9" rx="2.1" ry="1.5" fill="#1c1890"/><ellipse cx="199.5" cy="349.3" rx="2.1" ry="1.5" fill="#1c1890"/><ellipse cx="144.6" cy="352.4" rx="1.5" ry="1.2" fill="#1c1890"/><ellipse cx="142.7" cy="359.9" rx="2.1" ry="1.5" fill="#1c1890"/><ellipse cx="183.8" cy="373.9" rx="2.1" ry="1.5" fill="#1c1890"/><ellipse cx="194.5" cy="372.6" rx="2.1" ry="1.5" fill="#1c1890"/><ellipse cx="176.7" cy="382.9" rx="2.1" ry="1.5" fill="#1c1890"/><ellipse cx="202.0" cy="388.9" rx="2.1" ry="1.5" fill="#1c1890"/><ellipse cx="201.0" cy="379.5" rx="3.5" ry="2.5" fill="#6e2a4a"/><ellipse cx="219.6" cy="279.7" rx="2.1" ry="1.5" fill="#1c1890"/><ellipse cx="227.1" cy="279.7" rx="2.1" ry="1.5" fill="#1c1890"/><ellipse cx="227.1" cy="284.8" rx="2.1" ry="1.5" fill="#1c1890"/><ellipse cx="253.3" cy="300.3" rx="2.1" ry="1.5" fill="#1c1890"/><ellipse cx="254.2" cy="306.8" rx="2.1" ry="1.5" fill="#1c1890"/><ellipse cx="208.4" cy="309.0" rx="1.4" ry="1.1" fill="#1c1890"/><ellipse cx="223.4" cy="317.1" rx="2.1" ry="1.5" fill="#1c1890"/><ellipse cx="224.3" cy="320.3" rx="2.1" ry="1.5" fill="#1c1890"/><ellipse cx="263.6" cy="317.5" rx="2.1" ry="1.5" fill="#1c1890"/><ellipse cx="249.5" cy="319.7" rx="2.1" ry="1.5" fill="#1c1890"/><ellipse cx="256.0" cy="322.7" rx="2.1" ry="1.5" fill="#1c1890"/><ellipse cx="212.1" cy="321.6" rx="2.1" ry="1.5" fill="#1c1890"/><ellipse cx="209.3" cy="325.0" rx="2.1" ry="1.5" fill="#1c1890"/><ellipse cx="211.2" cy="327.7" rx="2.1" ry="1.5" fill="#1c1890"/><ellipse cx="217.8" cy="320.3" rx="2.1" ry="1.5" fill="#1c1890"/><ellipse cx="227.1" cy="322.7" rx="2.1" ry="1.5" fill="#1c1890"/><ellipse cx="261.7" cy="325.0" rx="2.1" ry="1.5" fill="#1c1890"/><ellipse cx="203.7" cy="328.7" rx="2.1" ry="1.5" fill="#1c1890"/><ellipse cx="221.0" cy="278.6" rx="1.5" ry="1.1" fill="#e8203c"/><ellipse cx="229.0" cy="278.4" rx="1.5" ry="1.1" fill="#e8203c"/><ellipse cx="219.6" cy="288.5" rx="1.9" ry="1.3" fill="#8e7c5a"/><ellipse cx="276.3" cy="289.8" rx="1.9" ry="1.3" fill="#8e7c5a"/><ellipse cx="271.0" cy="307.2" rx="1.9" ry="1.3" fill="#8e7c5a"/><ellipse cx="214.0" cy="312.4" rx="1.9" ry="1.3" fill="#8e7c5a"/><ellipse cx="239.3" cy="322.1" rx="1.9" ry="1.3" fill="#8e7c5a"/><ellipse cx="222.4" cy="322.7" rx="1.9" ry="1.3" fill="#8e7c5a"/><ellipse cx="265.4" cy="321.6" rx="1.9" ry="1.3" fill="#8e7c5a"/><ellipse cx="219.0" cy="328.7" rx="1.9" ry="1.3" fill="#8e7c5a"/><ellipse cx="268.2" cy="327.2" rx="1.9" ry="1.3" fill="#8e7c5a"/><ellipse cx="248.7" cy="298.5" rx="1.9" ry="1.3" fill="#8e7c5a"/><ellipse cx="247.0" cy="296.7" rx="2.1" ry="1.5" fill="#9a8060"/><ellipse cx="248.0" cy="296.5" rx="1.8" ry="1.4" fill="#2a1a3a"/><ellipse cx="216.5" cy="301.8" rx="2.1" ry="1.5" fill="#9a8060"/><ellipse cx="217.5" cy="301.6" rx="1.8" ry="1.4" fill="#2a1a3a"/><ellipse cx="226.4" cy="306.5" rx="2.1" ry="1.5" fill="#9a8060"/><ellipse cx="227.4" cy="306.3" rx="1.8" ry="1.4" fill="#2a1a3a"/><ellipse cx="232.0" cy="308.7" rx="2.1" ry="1.5" fill="#9a8060"/><ellipse cx="233.0" cy="308.5" rx="1.8" ry="1.4" fill="#2a1a3a"/><ellipse cx="241.9" cy="311.5" rx="2.1" ry="1.5" fill="#9a8060"/><ellipse cx="242.9" cy="311.3" rx="1.8" ry="1.4" fill="#2a1a3a"/><ellipse cx="249.8" cy="315.4" rx="2.1" ry="1.5" fill="#9a8060"/><ellipse cx="250.8" cy="315.2" rx="1.8" ry="1.4" fill="#2a1a3a"/><ellipse cx="254.4" cy="314.9" rx="2.1" ry="1.5" fill="#9a8060"/><ellipse cx="255.4" cy="314.7" rx="1.8" ry="1.4" fill="#2a1a3a"/><ellipse cx="298.2" cy="307.9" rx="1.8" ry="1.3" fill="#8e7c5a"/><ellipse cx="341.9" cy="307.4" rx="1.8" ry="1.3" fill="#8e7c5a"/><ellipse cx="287.0" cy="313.7" rx="1.8" ry="1.3" fill="#8e7c5a"/><ellipse cx="289.3" cy="321.4" rx="1.8" ry="1.3" fill="#8e7c5a"/><ellipse cx="297.5" cy="321.4" rx="1.8" ry="1.3" fill="#8e7c5a"/><ellipse cx="363.0" cy="318.9" rx="1.8" ry="1.3" fill="#8e7c5a"/><ellipse cx="289.0" cy="343.0" rx="1.8" ry="1.3" fill="#8e7c5a"/><ellipse cx="297.5" cy="342.0" rx="1.8" ry="1.3" fill="#8e7c5a"/><ellipse cx="341.3" cy="329.2" rx="2.4" ry="1.3" fill="#9a8060"/><ellipse cx="342.3" cy="329.0" rx="2.0" ry="1.2" fill="#2a1a3a"/><ellipse cx="349.3" cy="329.2" rx="2.6" ry="1.3" fill="#9a8060"/><ellipse cx="350.3" cy="329.0" rx="2.2" ry="1.2" fill="#2a1a3a"/><ellipse cx="282.3" cy="311.4" rx="2.1" ry="1.5" fill="#1c1890"/><ellipse cx="359.4" cy="320.7" rx="2.3" ry="1.7" fill="#1c1890"/><ellipse cx="282.3" cy="328.2" rx="2.1" ry="1.5" fill="#1c1890"/><ellipse cx="294.5" cy="330.6" rx="2.1" ry="1.5" fill="#1c1890"/><ellipse cx="191.0" cy="388.9" rx="2.1" ry="1.5" fill="#9a8060"/><ellipse cx="192.0" cy="388.7" rx="1.8" ry="1.4" fill="#2a1a3a"/><ellipse cx="182.6" cy="393.6" rx="2.1" ry="1.5" fill="#9a8060"/><ellipse cx="183.6" cy="393.4" rx="1.8" ry="1.4" fill="#2a1a3a"/><ellipse cx="194.7" cy="399.2" rx="2.1" ry="1.5" fill="#9a8060"/><ellipse cx="195.7" cy="399.0" rx="1.8" ry="1.4" fill="#2a1a3a"/><ellipse cx="193.8" cy="403.0" rx="2.1" ry="1.5" fill="#9a8060"/><ellipse cx="194.8" cy="402.8" rx="1.8" ry="1.4" fill="#2a1a3a"/><ellipse cx="157.3" cy="402.4" rx="2.1" ry="1.5" fill="#9a8060"/><ellipse cx="158.3" cy="402.2" rx="1.8" ry="1.4" fill="#2a1a3a"/><ellipse cx="162.9" cy="413.2" rx="2.1" ry="1.5" fill="#9a8060"/><ellipse cx="163.9" cy="413.0" rx="1.8" ry="1.4" fill="#2a1a3a"/><ellipse cx="173.8" cy="411.9" rx="2.1" ry="1.5" fill="#9a8060"/><ellipse cx="174.8" cy="411.7" rx="1.8" ry="1.4" fill="#2a1a3a"/><ellipse cx="183.5" cy="411.4" rx="2.1" ry="1.5" fill="#9a8060"/><ellipse cx="184.5" cy="411.2" rx="1.8" ry="1.4" fill="#2a1a3a"/><ellipse cx="143.3" cy="415.1" rx="2.1" ry="1.5" fill="#9a8060"/><ellipse cx="144.3" cy="414.9" rx="1.8" ry="1.4" fill="#2a1a3a"/><ellipse cx="163.9" cy="417.9" rx="1.7" ry="2.4" fill="#9a8060"/><ellipse cx="164.9" cy="417.7" rx="1.4" ry="2.2" fill="#2a1a3a"/><ellipse cx="149.9" cy="422.6" rx="2.1" ry="1.5" fill="#9a8060"/><ellipse cx="150.9" cy="422.4" rx="1.8" ry="1.4" fill="#2a1a3a"/><ellipse cx="155.5" cy="423.5" rx="2.1" ry="1.5" fill="#9a8060"/><ellipse cx="156.5" cy="423.3" rx="1.8" ry="1.4" fill="#2a1a3a"/><ellipse cx="162.9" cy="427.3" rx="2.1" ry="1.5" fill="#9a8060"/><ellipse cx="163.9" cy="427.1" rx="1.8" ry="1.4" fill="#2a1a3a"/><ellipse cx="188.2" cy="430.1" rx="2.1" ry="1.5" fill="#9a8060"/><ellipse cx="189.2" cy="429.9" rx="1.8" ry="1.4" fill="#2a1a3a"/><ellipse cx="171.4" cy="437.5" rx="2.1" ry="1.5" fill="#9a8060"/><ellipse cx="172.4" cy="437.3" rx="1.8" ry="1.4" fill="#2a1a3a"/><ellipse cx="189.8" cy="398.1" rx="2.1" ry="1.5" fill="#1c1890"/><ellipse cx="202.9" cy="399.0" rx="2.1" ry="1.5" fill="#1c1890"/><ellipse cx="206.6" cy="392.5" rx="2.1" ry="1.5" fill="#1c1890"/><ellipse cx="179.5" cy="400.9" rx="2.1" ry="1.5" fill="#1c1890"/><ellipse cx="153.4" cy="404.6" rx="2.1" ry="1.5" fill="#1c1890"/><ellipse cx="168.3" cy="403.7" rx="2.1" ry="1.5" fill="#1c1890"/><ellipse cx="151.5" cy="409.3" rx="1.6" ry="1.2" fill="#1c1890"/><ellipse cx="196.4" cy="412.1" rx="2.1" ry="1.5" fill="#1c1890"/><ellipse cx="149.6" cy="414.0" rx="2.1" ry="1.5" fill="#1c1890"/><ellipse cx="184.2" cy="415.8" rx="2.1" ry="1.5" fill="#1c1890"/><ellipse cx="191.7" cy="418.6" rx="2.1" ry="1.5" fill="#1c1890"/><ellipse cx="186.0" cy="420.5" rx="2.1" ry="1.5" fill="#1c1890"/><ellipse cx="195.4" cy="421.4" rx="2.1" ry="1.5" fill="#1c1890"/><ellipse cx="152.4" cy="428.0" rx="2.1" ry="1.5" fill="#1c1890"/><ellipse cx="184.2" cy="428.9" rx="2.1" ry="1.5" fill="#1c1890"/><ellipse cx="195.4" cy="428.9" rx="2.1" ry="1.5" fill="#1c1890"/><ellipse cx="158.0" cy="433.6" rx="2.1" ry="1.5" fill="#1c1890"/><ellipse cx="149.6" cy="437.3" rx="2.6" ry="2.0" fill="#1c1890"/><ellipse cx="149.6" cy="402.8" rx="1.8" ry="1.3" fill="#8e7c5a"/><ellipse cx="175.8" cy="403.7" rx="1.8" ry="1.3" fill="#8e7c5a"/><ellipse cx="142.1" cy="420.5" rx="1.8" ry="1.3" fill="#8e7c5a"/><ellipse cx="173.9" cy="420.5" rx="1.8" ry="1.3" fill="#8e7c5a"/><ellipse cx="183.3" cy="441.1" rx="1.8" ry="1.3" fill="#8e7c5a"/><ellipse cx="188.0" cy="397.5" rx="1.8" ry="1.3" fill="#8e7c5a"/><ellipse cx="337.5" cy="348.4" rx="1.6" ry="1.2" fill="#8e7c5a"/><ellipse cx="357.0" cy="361.9" rx="1.6" ry="1.2" fill="#8e7c5a"/><ellipse cx="306.8" cy="370.5" rx="1.6" ry="1.2" fill="#8e7c5a"/><ellipse cx="313.0" cy="371.7" rx="1.6" ry="1.2" fill="#8e7c5a"/><ellipse cx="273.7" cy="393.8" rx="1.6" ry="1.2" fill="#8e7c5a"/><ellipse cx="301.9" cy="419.5" rx="1.6" ry="1.2" fill="#8e7c5a"/><ellipse cx="342.4" cy="431.8" rx="1.6" ry="1.2" fill="#8e7c5a"/><ellipse cx="286.0" cy="435.5" rx="1.6" ry="1.2" fill="#8e7c5a"/><ellipse cx="284.7" cy="417.1" rx="1.6" ry="1.2" fill="#8e7c5a"/><ellipse cx="280.0" cy="371.5" rx="3.0" ry="1.8" fill="#1c1890"/><ellipse cx="286.0" cy="371.0" rx="2.5" ry="1.8" fill="#1c1890"/><ellipse cx="291.5" cy="370.5" rx="2.6" ry="1.8" fill="#1c1890"/><ellipse cx="295.0" cy="369.5" rx="1.8" ry="1.8" fill="#1c1890"/><ellipse cx="338.2" cy="399.9" rx="2.1" ry="1.5" fill="#1c1890"/><ellipse cx="277.4" cy="403.6" rx="2.1" ry="1.5" fill="#1c1890"/><ellipse cx="290.9" cy="412.2" rx="2.1" ry="1.5" fill="#1c1890"/><ellipse cx="277.4" cy="415.4" rx="3.0" ry="1.6" fill="#1c1890"/><ellipse cx="278.6" cy="420.3" rx="2.1" ry="1.5" fill="#1c1890"/><ellipse cx="304.3" cy="415.9" rx="1.5" ry="1.2" fill="#1c1890"/><ellipse cx="292.0" cy="427.4" rx="2.1" ry="1.5" fill="#1c1890"/><ellipse cx="321.5" cy="425.7" rx="2.7" ry="2.0" fill="#1c1890"/><ellipse cx="288.4" cy="433.0" rx="2.1" ry="1.5" fill="#1c1890"/><ellipse cx="319.6" cy="371.9" rx="2.1" ry="1.5" fill="#9a8060"/><ellipse cx="320.6" cy="371.7" rx="1.8" ry="1.4" fill="#2a1a3a"/><ellipse cx="274.3" cy="380.5" rx="2.1" ry="1.5" fill="#9a8060"/><ellipse cx="275.3" cy="380.3" rx="1.8" ry="1.4" fill="#2a1a3a"/><ellipse cx="292.6" cy="387.9" rx="3.0" ry="1.4" fill="#9a8060"/><ellipse cx="293.6" cy="387.7" rx="2.5" ry="1.3" fill="#2a1a3a"/><ellipse cx="280.3" cy="388.3" rx="2.1" ry="1.5" fill="#9a8060"/><ellipse cx="281.3" cy="388.1" rx="1.8" ry="1.4" fill="#2a1a3a"/><ellipse cx="312.3" cy="390.3" rx="3.0" ry="1.4" fill="#9a8060"/><ellipse cx="313.3" cy="390.1" rx="2.5" ry="1.3" fill="#2a1a3a"/><ellipse cx="324.5" cy="393.5" rx="2.6" ry="1.4" fill="#9a8060"/><ellipse cx="325.5" cy="393.3" rx="2.2" ry="1.3" fill="#2a1a3a"/><ellipse cx="331.9" cy="390.3" rx="2.4" ry="1.4" fill="#9a8060"/><ellipse cx="332.9" cy="390.1" rx="2.0" ry="1.3" fill="#2a1a3a"/><ellipse cx="279.1" cy="398.9" rx="2.1" ry="1.5" fill="#9a8060"/><ellipse cx="280.1" cy="398.7" rx="1.8" ry="1.4" fill="#2a1a3a"/><ellipse cx="290.2" cy="401.3" rx="2.1" ry="1.5" fill="#9a8060"/><ellipse cx="291.2" cy="401.1" rx="1.8" ry="1.4" fill="#2a1a3a"/><ellipse cx="296.3" cy="408.7" rx="2.1" ry="1.5" fill="#9a8060"/><ellipse cx="297.3" cy="408.5" rx="1.8" ry="1.4" fill="#2a1a3a"/><ellipse cx="290.2" cy="420.5" rx="2.1" ry="1.5" fill="#9a8060"/><ellipse cx="291.2" cy="420.3" rx="1.8" ry="1.4" fill="#2a1a3a"/><ellipse cx="313.5" cy="421.0" rx="2.1" ry="1.5" fill="#9a8060"/><ellipse cx="314.5" cy="420.8" rx="1.8" ry="1.4" fill="#2a1a3a"/><ellipse cx="271.8" cy="424.7" rx="2.1" ry="1.5" fill="#9a8060"/><ellipse cx="272.8" cy="424.5" rx="1.8" ry="1.4" fill="#2a1a3a"/><ellipse cx="284.0" cy="425.4" rx="2.1" ry="1.5" fill="#9a8060"/><ellipse cx="285.0" cy="425.2" rx="1.8" ry="1.4" fill="#2a1a3a"/><ellipse cx="276.7" cy="441.8" rx="2.1" ry="1.5" fill="#9a8060"/><ellipse cx="277.7" cy="441.6" rx="1.8" ry="1.4" fill="#2a1a3a"/><ellipse cx="262.7" cy="435.6" rx="2.1" ry="1.5" fill="#1c1890"/><ellipse cx="286.5" cy="434.2" rx="2.1" ry="1.5" fill="#1c1890"/><ellipse cx="244.5" cy="449.6" rx="2.1" ry="1.5" fill="#1c1890"/><ellipse cx="208.0" cy="456.6" rx="2.1" ry="1.5" fill="#1c1890"/><ellipse cx="185.6" cy="455.2" rx="2.1" ry="1.5" fill="#1c1890"/><ellipse cx="192.6" cy="466.4" rx="2.1" ry="1.5" fill="#1c1890"/><ellipse cx="196.8" cy="473.5" rx="2.8" ry="1.7" fill="#1c1890"/><ellipse cx="210.8" cy="465.0" rx="2.1" ry="1.5" fill="#1c1890"/><ellipse cx="214.0" cy="452.5" rx="2.1" ry="1.5" fill="#1c1890"/><ellipse cx="216.0" cy="458.0" rx="2.1" ry="1.5" fill="#1c1890"/><ellipse cx="213.0" cy="461.0" rx="2.1" ry="1.5" fill="#1c1890"/><ellipse cx="251.5" cy="437.0" rx="1.8" ry="1.3" fill="#8e7c5a"/><ellipse cx="237.5" cy="459.4" rx="1.8" ry="1.3" fill="#8e7c5a"/><ellipse cx="196.8" cy="465.0" rx="1.8" ry="1.3" fill="#8e7c5a"/><ellipse cx="244.5" cy="479.0" rx="1.3" ry="1.0" fill="#8e7c5a"/><ellipse cx="285.0" cy="434.8" rx="1.8" ry="1.3" fill="#8e7c5a"/><ellipse cx="277.4" cy="442.0" rx="2.1" ry="1.5" fill="#9a8060"/><ellipse cx="278.4" cy="441.8" rx="1.8" ry="1.4" fill="#2a1a3a"/><ellipse cx="257.8" cy="448.4" rx="2.1" ry="1.5" fill="#9a8060"/><ellipse cx="258.8" cy="448.2" rx="1.8" ry="1.4" fill="#2a1a3a"/><ellipse cx="269.0" cy="451.2" rx="2.1" ry="1.5" fill="#9a8060"/><ellipse cx="270.0" cy="451.0" rx="1.8" ry="1.4" fill="#2a1a3a"/><ellipse cx="250.8" cy="455.4" rx="2.1" ry="1.5" fill="#9a8060"/><ellipse cx="251.8" cy="455.2" rx="1.8" ry="1.4" fill="#2a1a3a"/><ellipse cx="231.2" cy="463.8" rx="2.1" ry="1.5" fill="#9a8060"/><ellipse cx="232.2" cy="463.6" rx="1.8" ry="1.4" fill="#2a1a3a"/><ellipse cx="197.5" cy="458.2" rx="2.1" ry="1.5" fill="#9a8060"/><ellipse cx="198.5" cy="458.0" rx="1.8" ry="1.4" fill="#2a1a3a"/><ellipse cx="183.5" cy="469.4" rx="2.1" ry="1.5" fill="#9a8060"/><ellipse cx="184.5" cy="469.2" rx="1.8" ry="1.4" fill="#2a1a3a"/><ellipse cx="246.6" cy="465.2" rx="3.0" ry="1.5" fill="#9a8060"/><ellipse cx="247.6" cy="465.0" rx="2.5" ry="1.4" fill="#2a1a3a"/><ellipse cx="256.4" cy="476.5" rx="2.1" ry="1.5" fill="#9a8060"/><ellipse cx="257.4" cy="476.3" rx="1.8" ry="1.4" fill="#2a1a3a"/><ellipse cx="285.8" cy="469.4" rx="2.6" ry="1.3" fill="#9a8060"/><ellipse cx="286.8" cy="469.2" rx="2.2" ry="1.2" fill="#2a1a3a"/><ellipse cx="183.5" cy="484.9" rx="2.1" ry="1.5" fill="#9a8060"/><ellipse cx="184.5" cy="484.7" rx="1.8" ry="1.4" fill="#2a1a3a"/><ellipse cx="183.5" cy="476.5" rx="2.1" ry="1.5" fill="#9a8060"/><ellipse cx="184.5" cy="476.3" rx="1.8" ry="1.4" fill="#2a1a3a"/><ellipse cx="184.9" cy="505.9" rx="2.8" ry="1.3" fill="#9a8060"/><ellipse cx="185.9" cy="505.7" rx="2.4" ry="1.2" fill="#2a1a3a"/><ellipse cx="203.1" cy="501.7" rx="2.1" ry="1.5" fill="#9a8060"/><ellipse cx="204.1" cy="501.5" rx="1.8" ry="1.4" fill="#2a1a3a"/><ellipse cx="148.0" cy="443.4" rx="2.1" ry="1.5" fill="#1c1890"/><ellipse cx="146.2" cy="449.3" rx="2.1" ry="1.5" fill="#1c1890"/><ellipse cx="153.6" cy="452.7" rx="2.1" ry="1.5" fill="#1c1890"/><ellipse cx="161.1" cy="444.0" rx="2.1" ry="1.5" fill="#1c1890"/><ellipse cx="161.1" cy="447.5" rx="2.1" ry="1.5" fill="#1c1890"/><ellipse cx="181.7" cy="443.7" rx="2.1" ry="1.5" fill="#1c1890"/><ellipse cx="182.6" cy="453.1" rx="2.1" ry="1.5" fill="#1c1890"/><ellipse cx="185.0" cy="452.5" rx="2.1" ry="1.5" fill="#1c1890"/><ellipse cx="188.2" cy="455.0" rx="2.1" ry="1.5" fill="#1c1890"/><ellipse cx="157.4" cy="464.3" rx="2.1" ry="1.5" fill="#1c1890"/><ellipse cx="164.9" cy="468.0" rx="2.1" ry="1.5" fill="#1c1890"/><ellipse cx="157.4" cy="469.0" rx="2.1" ry="1.5" fill="#1c1890"/><ellipse cx="175.1" cy="463.4" rx="2.1" ry="1.5" fill="#1c1890"/><ellipse cx="179.4" cy="464.7" rx="2.1" ry="1.5" fill="#1c1890"/><ellipse cx="189.2" cy="461.0" rx="2.1" ry="1.5" fill="#1c1890"/><ellipse cx="194.8" cy="466.2" rx="2.1" ry="1.5" fill="#1c1890"/><ellipse cx="196.6" cy="473.6" rx="2.1" ry="1.5" fill="#1c1890"/><ellipse cx="131.2" cy="485.8" rx="2.6" ry="2.0" fill="#1c1890"/><ellipse cx="136.4" cy="490.5" rx="2.1" ry="1.5" fill="#1c1890"/><ellipse cx="152.9" cy="445.4" rx="2.1" ry="1.5" fill="#9a8060"/><ellipse cx="153.9" cy="445.2" rx="1.8" ry="1.4" fill="#2a1a3a"/><ellipse cx="155.3" cy="444.0" rx="2.1" ry="1.5" fill="#9a8060"/><ellipse cx="156.3" cy="443.8" rx="1.8" ry="1.4" fill="#2a1a3a"/><ellipse cx="169.4" cy="442.4" rx="2.1" ry="1.5" fill="#9a8060"/><ellipse cx="170.4" cy="442.2" rx="1.8" ry="1.4" fill="#2a1a3a"/><ellipse cx="170.7" cy="450.5" rx="2.1" ry="1.5" fill="#9a8060"/><ellipse cx="171.7" cy="450.3" rx="1.8" ry="1.4" fill="#2a1a3a"/><ellipse cx="172.6" cy="454.8" rx="2.1" ry="1.5" fill="#9a8060"/><ellipse cx="173.6" cy="454.6" rx="1.8" ry="1.4" fill="#2a1a3a"/><ellipse cx="195.9" cy="445.8" rx="2.1" ry="1.5" fill="#9a8060"/><ellipse cx="196.9" cy="445.6" rx="1.8" ry="1.4" fill="#2a1a3a"/><ellipse cx="162.3" cy="473.8" rx="2.1" ry="1.5" fill="#9a8060"/><ellipse cx="163.3" cy="473.6" rx="1.8" ry="1.4" fill="#2a1a3a"/><ellipse cx="184.7" cy="469.2" rx="2.1" ry="1.5" fill="#9a8060"/><ellipse cx="185.7" cy="469.0" rx="1.8" ry="1.4" fill="#2a1a3a"/><ellipse cx="196.9" cy="458.5" rx="2.1" ry="1.5" fill="#9a8060"/><ellipse cx="197.9" cy="458.3" rx="1.8" ry="1.4" fill="#2a1a3a"/><ellipse cx="183.8" cy="477.6" rx="2.1" ry="1.5" fill="#9a8060"/><ellipse cx="184.8" cy="477.4" rx="1.8" ry="1.4" fill="#2a1a3a"/><ellipse cx="175.0" cy="480.9" rx="2.1" ry="1.5" fill="#9a8060"/><ellipse cx="176.0" cy="480.7" rx="1.8" ry="1.4" fill="#2a1a3a"/><ellipse cx="161.3" cy="485.4" rx="2.1" ry="1.5" fill="#9a8060"/><ellipse cx="162.3" cy="485.2" rx="1.8" ry="1.4" fill="#2a1a3a"/><ellipse cx="184.3" cy="484.7" rx="2.1" ry="1.5" fill="#9a8060"/><ellipse cx="185.3" cy="484.5" rx="1.8" ry="1.4" fill="#2a1a3a"/><ellipse cx="127.7" cy="500.9" rx="2.1" ry="1.5" fill="#9a8060"/><ellipse cx="128.7" cy="500.7" rx="1.8" ry="1.4" fill="#2a1a3a"/><ellipse cx="170.1" cy="501.9" rx="2.1" ry="1.5" fill="#9a8060"/><ellipse cx="171.1" cy="501.7" rx="1.8" ry="1.4" fill="#2a1a3a"/><ellipse cx="185.7" cy="506.0" rx="2.8" ry="1.3" fill="#9a8060"/><ellipse cx="186.7" cy="505.8" rx="2.4" ry="1.2" fill="#2a1a3a"/><ellipse cx="140.8" cy="510.3" rx="2.1" ry="1.5" fill="#9a8060"/><ellipse cx="141.8" cy="510.1" rx="1.8" ry="1.4" fill="#2a1a3a"/><ellipse cx="141.5" cy="452.1" rx="1.7" ry="1.2" fill="#8e7c5a"/><ellipse cx="184.5" cy="441.0" rx="1.7" ry="1.2" fill="#8e7c5a"/><ellipse cx="156.4" cy="461.5" rx="1.7" ry="1.2" fill="#8e7c5a"/><ellipse cx="154.6" cy="473.6" rx="1.7" ry="1.2" fill="#8e7c5a"/><ellipse cx="192.0" cy="466.2" rx="1.7" ry="1.2" fill="#8e7c5a"/><ellipse cx="130.3" cy="470.3" rx="1.7" ry="1.2" fill="#8e7c5a"/><ellipse cx="156.4" cy="476.4" rx="1.7" ry="1.2" fill="#8e7c5a"/><ellipse cx="140.2" cy="482.0" rx="1.7" ry="1.2" fill="#8e7c5a"/><ellipse cx="202.1" cy="329.9" rx="2.1" ry="1.5" fill="#1c1890"/><ellipse cx="210.4" cy="328.6" rx="2.1" ry="1.5" fill="#1c1890"/><ellipse cx="220.0" cy="334.4" rx="2.1" ry="1.5" fill="#1c1890"/><ellipse cx="212.4" cy="337.0" rx="2.1" ry="1.5" fill="#1c1890"/><ellipse cx="202.1" cy="340.9" rx="2.1" ry="1.5" fill="#1c1890"/><ellipse cx="241.3" cy="340.9" rx="2.1" ry="1.5" fill="#1c1890"/><ellipse cx="244.5" cy="340.9" rx="2.1" ry="1.5" fill="#1c1890"/><ellipse cx="243.2" cy="336.4" rx="2.1" ry="1.5" fill="#1c1890"/><ellipse cx="199.5" cy="349.2" rx="2.1" ry="1.5" fill="#1c1890"/><ellipse cx="215.6" cy="346.6" rx="1.4" ry="1.1" fill="#1c1890"/><ellipse cx="229.1" cy="354.3" rx="2.1" ry="1.5" fill="#1c1890"/><ellipse cx="226.5" cy="355.0" rx="2.1" ry="1.5" fill="#1c1890"/><ellipse cx="248.3" cy="355.6" rx="2.1" ry="1.5" fill="#1c1890"/><ellipse cx="245.1" cy="362.1" rx="2.1" ry="1.5" fill="#1c1890"/><ellipse cx="226.5" cy="365.0" rx="2.1" ry="1.5" fill="#1c1890"/><ellipse cx="217.5" cy="369.1" rx="2.1" ry="1.5" fill="#1c1890"/><ellipse cx="223.3" cy="369.1" rx="2.1" ry="1.5" fill="#1c1890"/><ellipse cx="213.6" cy="373.6" rx="2.1" ry="1.5" fill="#1c1890"/><ellipse cx="221.0" cy="373.0" rx="2.1" ry="1.5" fill="#1c1890"/><ellipse cx="226.0" cy="373.5" rx="2.1" ry="1.5" fill="#1c1890"/><ellipse cx="230.0" cy="372.5" rx="2.1" ry="1.5" fill="#1c1890"/><ellipse cx="219.4" cy="329.0" rx="1.8" ry="1.3" fill="#8e7c5a"/><ellipse cx="225.2" cy="330.6" rx="1.8" ry="1.3" fill="#8e7c5a"/><ellipse cx="218.8" cy="338.3" rx="1.8" ry="1.3" fill="#8e7c5a"/><ellipse cx="233.6" cy="340.2" rx="3.2" ry="1.8" fill="#8e7c5a"/><ellipse cx="243.2" cy="333.1" rx="1.8" ry="1.3" fill="#8e7c5a"/><ellipse cx="246.4" cy="333.1" rx="1.8" ry="1.3" fill="#8e7c5a"/><ellipse cx="204.0" cy="355.0" rx="1.8" ry="1.3" fill="#8e7c5a"/><ellipse cx="200.1" cy="364.0" rx="1.8" ry="1.3" fill="#8e7c5a"/><ellipse cx="239.3" cy="330.2" rx="2.1" ry="1.5" fill="#9a8060"/><ellipse cx="240.3" cy="330.0" rx="1.8" ry="1.4" fill="#2a1a3a"/><ellipse cx="238.6" cy="344.9" rx="2.1" ry="1.5" fill="#9a8060"/><ellipse cx="239.6" cy="344.7" rx="1.8" ry="1.4" fill="#2a1a3a"/><ellipse cx="245.7" cy="347.5" rx="2.1" ry="1.5" fill="#9a8060"/><ellipse cx="246.7" cy="347.3" rx="1.8" ry="1.4" fill="#2a1a3a"/><ellipse cx="229.6" cy="350.7" rx="2.1" ry="1.5" fill="#9a8060"/><ellipse cx="230.6" cy="350.5" rx="1.8" ry="1.4" fill="#2a1a3a"/><ellipse cx="239.3" cy="350.7" rx="2.1" ry="1.5" fill="#9a8060"/><ellipse cx="240.3" cy="350.5" rx="1.8" ry="1.4" fill="#2a1a3a"/><ellipse cx="235.4" cy="363.5" rx="2.1" ry="1.5" fill="#9a8060"/><ellipse cx="236.4" cy="363.3" rx="1.8" ry="1.4" fill="#2a1a3a"/><ellipse cx="236.7" cy="366.8" rx="2.1" ry="1.5" fill="#9a8060"/><ellipse cx="237.7" cy="366.6" rx="1.8" ry="1.4" fill="#2a1a3a"/><ellipse cx="216.2" cy="364.2" rx="2.1" ry="1.5" fill="#9a8060"/><ellipse cx="217.2" cy="364.0" rx="1.8" ry="1.4" fill="#2a1a3a"/><ellipse cx="235.4" cy="367.4" rx="2.1" ry="1.5" fill="#9a8060"/><ellipse cx="236.4" cy="367.2" rx="1.8" ry="1.4" fill="#2a1a3a"/><ellipse cx="245.1" cy="369.3" rx="2.1" ry="1.5" fill="#9a8060"/><ellipse cx="246.1" cy="369.1" rx="1.8" ry="1.4" fill="#2a1a3a"/><ellipse cx="236.7" cy="375.8" rx="2.1" ry="1.5" fill="#9a8060"/><ellipse cx="237.7" cy="375.6" rx="1.8" ry="1.4" fill="#2a1a3a"/><ellipse cx="221.3" cy="335.0" rx="2.1" ry="1.5" fill="#9a8060"/><ellipse cx="222.3" cy="334.8" rx="1.8" ry="1.4" fill="#2a1a3a"/><ellipse cx="202.0" cy="379.5" rx="3.0" ry="2.0" fill="#6e2a4a"/><ellipse cx="206.0" cy="381.0" rx="2.5" ry="1.8" fill="#6e2a4a"/><ellipse cx="226.0" cy="379.0" rx="3.0" ry="2.0" fill="#6e2a4a"/><ellipse cx="231.0" cy="380.0" rx="3.0" ry="2.0" fill="#6e2a4a"/><ellipse cx="278.3" cy="334.0" rx="2.1" ry="1.5" fill="#9a8060"/><ellipse cx="279.3" cy="333.8" rx="1.8" ry="1.4" fill="#2a1a3a"/><ellipse cx="288.0" cy="342.3" rx="2.1" ry="1.5" fill="#9a8060"/><ellipse cx="289.0" cy="342.1" rx="1.8" ry="1.4" fill="#2a1a3a"/><ellipse cx="296.3" cy="343.0" rx="2.1" ry="1.5" fill="#9a8060"/><ellipse cx="297.3" cy="342.8" rx="1.8" ry="1.4" fill="#2a1a3a"/><ellipse cx="284.1" cy="350.7" rx="2.1" ry="1.5" fill="#9a8060"/><ellipse cx="285.1" cy="350.5" rx="1.8" ry="1.4" fill="#2a1a3a"/><ellipse cx="279.6" cy="355.2" rx="2.1" ry="1.5" fill="#9a8060"/><ellipse cx="280.6" cy="355.0" rx="1.8" ry="1.4" fill="#2a1a3a"/><ellipse cx="297.0" cy="362.3" rx="2.1" ry="1.5" fill="#9a8060"/><ellipse cx="298.0" cy="362.1" rx="1.8" ry="1.4" fill="#2a1a3a"/><ellipse cx="277.7" cy="366.8" rx="2.1" ry="1.5" fill="#9a8060"/><ellipse cx="278.7" cy="366.6" rx="1.8" ry="1.4" fill="#2a1a3a"/><ellipse cx="259.7" cy="373.2" rx="2.1" ry="1.5" fill="#9a8060"/><ellipse cx="260.7" cy="373.0" rx="1.8" ry="1.4" fill="#2a1a3a"/><ellipse cx="271.9" cy="373.2" rx="2.1" ry="1.5" fill="#9a8060"/><ellipse cx="272.9" cy="373.0" rx="1.8" ry="1.4" fill="#2a1a3a"/><ellipse cx="249.4" cy="376.4" rx="2.1" ry="1.5" fill="#9a8060"/><ellipse cx="250.4" cy="376.2" rx="1.8" ry="1.4" fill="#2a1a3a"/><ellipse cx="274.5" cy="380.2" rx="2.1" ry="1.5" fill="#9a8060"/><ellipse cx="275.5" cy="380.0" rx="1.8" ry="1.4" fill="#2a1a3a"/><ellipse cx="294.5" cy="330.6" rx="2.1" ry="1.5" fill="#1c1890"/><ellipse cx="294.5" cy="351.8" rx="2.1" ry="1.5" fill="#1c1890"/><ellipse cx="256.0" cy="376.2" rx="2.1" ry="1.5" fill="#1c1890"/><ellipse cx="287.4" cy="376.2" rx="1.6" ry="1.2" fill="#8e7c5a"/><ellipse cx="248.0" cy="370.5" rx="3.0" ry="1.6" fill="#6e2a4a"/><ellipse cx="253.0" cy="371.0" rx="2.6" ry="1.5" fill="#6e2a4a"/><ellipse cx="251.4" cy="382.6" rx="2.1" ry="1.5" fill="#1c1890"/><ellipse cx="250.8" cy="391.6" rx="2.1" ry="1.5" fill="#1c1890"/><ellipse cx="246.9" cy="396.1" rx="2.1" ry="1.5" fill="#1c1890"/><ellipse cx="255.9" cy="395.4" rx="2.1" ry="1.5" fill="#1c1890"/><ellipse cx="260.4" cy="397.4" rx="2.1" ry="1.5" fill="#1c1890"/><ellipse cx="269.4" cy="405.7" rx="2.1" ry="1.5" fill="#1c1890"/><ellipse cx="277.8" cy="404.4" rx="2.1" ry="1.5" fill="#1c1890"/><ellipse cx="297.0" cy="408.3" rx="2.1" ry="1.5" fill="#1c1890"/><ellipse cx="290.6" cy="412.1" rx="2.1" ry="1.5" fill="#1c1890"/><ellipse cx="278.4" cy="415.7" rx="2.8" ry="1.6" fill="#1c1890"/><ellipse cx="258.5" cy="417.3" rx="2.1" ry="1.5" fill="#1c1890"/><ellipse cx="279.0" cy="420.1" rx="2.1" ry="1.5" fill="#1c1890"/><ellipse cx="246.3" cy="425.6" rx="2.1" ry="1.5" fill="#1c1890"/><ellipse cx="292.6" cy="427.6" rx="2.1" ry="1.5" fill="#1c1890"/><ellipse cx="288.7" cy="432.7" rx="2.1" ry="1.5" fill="#1c1890"/><ellipse cx="258.4" cy="385.3" rx="2.1" ry="1.5" fill="#9a8060"/><ellipse cx="259.4" cy="385.1" rx="1.8" ry="1.4" fill="#2a1a3a"/><ellipse cx="260.8" cy="384.7" rx="2.1" ry="1.5" fill="#9a8060"/><ellipse cx="261.8" cy="384.5" rx="1.8" ry="1.4" fill="#2a1a3a"/><ellipse cx="274.5" cy="380.8" rx="2.1" ry="1.5" fill="#9a8060"/><ellipse cx="275.5" cy="380.6" rx="1.8" ry="1.4" fill="#2a1a3a"/><ellipse cx="280.9" cy="387.9" rx="2.1" ry="1.5" fill="#9a8060"/><ellipse cx="281.9" cy="387.7" rx="1.8" ry="1.4" fill="#2a1a3a"/><ellipse cx="291.2" cy="387.9" rx="3.0" ry="1.4" fill="#9a8060"/><ellipse cx="292.2" cy="387.7" rx="2.5" ry="1.3" fill="#2a1a3a"/><ellipse cx="279.6" cy="393.1" rx="2.1" ry="1.5" fill="#9a8060"/><ellipse cx="280.6" cy="392.9" rx="1.8" ry="1.4" fill="#2a1a3a"/><ellipse cx="266.2" cy="397.6" rx="2.1" ry="1.5" fill="#9a8060"/><ellipse cx="267.2" cy="397.4" rx="1.8" ry="1.4" fill="#2a1a3a"/><ellipse cx="251.3" cy="400.2" rx="2.1" ry="1.5" fill="#9a8060"/><ellipse cx="252.3" cy="400.0" rx="1.8" ry="1.4" fill="#2a1a3a"/><ellipse cx="255.3" cy="401.7" rx="2.1" ry="1.5" fill="#9a8060"/><ellipse cx="256.3" cy="401.5" rx="1.8" ry="1.4" fill="#2a1a3a"/><ellipse cx="258.3" cy="399.7" rx="2.1" ry="1.5" fill="#9a8060"/><ellipse cx="259.3" cy="399.5" rx="1.8" ry="1.4" fill="#2a1a3a"/><ellipse cx="278.3" cy="399.5" rx="2.1" ry="1.5" fill="#9a8060"/><ellipse cx="279.3" cy="399.3" rx="1.8" ry="1.4" fill="#2a1a3a"/><ellipse cx="290.6" cy="400.8" rx="2.1" ry="1.5" fill="#9a8060"/><ellipse cx="291.6" cy="400.6" rx="1.8" ry="1.4" fill="#2a1a3a"/><ellipse cx="254.6" cy="406.6" rx="2.1" ry="1.5" fill="#9a8060"/><ellipse cx="255.6" cy="406.4" rx="1.8" ry="1.4" fill="#2a1a3a"/><ellipse cx="268.1" cy="411.0" rx="2.1" ry="1.5" fill="#9a8060"/><ellipse cx="269.1" cy="410.8" rx="1.8" ry="1.4" fill="#2a1a3a"/><ellipse cx="270.0" cy="414.2" rx="2.1" ry="1.5" fill="#9a8060"/><ellipse cx="271.0" cy="414.0" rx="1.8" ry="1.4" fill="#2a1a3a"/><ellipse cx="258.4" cy="414.2" rx="2.1" ry="1.5" fill="#9a8060"/><ellipse cx="259.4" cy="414.0" rx="1.8" ry="1.4" fill="#2a1a3a"/><ellipse cx="264.9" cy="417.7" rx="2.1" ry="1.5" fill="#9a8060"/><ellipse cx="265.9" cy="417.5" rx="1.8" ry="1.4" fill="#2a1a3a"/><ellipse cx="289.9" cy="420.7" rx="2.1" ry="1.5" fill="#9a8060"/><ellipse cx="290.9" cy="420.5" rx="1.8" ry="1.4" fill="#2a1a3a"/><ellipse cx="248.2" cy="422.0" rx="2.1" ry="1.5" fill="#9a8060"/><ellipse cx="249.2" cy="421.8" rx="1.8" ry="1.4" fill="#2a1a3a"/><ellipse cx="253.9" cy="423.9" rx="2.1" ry="1.5" fill="#9a8060"/><ellipse cx="254.9" cy="423.7" rx="1.8" ry="1.4" fill="#2a1a3a"/><ellipse cx="257.8" cy="425.8" rx="2.1" ry="1.5" fill="#9a8060"/><ellipse cx="258.8" cy="425.6" rx="1.8" ry="1.4" fill="#2a1a3a"/><ellipse cx="271.9" cy="425.2" rx="2.1" ry="1.5" fill="#9a8060"/><ellipse cx="272.9" cy="425.0" rx="1.8" ry="1.4" fill="#2a1a3a"/><ellipse cx="284.1" cy="425.2" rx="2.1" ry="1.5" fill="#9a8060"/><ellipse cx="285.1" cy="425.0" rx="1.8" ry="1.4" fill="#2a1a3a"/><ellipse cx="265.5" cy="429.7" rx="2.1" ry="1.5" fill="#9a8060"/><ellipse cx="266.5" cy="429.5" rx="1.8" ry="1.4" fill="#2a1a3a"/><ellipse cx="273.3" cy="392.9" rx="1.8" ry="1.3" fill="#8e7c5a"/><ellipse cx="284.8" cy="417.3" rx="1.8" ry="1.3" fill="#8e7c5a"/><ellipse cx="249.5" cy="430.8" rx="1.8" ry="1.3" fill="#8e7c5a"/></g></svg></body></html>
